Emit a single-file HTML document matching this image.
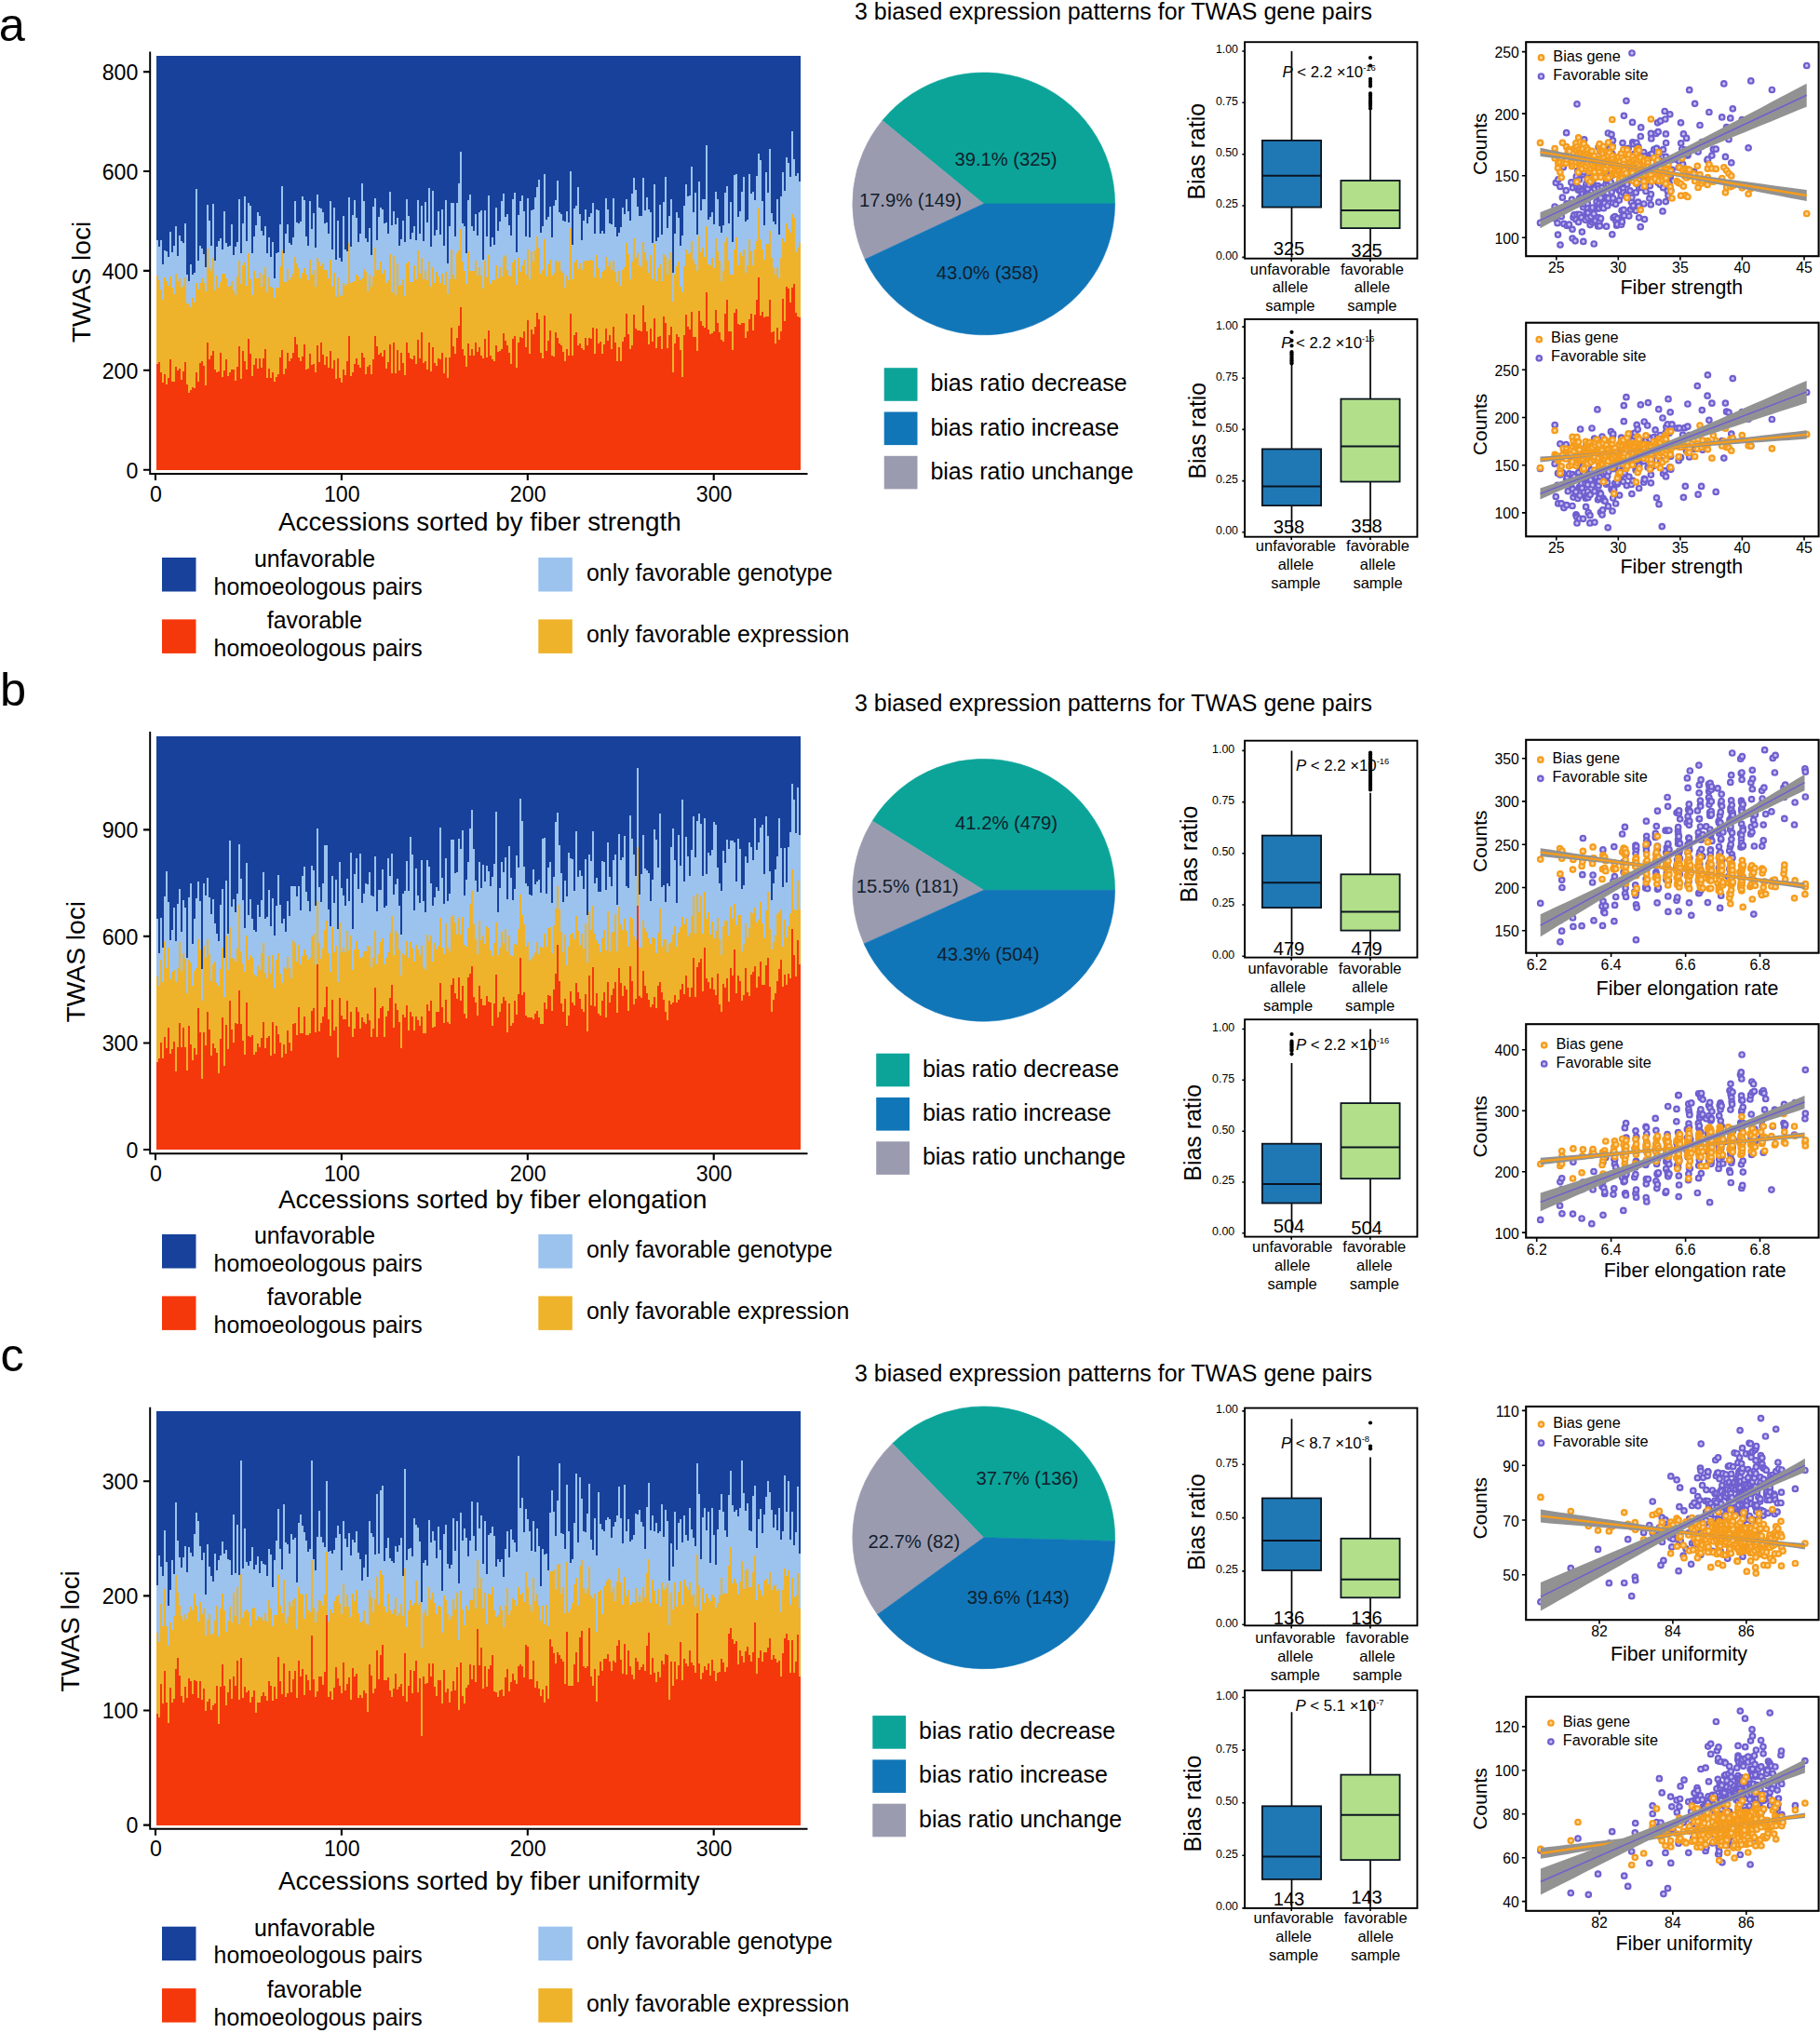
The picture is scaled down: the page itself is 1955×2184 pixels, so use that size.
<!DOCTYPE html>
<html lang="en"><head><meta charset="utf-8"><title>TWAS biased expression patterns</title>
<style>html,body{margin:0;padding:0;background:#fff}svg{display:block}text{font-family:"Liberation Sans", sans-serif}</style>
</head><body>
<svg width="1955" height="2184" viewBox="0 0 1955 2184" font-family='"Liberation Sans", sans-serif'><g shape-rendering="crispEdges">
<rect x="168.3" y="60.0" width="692.0" height="444.7" fill="#17419B"/>
<path d="M168.3 504.7V258.1h2V264.8h2V258.4h2V284.1h2V268.6h2V270.4h2V276.4h2V249.3h2V271.3h2V263.9h2V243.1h2V274.9h2V252.9h2V259.3h2V260.8h2V240.2h2V295.1h2V301.6h2V283.9h2V294.5h2V293.2h2V202.9h2V280.4h2V263.7h2V266.8h2V273.0h2V287.4h2V220.0h2V237.4h2V264.4h2V218.6h2V280.1h2V264.6h2V258.6h2V256.3h2V267.5h2V227.4h2V261.4h2V265.1h2V263.7h2V240.9h2V273.6h2V265.2h2V260.4h2V214.0h2V272.3h2V240.0h2V210.7h2V259.2h2V217.9h2V221.2h2V271.5h2V254.2h2V242.3h2V227.8h2V231.6h2V248.3h2V253.3h2V242.8h2V271.5h2V255.1h2V276.0h2V259.7h2V299.3h2V272.3h2V270.7h2V241.4h2V199.5h2V271.8h2V251.1h2V241.2h2V260.7h2V262.8h2V255.4h2V216.4h2V239.0h2V240.3h2V238.2h2V211.3h2V214.5h2V253.9h2V264.0h2V215.9h2V245.5h2V229.0h2V265.8h2V208.8h2V223.3h2V223.5h2V228.0h2V239.7h2V239.0h2V251.3h2V215.8h2V268.1h2V222.8h2V279.1h2V237.2h2V276.7h2V280.8h2V232.1h2V268.2h2V269.6h2V212.3h2V265.1h2V231.0h2V214.5h2V234.4h2V260.2h2V251.4h2V196.6h2V216.4h2V256.2h2V260.1h2V244.9h2V274.0h2V221.6h2V212.7h2V257.8h2V233.1h2V223.4h2V225.4h2V239.9h2V239.4h2V251.2h2V206.0h2V242.3h2V226.6h2V241.4h2V234.1h2V264.0h2V256.7h2V236.8h2V260.4h2V214.2h2V231.9h2V257.3h2V250.4h2V243.3h2V258.1h2V215.1h2V250.9h2V220.5h2V259.1h2V216.5h2V239.2h2V202.1h2V264.7h2V204.7h2V253.1h2V246.9h2V227.0h2V251.8h2V224.5h2V263.6h2V215.2h2V282.7h2V242.5h2V217.5h2V217.9h2V253.7h2V217.9h2V197.3h2V163.4h2V239.7h2V242.7h2V271.7h2V214.7h2V209.0h2V243.1h2V247.8h2V230.3h2V252.5h2V228.1h2V225.9h2V278.5h2V226.4h2V253.7h2V209.9h2V264.6h2V254.5h2V262.6h2V223.2h2V247.7h2V237.8h2V216.4h2V207.9h2V233.4h2V229.8h2V242.2h2V252.9h2V214.4h2V207.3h2V271.3h2V230.9h2V216.1h2V210.4h2V226.8h2V253.8h2V213.0h2V255.0h2V226.0h2V224.8h2V212.2h2V201.3h2V192.9h2V250.1h2V243.3h2V186.7h2V235.8h2V233.2h2V221.6h2V254.9h2V221.2h2V214.9h2V193.5h2V227.5h2V229.7h2V237.2h2V237.7h2V227.1h2V239.1h2V183.6h2V263.4h2V223.7h2V221.1h2V200.6h2V229.7h2V257.9h2V237.1h2V225.3h2V240.1h2V233.1h2V229.2h2V218.4h2V251.4h2V224.7h2V225.8h2V251.1h2V248.3h2V250.5h2V213.2h2V224.8h2V240.4h2V241.4h2V213.0h2V243.6h2V254.0h2V250.2h2V244.4h2V222.6h2V230.3h2V214.3h2V227.3h2V237.1h2V207.5h2V190.9h2V204.0h2V222.0h2V232.0h2V232.1h2V190.5h2V226.2h2V211.9h2V224.8h2V228.3h2V260.6h2V198.3h2V258.8h2V255.3h2V220.4h2V251.5h2V217.2h2V190.1h2V244.5h2V232.3h2V213.6h2V292.5h2V251.1h2V227.9h2V234.2h2V264.3h2V253.2h2V221.2h2V197.5h2V210.7h2V210.3h2V178.9h2V227.7h2V206.6h2V252.0h2V195.3h2V225.5h2V214.2h2V214.0h2V156.1h2V235.8h2V232.5h2V228.1h2V240.9h2V205.9h2V213.8h2V242.6h2V250.3h2V241.7h2V206.7h2V200.1h2V239.8h2V217.4h2V260.2h2V187.5h2V187.2h2V233.3h2V226.8h2V205.8h2V189.7h2V238.0h2V235.5h2V187.2h2V208.1h2V205.7h2V215.4h2V188.9h2V165.2h2V171.6h2V216.3h2V242.2h2V184.7h2V206.6h2V160.0h2V229.0h2V237.6h2V240.7h2V213.6h2V252.1h2V210.7h2V184.9h2V204.9h2V169.0h2V174.7h2V189.9h2V140.8h2V170.7h2V189.0h2V186.4h2V195.1h2V504.7Z" fill="#9CC3EE"/>
<path d="M168.3 504.7V295.6h2V300.6h2V311.4h2V321.6h2V297.8h2V302.2h2V307.3h2V296.9h2V309.1h2V315.8h2V294.4h2V301.7h2V299.4h2V308.6h2V307.1h2V297.6h2V326.1h2V326.4h2V330.3h2V320.2h2V325.2h2V304.2h2V311.1h2V304.4h2V299.0h2V304.2h2V313.3h2V267.3h2V287.5h2V291.2h2V276.6h2V311.5h2V296.2h2V308.7h2V303.0h2V293.7h2V294.2h2V299.3h2V308.0h2V307.1h2V302.2h2V311.6h2V317.2h2V297.1h2V279.5h2V304.7h2V285.3h2V281.7h2V307.3h2V272.2h2V299.7h2V316.6h2V291.1h2V298.5h2V299.4h2V293.3h2V307.9h2V294.8h2V287.0h2V313.7h2V298.2h2V307.5h2V309.3h2V320.4h2V308.8h2V308.5h2V286.1h2V269.3h2V302.7h2V302.6h2V288.5h2V301.0h2V298.2h2V294.1h2V275.5h2V282.5h2V288.3h2V298.7h2V293.2h2V287.7h2V294.6h2V300.5h2V278.6h2V294.7h2V289.8h2V308.3h2V277.0h2V281.0h2V286.0h2V283.4h2V290.2h2V290.0h2V298.5h2V279.4h2V307.7h2V293.4h2V318.6h2V298.2h2V316.6h2V317.9h2V303.8h2V307.3h2V305.4h2V261.4h2V304.0h2V303.4h2V301.9h2V294.9h2V297.2h2V300.7h2V299.1h2V289.2h2V292.4h2V313.4h2V294.6h2V307.6h2V296.8h2V265.8h2V290.2h2V290.4h2V280.7h2V294.3h2V289.6h2V304.1h2V301.4h2V272.6h2V314.4h2V275.4h2V317.0h2V283.0h2V307.3h2V305.8h2V299.9h2V317.9h2V283.1h2V280.6h2V302.8h2V302.8h2V284.6h2V300.0h2V269.0h2V294.1h2V276.5h2V300.4h2V291.1h2V301.4h2V281.0h2V307.9h2V286.6h2V304.0h2V291.6h2V296.6h2V303.8h2V293.9h2V306.2h2V292.2h2V316.3h2V300.2h2V267.5h2V295.1h2V300.4h2V272.4h2V269.1h2V246.3h2V281.3h2V290.8h2V304.9h2V269.8h2V290.7h2V291.1h2V290.7h2V280.2h2V296.4h2V286.9h2V295.7h2V309.8h2V280.0h2V298.3h2V274.0h2V305.2h2V300.7h2V300.6h2V285.0h2V299.0h2V286.9h2V296.7h2V275.7h2V273.9h2V290.1h2V295.8h2V297.3h2V282.3h2V279.3h2V306.3h2V277.3h2V292.1h2V284.5h2V279.1h2V295.1h2V268.1h2V299.8h2V269.9h2V281.2h2V268.5h2V254.0h2V266.4h2V293.5h2V289.9h2V257.3h2V296.7h2V283.5h2V278.9h2V295.9h2V293.0h2V280.0h2V282.2h2V279.6h2V291.0h2V293.0h2V308.9h2V296.2h2V300.7h2V245.2h2V300.4h2V281.9h2V279.0h2V289.1h2V282.9h2V290.3h2V281.0h2V280.4h2V280.4h2V279.6h2V279.3h2V280.3h2V297.9h2V273.8h2V288.3h2V298.6h2V292.0h2V290.1h2V276.0h2V286.2h2V280.9h2V290.3h2V279.7h2V292.1h2V302.6h2V290.6h2V307.3h2V289.5h2V286.9h2V260.6h2V272.6h2V299.6h2V281.3h2V255.9h2V277.1h2V272.0h2V285.4h2V287.1h2V260.1h2V271.2h2V279.5h2V293.1h2V274.2h2V300.1h2V262.2h2V302.0h2V287.6h2V284.4h2V301.8h2V272.5h2V276.3h2V294.6h2V278.7h2V270.7h2V323.5h2V294.6h2V286.3h2V281.4h2V308.1h2V314.4h2V285.5h2V268.0h2V273.1h2V271.2h2V259.0h2V278.9h2V283.7h2V290.6h2V253.3h2V270.6h2V266.3h2V275.5h2V242.5h2V283.8h2V284.5h2V277.3h2V287.6h2V256.1h2V270.3h2V280.1h2V301.5h2V291.0h2V259.8h2V255.0h2V280.4h2V295.3h2V294.6h2V267.5h2V255.2h2V285.4h2V271.2h2V274.9h2V268.4h2V293.3h2V284.8h2V257.4h2V270.3h2V285.1h2V267.8h2V258.5h2V224.4h2V257.1h2V268.0h2V279.4h2V261.5h2V261.7h2V248.1h2V276.7h2V288.2h2V295.4h2V287.4h2V299.3h2V276.7h2V255.9h2V259.6h2V240.0h2V245.6h2V250.2h2V230.3h2V234.1h2V271.4h2V265.5h2V260.8h2V504.7Z" fill="#EEB32B"/>
<path d="M168.3 504.7V391.3h2V389.4h2V400.0h2V411.0h2V401.9h2V413.0h2V406.1h2V386.4h2V409.6h2V410.3h2V393.5h2V398.4h2V395.7h2V408.3h2V398.7h2V389.0h2V412.6h2V421.5h2V419.3h2V416.3h2V416.5h2V399.7h2V409.9h2V389.8h2V387.6h2V392.7h2V414.2h2V368.4h2V385.5h2V381.7h2V377.3h2V397.0h2V399.7h2V399.4h2V378.8h2V404.5h2V397.8h2V386.1h2V404.0h2V400.4h2V396.9h2V397.0h2V408.7h2V393.6h2V371.8h2V407.0h2V377.4h2V388.4h2V397.0h2V363.6h2V380.3h2V403.9h2V392.2h2V385.3h2V396.2h2V385.3h2V395.2h2V385.0h2V375.0h2V405.5h2V396.1h2V406.0h2V399.7h2V410.2h2V404.9h2V401.9h2V384.0h2V375.8h2V401.6h2V395.5h2V378.6h2V388.2h2V384.6h2V379.2h2V362.2h2V369.9h2V384.3h2V388.3h2V383.4h2V370.3h2V397.2h2V396.3h2V379.9h2V391.6h2V390.6h2V400.0h2V370.8h2V388.6h2V368.0h2V381.0h2V392.2h2V383.4h2V395.3h2V377.0h2V396.0h2V387.1h2V406.9h2V385.0h2V406.2h2V411.0h2V396.9h2V403.0h2V387.9h2V361.1h2V403.8h2V400.2h2V391.0h2V384.8h2V391.8h2V394.8h2V378.6h2V383.9h2V402.4h2V393.6h2V391.7h2V402.1h2V386.4h2V361.3h2V371.5h2V380.9h2V378.7h2V382.8h2V375.9h2V395.9h2V389.0h2V369.9h2V400.5h2V368.3h2V401.0h2V375.5h2V397.7h2V379.0h2V389.9h2V403.0h2V367.7h2V378.5h2V385.4h2V385.7h2V382.1h2V390.5h2V365.0h2V385.1h2V356.8h2V389.5h2V387.8h2V397.4h2V367.7h2V398.6h2V373.2h2V389.7h2V392.9h2V385.3h2V385.5h2V378.7h2V401.0h2V384.4h2V406.4h2V384.4h2V351.9h2V371.6h2V380.1h2V362.7h2V350.0h2V329.9h2V375.4h2V382.3h2V394.0h2V368.5h2V382.2h2V375.4h2V382.4h2V368.2h2V377.8h2V373.4h2V381.7h2V385.3h2V363.8h2V383.7h2V355.0h2V382.1h2V385.8h2V387.8h2V370.9h2V378.2h2V376.5h2V375.0h2V357.8h2V366.3h2V370.9h2V378.6h2V391.1h2V364.0h2V361.0h2V395.3h2V367.9h2V362.4h2V363.0h2V355.7h2V373.2h2V344.1h2V380.1h2V353.9h2V358.5h2V350.9h2V336.3h2V342.6h2V379.2h2V385.3h2V339.2h2V377.4h2V366.3h2V355.1h2V382.4h2V383.2h2V356.8h2V363.4h2V369.4h2V371.3h2V378.2h2V387.9h2V374.8h2V381.9h2V336.8h2V382.2h2V360.3h2V356.8h2V370.8h2V369.2h2V374.4h2V376.2h2V363.2h2V371.4h2V362.5h2V364.3h2V351.7h2V380.4h2V353.3h2V368.6h2V367.4h2V380.1h2V369.5h2V353.0h2V365.7h2V359.8h2V374.7h2V351.4h2V367.6h2V387.6h2V373.0h2V388.4h2V366.8h2V361.9h2V337.2h2V359.1h2V374.7h2V371.0h2V337.5h2V352.9h2V355.3h2V355.4h2V355.5h2V327.7h2V346.1h2V356.0h2V370.2h2V352.7h2V367.1h2V341.5h2V373.9h2V362.4h2V360.5h2V375.2h2V340.3h2V347.0h2V374.4h2V360.2h2V350.9h2V400.4h2V368.8h2V358.5h2V362.0h2V375.5h2V404.5h2V360.1h2V338.1h2V351.3h2V353.8h2V335.2h2V362.4h2V361.7h2V376.8h2V334.4h2V345.0h2V350.3h2V352.1h2V314.1h2V354.1h2V359.1h2V357.9h2V355.6h2V332.8h2V346.8h2V357.4h2V365.1h2V367.0h2V336.6h2V321.5h2V356.1h2V356.4h2V375.9h2V336.0h2V332.3h2V348.4h2V349.1h2V347.0h2V346.5h2V363.1h2V355.5h2V343.3h2V337.3h2V354.8h2V338.0h2V322.4h2V298.3h2V339.0h2V335.0h2V341.0h2V340.0h2V339.6h2V322.2h2V356.8h2V356.2h2V369.0h2V351.7h2V364.9h2V355.5h2V320.8h2V344.9h2V308.0h2V309.7h2V324.6h2V308.9h2V304.5h2V335.6h2V339.7h2V341.2h2V504.7Z" fill="#F5380B"/>
</g>
<path d="M161.2 55.5V508.9H867.5" fill="none" stroke="#000" stroke-width="1.95"/>
<text x="148.4" y="513.5" font-size="23.2" text-anchor="end" fill="#000">0</text>
<text x="148.4" y="406.6" font-size="23.2" text-anchor="end" fill="#000">200</text>
<text x="148.4" y="299.7" font-size="23.2" text-anchor="end" fill="#000">400</text>
<text x="148.4" y="192.8" font-size="23.2" text-anchor="end" fill="#000">600</text>
<text x="148.4" y="85.9" font-size="23.2" text-anchor="end" fill="#000">800</text>
<text x="167.4" y="538.5" font-size="23.2" text-anchor="middle" fill="#000">0</text>
<text x="367.3" y="538.5" font-size="23.2" text-anchor="middle" fill="#000">100</text>
<text x="567.2" y="538.5" font-size="23.2" text-anchor="middle" fill="#000">200</text>
<text x="767.1" y="538.5" font-size="23.2" text-anchor="middle" fill="#000">300</text>
<path d="M154.0 504.7h7.2M154.0 397.8h7.2M154.0 290.9h7.2M154.0 184.0h7.2M154.0 77.1h7.2M167.0 508.9v7M366.9 508.9v7M566.8 508.9v7M766.7 508.9v7" stroke="#000" stroke-width="2.1"/>
<text x="299.0" y="570.0" font-size="27.8" text-anchor="start" fill="#000">Accessions sorted by fiber strength</text>
<text transform="translate(96.7,302.9) rotate(-90)" font-size="28.2" text-anchor="middle">TWAS loci</text>
<rect x="174" y="599.0" width="36.5" height="36.5" fill="#17419B"/>
<rect x="174" y="665.4" width="36.5" height="36.5" fill="#F5380B"/>
<rect x="578.3" y="599.0" width="36.5" height="36.5" fill="#9CC3EE"/>
<rect x="578.3" y="665.4" width="36.5" height="36.5" fill="#EEB32B"/>
<text x="338.0" y="608.8" font-size="24.9" text-anchor="middle" fill="#000">unfavorable</text>
<text x="341.7" y="638.7" font-size="24.9" text-anchor="middle" fill="#000">homoeologous pairs</text>
<text x="338.0" y="674.9" font-size="24.9" text-anchor="middle" fill="#000">favorable</text>
<text x="341.7" y="704.8" font-size="24.9" text-anchor="middle" fill="#000">homoeologous pairs</text>
<text x="630.0" y="623.7" font-size="24.9" text-anchor="start" fill="#000">only favorable genotype</text>
<text x="630.0" y="690.3" font-size="24.9" text-anchor="start" fill="#000">only favorable expression</text>
<g shape-rendering="crispEdges">
<rect x="168.3" y="790.6" width="692.0" height="444.4" fill="#17419B"/>
<path d="M168.3 1235.0V987.3h2V1023.9h2V986.2h2V1018.0h2V962.9h2V935.7h2V969.3h2V1010.4h2V998.6h2V975.3h2V1011.1h2V971.1h2V955.0h2V1000.9h2V966.5h2V974.9h2V1029.3h2V963.8h2V948.6h2V1014.4h2V987.2h2V965.4h2V946.5h2V967.9h2V1041.4h2V949.0h2V961.8h2V942.8h2V963.5h2V981.5h2V965.6h2V991.9h2V1003.1h2V1010.9h2V971.7h2V955.2h2V1028.9h2V946.2h2V1003.3h2V903.1h2V974.1h2V965.9h2V979.6h2V960.1h2V907.3h2V943.8h2V967.2h2V996.6h2V927.3h2V983.2h2V966.1h2V986.5h2V999.3h2V1000.9h2V971.6h2V984.6h2V967.4h2V936.6h2V987.2h2V984.6h2V955.8h2V994.6h2V965.1h2V1004.6h2V972.8h2V939.6h2V972.0h2V991.8h2V987.3h2V1000.6h2V967.7h2V984.4h2V952.0h2V951.5h2V951.9h2V962.9h2V951.6h2V977.6h2V940.5h2V930.5h2V957.5h2V967.8h2V979.2h2V929.7h2V934.6h2V972.8h2V889.9h2V953.4h2V968.8h2V949.2h2V908.1h2V907.8h2V976.5h2V994.7h2V940.8h2V970.1h2V945.4h2V997.7h2V925.9h2V953.6h2V961.7h2V973.1h2V943.8h2V968.2h2V915.7h2V997.6h2V939.2h2V921.5h2V955.1h2V916.8h2V969.8h2V959.7h2V949.4h2V949.5h2V937.1h2V961.9h2V963.0h2V919.7h2V978.9h2V956.1h2V955.5h2V933.7h2V975.2h2V973.3h2V922.0h2V940.7h2V917.3h2V961.1h2V949.5h2V943.6h2V972.6h2V1003.5h2V960.0h2V956.6h2V924.6h2V956.8h2V898.7h2V918.0h2V977.6h2V932.6h2V961.8h2V970.4h2V923.5h2V967.7h2V979.8h2V923.6h2V930.6h2V948.7h2V973.2h2V964.2h2V952.8h2V956.7h2V888.8h2V943.0h2V970.8h2V922.0h2V968.1h2V960.1h2V901.9h2V902.0h2V937.5h2V936.8h2V900.5h2V911.6h2V892.0h2V962.2h2V945.1h2V926.3h2V889.5h2V869.6h2V911.5h2V946.4h2V957.9h2V926.2h2V954.4h2V929.2h2V946.7h2V930.1h2V936.2h2V952.2h2V941.8h2V928.0h2V872.1h2V980.0h2V953.5h2V926.0h2V936.8h2V921.1h2V966.3h2V909.2h2V943.0h2V967.2h2V955.1h2V918.7h2V932.2h2V858.2h2V882.4h2V931.2h2V949.4h2V952.4h2V961.1h2V962.2h2V933.6h2V950.1h2V946.9h2V944.6h2V959.1h2V901.2h2V899.8h2V959.7h2V931.6h2V926.0h2V970.0h2V942.4h2V882.5h2V872.6h2V907.9h2V938.1h2V968.9h2V946.1h2V963.0h2V915.7h2V921.9h2V923.4h2V957.3h2V892.8h2V941.5h2V935.0h2V940.5h2V954.5h2V923.0h2V982.6h2V917.9h2V924.7h2V893.1h2V948.8h2V943.4h2V958.2h2V957.6h2V925.0h2V925.6h2V956.4h2V905.1h2V942.2h2V951.7h2V923.9h2V918.4h2V971.5h2V896.0h2V924.1h2V921.1h2V897.7h2V951.9h2V954.3h2V875.6h2V900.6h2V917.7h2V941.3h2V825.2h2V960.8h2V939.4h2V897.1h2V932.9h2V934.8h2V937.6h2V967.6h2V945.0h2V891.1h2V902.4h2V932.2h2V873.8h2V952.9h2V950.5h2V968.6h2V948.9h2V951.9h2V910.0h2V889.8h2V924.4h2V969.5h2V896.5h2V930.0h2V859.1h2V946.8h2V898.7h2V920.1h2V941.4h2V912.5h2V876.7h2V921.1h2V881.6h2V874.0h2V885.0h2V940.9h2V879.3h2V938.9h2V916.4h2V918.9h2V913.0h2V882.9h2V886.1h2V931.7h2V948.7h2V957.3h2V913.8h2V927.2h2V902.4h2V911.6h2V903.1h2V902.7h2V904.7h2V946.8h2V900.8h2V912.1h2V954.9h2V951.4h2V919.9h2V927.1h2V904.6h2V909.5h2V923.9h2V879.1h2V913.0h2V905.2h2V888.8h2V886.3h2V938.5h2V876.9h2V898.4h2V935.8h2V967.0h2V948.9h2V934.2h2V919.7h2V878.6h2V910.5h2V953.3h2V910.9h2V947.7h2V909.5h2V894.1h2V841.6h2V859.1h2V894.7h2V845.8h2V897.1h2V1235.0Z" fill="#9CC3EE"/>
<path d="M168.3 1235.0V1049.2h2V1059.2h2V1030.9h2V1055.1h2V1010.5h2V1040.1h2V1018.0h2V1052.0h2V1043.6h2V1042.0h2V1054.6h2V1040.1h2V1012.0h2V1043.3h2V1023.5h2V1030.4h2V1067.3h2V1030.8h2V1033.8h2V1059.3h2V1042.8h2V1039.8h2V1008.5h2V1019.6h2V1074.6h2V1015.5h2V1029.2h2V1009.3h2V1025.1h2V1054.0h2V1035.6h2V1032.9h2V1055.9h2V1058.5h2V1041.2h2V1018.2h2V1070.9h2V1005.0h2V1041.9h2V995.6h2V1029.1h2V1029.7h2V1032.7h2V1018.8h2V972.2h2V1021.7h2V1035.3h2V1044.2h2V1004.6h2V1030.9h2V1025.8h2V1028.9h2V1046.7h2V1049.0h2V1036.7h2V1042.0h2V1023.6h2V1013.3h2V1044.6h2V1050.9h2V1026.7h2V1045.7h2V1025.5h2V1062.3h2V1030.7h2V1023.8h2V1045.9h2V1056.3h2V1039.2h2V1040.5h2V1027.6h2V1039.5h2V1051.0h2V1010.4h2V1013.0h2V1033.1h2V1015.4h2V1035.7h2V1027.1h2V1019.5h2V1026.2h2V1030.5h2V1029.0h2V1005.5h2V1003.4h2V1035.9h2V968.0h2V1013.3h2V1029.9h2V1019.0h2V999.2h2V988.7h2V1024.2h2V1043.5h2V996.1h2V1022.5h2V1015.8h2V1054.7h2V991.4h2V1022.8h2V1018.2h2V1023.3h2V1000.3h2V1021.2h2V1004.8h2V1042.4h2V1019.6h2V1010.8h2V1019.8h2V1029.4h2V1028.2h2V1022.4h2V1022.0h2V1015.5h2V1016.6h2V1038.5h2V1028.8h2V999.5h2V1036.2h2V1025.4h2V1012.3h2V1008.3h2V1035.8h2V1029.4h2V1022.9h2V1002.2h2V984.4h2V1026.1h2V999.5h2V1002.8h2V1020.2h2V1047.8h2V1023.8h2V1025.6h2V1010.5h2V1029.3h2V1012.4h2V1018.6h2V1032.6h2V1014.5h2V1020.3h2V1025.5h2V1016.2h2V1038.5h2V1041.6h2V1003.9h2V1010.6h2V1005.1h2V1032.6h2V1013.3h2V1020.2h2V1016.0h2V985.9h2V1018.4h2V1024.7h2V991.5h2V1018.3h2V1022.1h2V985.3h2V983.0h2V990.6h2V1003.7h2V985.7h2V1003.9h2V984.7h2V1014.5h2V1016.6h2V997.1h2V971.0h2V956.8h2V992.6h2V1009.2h2V1024.7h2V989.0h2V1010.3h2V1005.1h2V1013.6h2V994.8h2V996.6h2V1020.9h2V1026.9h2V1012.6h2V990.9h2V1025.6h2V1017.7h2V1001.3h2V1012.8h2V998.4h2V1021.9h2V1004.8h2V1026.3h2V1027.3h2V1014.1h2V1015.3h2V997.5h2V960.5h2V983.2h2V993.3h2V1017.1h2V1011.6h2V1031.7h2V1029.7h2V1026.5h2V1023.1h2V1011.5h2V1024.8h2V1016.7h2V1018.1h2V1003.1h2V1016.9h2V997.0h2V996.3h2V1024.0h2V993.5h2V976.4h2V952.1h2V977.4h2V1001.4h2V1023.2h2V1004.0h2V1036.7h2V1016.7h2V1004.3h2V1002.3h2V1008.6h2V983.9h2V1000.3h2V1015.3h2V1003.0h2V1018.7h2V991.8h2V1033.7h2V978.9h2V999.4h2V973.1h2V1002.7h2V1010.4h2V1014.0h2V1023.4h2V1008.2h2V999.3h2V1020.7h2V978.8h2V1022.0h2V1002.3h2V1000.7h2V982.4h2V1022.1h2V974.0h2V993.3h2V998.6h2V986.9h2V999.6h2V1016.9h2V985.2h2V987.4h2V1005.8h2V1009.8h2V910.2h2V1017.8h2V1017.9h2V988.9h2V997.2h2V1001.0h2V1008.0h2V1014.4h2V1006.5h2V1007.9h2V1023.9h2V1002.4h2V975.5h2V1016.5h2V1008.7h2V1008.6h2V1023.1h2V1014.0h2V1011.7h2V1003.8h2V994.7h2V1016.5h2V1002.2h2V995.9h2V984.7h2V992.6h2V987.2h2V1005.7h2V1002.0h2V983.5h2V962.8h2V1002.9h2V959.8h2V979.5h2V962.2h2V1003.3h2V957.9h2V986.5h2V979.9h2V1003.7h2V989.8h2V1008.4h2V999.9h2V985.8h2V1009.2h2V1026.3h2V995.0h2V988.7h2V988.8h2V1005.4h2V974.4h2V987.2h2V971.1h2V994.3h2V983.3h2V983.3h2V1022.0h2V1014.2h2V992.3h2V1006.6h2V997.3h2V980.1h2V981.3h2V974.9h2V990.7h2V987.8h2V968.5h2V992.4h2V1008.4h2V978.0h2V958.3h2V998.2h2V1019.7h2V1012.0h2V1005.1h2V982.2h2V980.2h2V977.0h2V1016.6h2V987.8h2V1006.7h2V995.0h2V980.7h2V934.0h2V977.1h2V977.6h2V945.8h2V976.7h2V1235.0Z" fill="#EEB32B"/>
<path d="M168.3 1235.0V1140.5h2V1136.6h2V1120.1h2V1136.6h2V1113.9h2V1125.7h2V1103.7h2V1131.7h2V1127.3h2V1119.0h2V1151.0h2V1124.8h2V1099.1h2V1124.9h2V1103.6h2V1125.4h2V1149.6h2V1101.6h2V1122.1h2V1138.9h2V1125.5h2V1132.5h2V1083.4h2V1109.2h2V1159.4h2V1109.0h2V1123.3h2V1086.6h2V1106.3h2V1134.3h2V1121.4h2V1125.6h2V1131.4h2V1152.7h2V1115.5h2V1092.9h2V1145.4h2V1100.8h2V1126.7h2V1075.4h2V1106.2h2V1120.4h2V1098.9h2V1099.7h2V1063.7h2V1099.6h2V1118.1h2V1133.3h2V1076.5h2V1112.9h2V1114.3h2V1111.8h2V1133.3h2V1130.2h2V1121.4h2V1125.2h2V1115.2h2V1097.7h2V1125.6h2V1115.4h2V1112.5h2V1134.4h2V1098.3h2V1131.5h2V1102.2h2V1110.5h2V1119.9h2V1136.4h2V1122.2h2V1131.5h2V1107.0h2V1119.8h2V1129.2h2V1100.1h2V1098.6h2V1112.3h2V1081.9h2V1109.6h2V1110.4h2V1091.5h2V1111.7h2V1112.4h2V1110.1h2V1086.0h2V1082.5h2V1108.7h2V1035.6h2V1107.8h2V1098.9h2V1092.2h2V1081.6h2V1060.0h2V1095.2h2V1113.0h2V1073.6h2V1107.3h2V1102.6h2V1136.3h2V1072.0h2V1091.4h2V1095.4h2V1094.5h2V1075.0h2V1103.2h2V1087.0h2V1113.6h2V1105.2h2V1081.6h2V1087.3h2V1104.9h2V1093.4h2V1098.1h2V1099.9h2V1088.6h2V1095.5h2V1113.8h2V1105.2h2V1060.5h2V1113.6h2V1094.4h2V1082.5h2V1080.7h2V1114.1h2V1092.4h2V1085.7h2V1071.9h2V1057.7h2V1104.1h2V1077.9h2V1084.8h2V1098.3h2V1125.5h2V1090.3h2V1093.0h2V1079.5h2V1106.5h2V1086.9h2V1092.2h2V1106.8h2V1092.3h2V1095.5h2V1102.1h2V1091.6h2V1110.2h2V1109.8h2V1078.8h2V1085.8h2V1074.5h2V1104.2h2V1103.2h2V1087.2h2V1086.7h2V1056.2h2V1082.0h2V1099.0h2V1074.4h2V1098.0h2V1099.9h2V1057.8h2V1051.3h2V1066.5h2V1072.6h2V1050.1h2V1074.7h2V1059.2h2V1088.5h2V1093.5h2V1050.2h2V1045.6h2V1038.4h2V1071.2h2V1077.1h2V1090.5h2V1058.7h2V1073.0h2V1080.4h2V1080.2h2V1070.4h2V1075.6h2V1076.6h2V1101.6h2V1077.5h2V1047.2h2V1092.8h2V1086.9h2V1078.0h2V1071.1h2V1074.8h2V1109.0h2V1078.4h2V1102.4h2V1099.1h2V1075.0h2V1089.7h2V1068.3h2V1028.8h2V1069.0h2V1066.0h2V1090.7h2V1093.3h2V1093.3h2V1092.6h2V1094.9h2V1088.9h2V1086.2h2V1093.4h2V1100.1h2V1100.0h2V1077.0h2V1083.7h2V1068.8h2V1069.6h2V1086.3h2V1062.7h2V1046.0h2V1014.6h2V1053.8h2V1078.2h2V1087.1h2V1072.7h2V1102.2h2V1090.6h2V1065.2h2V1076.8h2V1079.8h2V1056.3h2V1066.1h2V1072.9h2V1084.0h2V1086.7h2V1068.2h2V1108.4h2V1048.1h2V1080.3h2V1038.7h2V1080.6h2V1066.8h2V1089.2h2V1091.3h2V1074.8h2V1065.8h2V1092.7h2V1055.2h2V1077.0h2V1069.3h2V1061.6h2V1055.4h2V1088.1h2V1040.3h2V1055.5h2V1069.8h2V1059.2h2V1062.6h2V1085.7h2V1038.2h2V1054.2h2V1079.3h2V1072.9h2V972.8h2V1070.0h2V1071.9h2V1042.6h2V1059.0h2V1067.2h2V1074.3h2V1081.7h2V1078.9h2V1071.2h2V1083.2h2V1058.8h2V1054.5h2V1066.1h2V1074.3h2V1086.9h2V1095.8h2V1075.2h2V1079.1h2V1076.7h2V1069.1h2V1077.4h2V1074.1h2V1062.9h2V1056.9h2V1068.1h2V1048.3h2V1060.7h2V1071.0h2V1060.7h2V1028.6h2V1070.6h2V1038.6h2V1034.2h2V1029.6h2V1064.8h2V1018.0h2V1050.8h2V1054.5h2V1062.4h2V1049.7h2V1062.5h2V1069.1h2V1045.7h2V1079.1h2V1086.9h2V1056.9h2V1060.7h2V1051.3h2V1076.4h2V1040.4h2V1048.1h2V1020.4h2V1066.6h2V1047.7h2V1054.1h2V1074.6h2V1068.5h2V1039.8h2V1066.0h2V1070.4h2V1047.2h2V1043.9h2V1037.9h2V1060.7h2V1049.1h2V1032.7h2V1057.8h2V1057.8h2V1037.3h2V1028.6h2V1060.2h2V1086.7h2V1074.3h2V1067.4h2V1053.9h2V1040.8h2V1031.2h2V1060.0h2V1047.3h2V1058.2h2V1046.4h2V1050.9h2V997.5h2V1026.3h2V1048.8h2V1009.9h2V1035.6h2V1235.0Z" fill="#F5380B"/>
</g>
<path d="M161.2 786.1V1239.2H867.5" fill="none" stroke="#000" stroke-width="1.95"/>
<text x="148.4" y="1243.8" font-size="23.2" text-anchor="end" fill="#000">0</text>
<text x="148.4" y="1129.3" font-size="23.2" text-anchor="end" fill="#000">300</text>
<text x="148.4" y="1014.7" font-size="23.2" text-anchor="end" fill="#000">600</text>
<text x="148.4" y="900.2" font-size="23.2" text-anchor="end" fill="#000">900</text>
<text x="167.4" y="1268.8" font-size="23.2" text-anchor="middle" fill="#000">0</text>
<text x="367.3" y="1268.8" font-size="23.2" text-anchor="middle" fill="#000">100</text>
<text x="567.2" y="1268.8" font-size="23.2" text-anchor="middle" fill="#000">200</text>
<text x="767.1" y="1268.8" font-size="23.2" text-anchor="middle" fill="#000">300</text>
<path d="M154.0 1235.0h7.2M154.0 1120.5h7.2M154.0 1005.9h7.2M154.0 891.4h7.2M167.0 1239.2v7M366.9 1239.2v7M566.8 1239.2v7M766.7 1239.2v7" stroke="#000" stroke-width="2.1"/>
<text x="299.0" y="1297.9" font-size="27.8" text-anchor="start" fill="#000">Accessions sorted by fiber elongation</text>
<text transform="translate(90.7,1033.2) rotate(-90)" font-size="28.2" text-anchor="middle">TWAS loci</text>
<rect x="174" y="1326.0" width="36.5" height="36.5" fill="#17419B"/>
<rect x="174" y="1392.4" width="36.5" height="36.5" fill="#F5380B"/>
<rect x="578.3" y="1326.0" width="36.5" height="36.5" fill="#9CC3EE"/>
<rect x="578.3" y="1392.4" width="36.5" height="36.5" fill="#EEB32B"/>
<text x="338.0" y="1335.8" font-size="24.9" text-anchor="middle" fill="#000">unfavorable</text>
<text x="341.7" y="1365.7" font-size="24.9" text-anchor="middle" fill="#000">homoeologous pairs</text>
<text x="338.0" y="1401.9" font-size="24.9" text-anchor="middle" fill="#000">favorable</text>
<text x="341.7" y="1431.8" font-size="24.9" text-anchor="middle" fill="#000">homoeologous pairs</text>
<text x="630.0" y="1350.7" font-size="24.9" text-anchor="start" fill="#000">only favorable genotype</text>
<text x="630.0" y="1417.3" font-size="24.9" text-anchor="start" fill="#000">only favorable expression</text>
<g shape-rendering="crispEdges">
<rect x="168.3" y="1516.2" width="692.0" height="444.4" fill="#17419B"/>
<path d="M168.3 1960.6V1702.7h2V1671.4h2V1683.0h2V1693.3h2V1644.2h2V1678.2h2V1725.0h2V1708.2h2V1676.4h2V1691.2h2V1614.3h2V1654.7h2V1672.6h2V1684.2h2V1673.3h2V1660.9h2V1688.9h2V1662.3h2V1667.8h2V1671.8h2V1648.1h2V1625.1h2V1633.7h2V1660.5h2V1675.6h2V1667.8h2V1712.9h2V1659.0h2V1682.8h2V1692.9h2V1699.1h2V1668.6h2V1686.7h2V1676.4h2V1670.8h2V1656.3h2V1668.6h2V1664.7h2V1675.2h2V1675.9h2V1692.4h2V1627.4h2V1690.3h2V1638.2h2V1692.2h2V1568.6h2V1685.1h2V1642.3h2V1677.9h2V1681.7h2V1677.4h2V1661.9h2V1685.6h2V1680.6h2V1671.6h2V1690.0h2V1677.3h2V1679.8h2V1680.9h2V1692.5h2V1663.6h2V1670.1h2V1704.8h2V1675.6h2V1654.7h2V1621.2h2V1664.2h2V1685.7h2V1615.6h2V1657.4h2V1659.1h2V1669.1h2V1648.4h2V1653.7h2V1652.1h2V1700.0h2V1635.9h2V1627.2h2V1639.0h2V1646.3h2V1654.8h2V1667.0h2V1664.1h2V1569.4h2V1674.6h2V1686.9h2V1650.9h2V1623.2h2V1650.9h2V1656.7h2V1661.7h2V1591.1h2V1667.3h2V1666.3h2V1669.2h2V1665.0h2V1652.0h2V1638.6h2V1647.9h2V1687.3h2V1634.3h2V1653.0h2V1662.4h2V1646.9h2V1670.7h2V1654.0h2V1656.5h2V1644.6h2V1667.6h2V1675.3h2V1697.5h2V1683.9h2V1670.3h2V1693.5h2V1634.0h2V1647.3h2V1650.9h2V1669.9h2V1604.7h2V1669.2h2V1601.4h2V1596.1h2V1677.0h2V1663.4h2V1652.0h2V1674.2h2V1677.4h2V1679.1h2V1661.1h2V1666.7h2V1660.2h2V1652.3h2V1692.8h2V1577.6h2V1675.9h2V1664.3h2V1663.0h2V1672.2h2V1631.0h2V1638.4h2V1640.8h2V1656.1h2V1720.8h2V1678.6h2V1676.2h2V1682.4h2V1633.1h2V1657.0h2V1645.4h2V1655.1h2V1673.9h2V1639.6h2V1665.0h2V1709.1h2V1648.0h2V1637.9h2V1680.0h2V1684.8h2V1680.8h2V1631.4h2V1666.0h2V1633.8h2V1701.1h2V1625.4h2V1655.2h2V1642.0h2V1651.5h2V1671.6h2V1654.6h2V1612.8h2V1650.0h2V1666.2h2V1613.5h2V1642.4h2V1627.9h2V1680.2h2V1634.3h2V1691.2h2V1649.1h2V1647.2h2V1640.4h2V1649.5h2V1683.1h2V1675.3h2V1677.9h2V1675.2h2V1693.8h2V1663.8h2V1645.1h2V1673.3h2V1643.2h2V1653.7h2V1657.2h2V1666.9h2V1564.1h2V1619.5h2V1609.2h2V1646.4h2V1620.8h2V1631.6h2V1645.0h2V1665.6h2V1633.8h2V1666.7h2V1641.5h2V1660.6h2V1703.6h2V1663.9h2V1670.4h2V1668.5h2V1686.8h2V1625.1h2V1600.9h2V1624.3h2V1650.4h2V1611.6h2V1571.8h2V1647.1h2V1647.9h2V1664.4h2V1595.4h2V1645.3h2V1679.3h2V1675.3h2V1635.8h2V1583.2h2V1656.5h2V1587.1h2V1610.0h2V1645.4h2V1645.7h2V1625.9h2V1594.3h2V1653.9h2V1664.7h2V1631.3h2V1671.2h2V1603.1h2V1637.0h2V1642.5h2V1645.0h2V1633.4h2V1630.4h2V1632.0h2V1652.3h2V1639.6h2V1635.4h2V1627.7h2V1597.2h2V1630.5h2V1658.3h2V1595.4h2V1644.8h2V1632.4h2V1655.7h2V1654.4h2V1649.0h2V1625.7h2V1627.3h2V1622.3h2V1634.7h2V1640.1h2V1663.9h2V1618.9h2V1592.9h2V1643.6h2V1627.6h2V1645.4h2V1636.4h2V1647.2h2V1645.2h2V1615.8h2V1651.4h2V1621.5h2V1634.1h2V1698.2h2V1658.4h2V1682.6h2V1623.8h2V1665.3h2V1636.4h2V1631.8h2V1657.2h2V1628.3h2V1648.6h2V1655.3h2V1619.8h2V1642.9h2V1651.5h2V1660.8h2V1572.4h2V1605.1h2V1674.5h2V1629.5h2V1620.2h2V1643.8h2V1624.3h2V1679.1h2V1619.7h2V1648.8h2V1681.4h2V1643.2h2V1622.4h2V1604.7h2V1623.9h2V1644.3h2V1650.9h2V1605.9h2V1580.2h2V1616.6h2V1624.1h2V1622.3h2V1629.3h2V1619.8h2V1569.0h2V1603.6h2V1623.3h2V1614.5h2V1644.4h2V1645.3h2V1606.6h2V1596.0h2V1662.5h2V1632.4h2V1620.6h2V1646.7h2V1627.4h2V1607.7h2V1591.1h2V1603.3h2V1621.5h2V1640.7h2V1626.9h2V1644.1h2V1620.3h2V1653.8h2V1644.5h2V1584.9h2V1624.0h2V1590.7h2V1653.8h2V1624.4h2V1659.7h2V1645.5h2V1597.1h2V1669.3h2V1960.6Z" fill="#9CC3EE"/>
<path d="M168.3 1960.6V1753.6h2V1763.5h2V1722.8h2V1746.8h2V1706.8h2V1747.0h2V1768.3h2V1743.4h2V1751.3h2V1735.9h2V1692.1h2V1710.7h2V1725.3h2V1735.6h2V1740.7h2V1733.5h2V1738.8h2V1732.3h2V1725.6h2V1730.2h2V1712.0h2V1725.3h2V1741.6h2V1720.6h2V1733.9h2V1727.8h2V1756.5h2V1740.4h2V1733.7h2V1756.0h2V1755.3h2V1741.4h2V1725.4h2V1757.6h2V1728.2h2V1711.7h2V1730.4h2V1753.2h2V1740.5h2V1725.9h2V1743.3h2V1711.4h2V1736.4h2V1704.7h2V1744.5h2V1691.4h2V1737.8h2V1731.3h2V1728.8h2V1732.0h2V1747.0h2V1727.6h2V1727.1h2V1741.2h2V1735.7h2V1738.2h2V1736.8h2V1741.4h2V1732.6h2V1741.5h2V1718.6h2V1727.5h2V1746.6h2V1734.9h2V1735.4h2V1691.9h2V1725.0h2V1732.6h2V1696.6h2V1743.8h2V1737.1h2V1721.0h2V1725.9h2V1719.2h2V1716.6h2V1750.0h2V1704.6h2V1712.0h2V1713.3h2V1739.0h2V1712.3h2V1730.0h2V1731.5h2V1675.8h2V1726.6h2V1743.2h2V1731.3h2V1719.1h2V1720.2h2V1725.4h2V1712.8h2V1666.7h2V1742.2h2V1729.3h2V1732.7h2V1719.7h2V1715.0h2V1712.9h2V1722.6h2V1734.2h2V1702.3h2V1725.7h2V1713.3h2V1726.4h2V1736.8h2V1711.8h2V1719.9h2V1708.4h2V1733.3h2V1742.6h2V1740.9h2V1729.7h2V1743.9h2V1746.3h2V1707.9h2V1716.2h2V1732.3h2V1717.6h2V1693.9h2V1723.7h2V1686.7h2V1691.5h2V1725.8h2V1731.6h2V1712.4h2V1730.0h2V1734.4h2V1728.5h2V1716.4h2V1735.9h2V1733.3h2V1722.9h2V1735.7h2V1685.4h2V1747.7h2V1730.3h2V1719.0h2V1724.7h2V1721.7h2V1698.3h2V1723.9h2V1721.1h2V1769.9h2V1732.5h2V1728.5h2V1736.1h2V1705.3h2V1718.3h2V1711.0h2V1722.1h2V1734.4h2V1725.2h2V1725.6h2V1753.9h2V1713.9h2V1719.1h2V1734.4h2V1740.3h2V1736.1h2V1717.9h2V1728.9h2V1711.3h2V1762.1h2V1708.7h2V1729.2h2V1746.0h2V1724.9h2V1729.6h2V1719.4h2V1718.8h2V1706.4h2V1727.7h2V1676.0h2V1706.5h2V1695.1h2V1728.3h2V1710.6h2V1744.5h2V1712.3h2V1712.5h2V1704.6h2V1730.3h2V1737.0h2V1735.0h2V1724.7h2V1730.3h2V1748.0h2V1724.6h2V1706.0h2V1734.5h2V1729.5h2V1717.4h2V1718.8h2V1724.6h2V1705.0h2V1712.8h2V1711.0h2V1721.2h2V1689.2h2V1704.7h2V1723.7h2V1730.6h2V1695.2h2V1719.5h2V1712.1h2V1725.4h2V1741.0h2V1725.0h2V1745.3h2V1723.6h2V1746.9h2V1688.2h2V1688.2h2V1685.8h2V1707.3h2V1681.3h2V1680.3h2V1711.6h2V1705.4h2V1733.2h2V1678.4h2V1732.1h2V1728.5h2V1721.5h2V1701.6h2V1694.7h2V1724.5h2V1681.8h2V1675.8h2V1705.7h2V1711.8h2V1706.8h2V1682.7h2V1714.4h2V1716.5h2V1711.8h2V1752.8h2V1710.0h2V1708.3h2V1734.2h2V1704.3h2V1699.0h2V1696.3h2V1697.4h2V1710.5h2V1704.5h2V1719.7h2V1698.7h2V1684.5h2V1700.1h2V1724.1h2V1693.9h2V1715.0h2V1708.4h2V1723.8h2V1720.5h2V1721.5h2V1705.8h2V1721.3h2V1713.7h2V1720.5h2V1704.5h2V1715.6h2V1690.0h2V1675.0h2V1722.0h2V1697.3h2V1708.8h2V1723.0h2V1707.4h2V1726.1h2V1700.0h2V1707.8h2V1706.1h2V1701.1h2V1746.2h2V1710.8h2V1729.4h2V1700.1h2V1725.7h2V1709.5h2V1698.5h2V1723.9h2V1696.8h2V1703.5h2V1708.2h2V1700.4h2V1714.9h2V1711.6h2V1726.4h2V1669.5h2V1703.0h2V1730.3h2V1705.5h2V1721.6h2V1712.3h2V1716.8h2V1719.9h2V1713.0h2V1716.0h2V1727.2h2V1721.6h2V1713.5h2V1694.8h2V1712.6h2V1711.2h2V1712.4h2V1681.6h2V1661.8h2V1701.1h2V1696.1h2V1700.6h2V1712.5h2V1699.1h2V1677.1h2V1707.1h2V1686.5h2V1685.0h2V1704.9h2V1704.9h2V1688.7h2V1670.6h2V1718.9h2V1701.8h2V1707.7h2V1714.1h2V1697.9h2V1695.9h2V1701.5h2V1689.0h2V1707.7h2V1704.0h2V1701.9h2V1708.7h2V1707.2h2V1732.2h2V1708.2h2V1684.6h2V1693.4h2V1687.1h2V1724.0h2V1694.5h2V1716.0h2V1713.7h2V1689.5h2V1728.3h2V1960.6Z" fill="#EEB32B"/>
<path d="M168.3 1960.6V1841.3h2V1844.5h2V1809.3h2V1829.8h2V1794.6h2V1829.1h2V1851.2h2V1812.9h2V1828.6h2V1825.1h2V1793.2h2V1781.4h2V1799.6h2V1821.9h2V1828.7h2V1811.7h2V1823.6h2V1803.3h2V1805.8h2V1820.2h2V1805.2h2V1806.4h2V1824.3h2V1805.9h2V1826.0h2V1814.3h2V1837.5h2V1827.7h2V1824.8h2V1837.3h2V1831.7h2V1830.1h2V1810.9h2V1852.1h2V1811.9h2V1787.5h2V1810.5h2V1831.9h2V1818.1h2V1804.4h2V1824.9h2V1800.8h2V1811.4h2V1784.4h2V1825.5h2V1781.0h2V1824.4h2V1812.1h2V1818.4h2V1816.4h2V1829.3h2V1822.6h2V1815.8h2V1839.6h2V1829.0h2V1828.9h2V1822.4h2V1818.3h2V1822.0h2V1827.3h2V1805.9h2V1810.8h2V1827.4h2V1811.7h2V1825.3h2V1780.4h2V1805.9h2V1820.3h2V1786.5h2V1823.1h2V1819.3h2V1795.0h2V1818.2h2V1803.6h2V1795.1h2V1824.0h2V1783.6h2V1801.1h2V1792.6h2V1820.9h2V1798.7h2V1804.5h2V1816.1h2V1757.0h2V1804.2h2V1822.7h2V1817.4h2V1800.8h2V1801.1h2V1810.4h2V1796.2h2V1735.0h2V1822.8h2V1816.7h2V1825.6h2V1812.7h2V1790.5h2V1803.0h2V1811.4h2V1818.7h2V1786.3h2V1815.5h2V1808.8h2V1801.9h2V1826.4h2V1792.3h2V1801.1h2V1798.3h2V1824.1h2V1820.7h2V1824.3h2V1815.5h2V1819.1h2V1839.2h2V1788.4h2V1799.6h2V1819.3h2V1813.8h2V1773.3h2V1804.2h2V1778.2h2V1766.5h2V1805.3h2V1805.4h2V1802.3h2V1816.2h2V1822.7h2V1813.7h2V1797.6h2V1814.8h2V1811.9h2V1809.3h2V1821.5h2V1775.8h2V1828.4h2V1810.6h2V1793.8h2V1818.5h2V1795.2h2V1783.9h2V1818.1h2V1802.9h2V1864.9h2V1800.7h2V1809.3h2V1808.3h2V1787.2h2V1800.7h2V1786.5h2V1812.2h2V1821.6h2V1804.5h2V1805.0h2V1829.9h2V1794.2h2V1817.6h2V1813.5h2V1828.8h2V1816.7h2V1806.3h2V1816.0h2V1790.8h2V1836.8h2V1785.7h2V1822.1h2V1830.2h2V1812.8h2V1809.7h2V1787.5h2V1804.3h2V1789.4h2V1806.8h2V1749.6h2V1789.2h2V1769.6h2V1814.4h2V1790.1h2V1812.2h2V1792.5h2V1789.2h2V1778.4h2V1817.1h2V1817.9h2V1823.4h2V1815.8h2V1815.0h2V1822.2h2V1801.9h2V1793.2h2V1816.6h2V1806.8h2V1798.4h2V1804.6h2V1809.3h2V1790.0h2V1787.6h2V1789.7h2V1801.5h2V1766.8h2V1768.6h2V1804.4h2V1803.8h2V1784.3h2V1813.2h2V1805.7h2V1814.1h2V1822.0h2V1814.8h2V1829.0h2V1810.5h2V1825.4h2V1761.2h2V1769.1h2V1776.4h2V1787.0h2V1774.9h2V1777.5h2V1782.4h2V1784.8h2V1809.3h2V1753.3h2V1811.2h2V1810.7h2V1810.5h2V1787.7h2V1774.7h2V1806.6h2V1758.8h2V1752.1h2V1789.5h2V1792.1h2V1790.1h2V1748.9h2V1800.9h2V1810.5h2V1793.3h2V1827.7h2V1800.0h2V1785.3h2V1794.5h2V1781.6h2V1781.7h2V1777.0h2V1784.8h2V1794.9h2V1784.2h2V1785.5h2V1768.1h2V1761.9h2V1783.4h2V1797.6h2V1766.4h2V1798.6h2V1773.0h2V1790.1h2V1799.4h2V1804.2h2V1780.7h2V1784.6h2V1793.6h2V1791.0h2V1787.8h2V1794.6h2V1768.3h2V1754.1h2V1798.6h2V1780.7h2V1796.9h2V1806.7h2V1796.0h2V1802.3h2V1784.3h2V1788.2h2V1776.8h2V1778.0h2V1825.8h2V1785.3h2V1811.3h2V1785.4h2V1803.9h2V1788.8h2V1764.1h2V1804.9h2V1782.1h2V1787.0h2V1789.8h2V1773.3h2V1786.3h2V1789.2h2V1796.6h2V1732.7h2V1787.3h2V1804.1h2V1796.5h2V1790.2h2V1793.7h2V1786.6h2V1800.3h2V1783.2h2V1794.8h2V1806.0h2V1797.4h2V1795.5h2V1781.8h2V1785.9h2V1795.5h2V1790.8h2V1754.9h2V1749.3h2V1760.6h2V1766.2h2V1762.7h2V1787.6h2V1773.0h2V1778.7h2V1786.4h2V1774.0h2V1768.5h2V1777.7h2V1784.7h2V1775.3h2V1743.3h2V1798.4h2V1781.1h2V1772.5h2V1785.0h2V1775.3h2V1774.6h2V1769.7h2V1760.0h2V1782.7h2V1778.3h2V1782.2h2V1785.6h2V1784.2h2V1800.5h2V1776.0h2V1759.5h2V1754.9h2V1761.8h2V1796.7h2V1761.9h2V1797.4h2V1784.7h2V1755.8h2V1801.2h2V1960.6Z" fill="#F5380B"/>
</g>
<path d="M161.2 1511.7V1964.8H867.5" fill="none" stroke="#000" stroke-width="1.95"/>
<text x="148.4" y="1969.4" font-size="23.2" text-anchor="end" fill="#000">0</text>
<text x="148.4" y="1846.3" font-size="23.2" text-anchor="end" fill="#000">100</text>
<text x="148.4" y="1723.2" font-size="23.2" text-anchor="end" fill="#000">200</text>
<text x="148.4" y="1600.1" font-size="23.2" text-anchor="end" fill="#000">300</text>
<text x="167.4" y="1994.4" font-size="23.2" text-anchor="middle" fill="#000">0</text>
<text x="367.3" y="1994.4" font-size="23.2" text-anchor="middle" fill="#000">100</text>
<text x="567.2" y="1994.4" font-size="23.2" text-anchor="middle" fill="#000">200</text>
<text x="767.1" y="1994.4" font-size="23.2" text-anchor="middle" fill="#000">300</text>
<path d="M154.0 1960.6h7.2M154.0 1837.5h7.2M154.0 1714.4h7.2M154.0 1591.3h7.2M167.0 1964.8v7M366.9 1964.8v7M566.8 1964.8v7M766.7 1964.8v7" stroke="#000" stroke-width="2.1"/>
<text x="299.0" y="2030.1" font-size="27.8" text-anchor="start" fill="#000">Accessions sorted by fiber uniformity</text>
<text transform="translate(84.5,1752.4) rotate(-90)" font-size="28.2" text-anchor="middle">TWAS loci</text>
<rect x="174" y="2069.7" width="36.5" height="36.5" fill="#17419B"/>
<rect x="174" y="2136.1" width="36.5" height="36.5" fill="#F5380B"/>
<rect x="578.3" y="2069.7" width="36.5" height="36.5" fill="#9CC3EE"/>
<rect x="578.3" y="2136.1" width="36.5" height="36.5" fill="#EEB32B"/>
<text x="338.0" y="2079.5" font-size="24.9" text-anchor="middle" fill="#000">unfavorable</text>
<text x="341.7" y="2109.4" font-size="24.9" text-anchor="middle" fill="#000">homoeologous pairs</text>
<text x="338.0" y="2145.6" font-size="24.9" text-anchor="middle" fill="#000">favorable</text>
<text x="341.7" y="2175.5" font-size="24.9" text-anchor="middle" fill="#000">homoeologous pairs</text>
<text x="630.0" y="2094.4" font-size="24.9" text-anchor="start" fill="#000">only favorable genotype</text>
<text x="630.0" y="2161.0" font-size="24.9" text-anchor="start" fill="#000">only favorable expression</text>
<path d="M1056.7 218.9L1197.60 218.90A140.9 140.9 0 0 0 947.78 129.51Z" fill="#0CA499" stroke="#0CA499" stroke-width="0.6"/>
<path d="M1056.7 218.9L947.78 129.51A140.9 140.9 0 0 0 929.10 278.66Z" fill="#9B9BB0" stroke="#9B9BB0" stroke-width="0.6"/>
<path d="M1056.7 218.9L929.10 278.66A140.9 140.9 0 0 0 1197.60 218.90Z" fill="#1076B8" stroke="#1076B8" stroke-width="0.6"/>
<text x="1080.5" y="177.6" font-size="20.2" text-anchor="middle" fill="#10202c">39.1% (325)</text>
<text x="977.9" y="222.4" font-size="20.2" text-anchor="middle" fill="#10202c">17.9% (149)</text>
<text x="1060.8" y="300.0" font-size="20.2" text-anchor="middle" fill="#10202c">43.0% (358)</text>
<text x="918.0" y="20.9" font-size="24.95" text-anchor="start" fill="#000">3 biased expression patterns for TWAS gene pairs</text>
<rect x="949.7" y="395.2" width="35.8" height="35.6" fill="#0CA499"/>
<text x="999.4" y="420.2" font-size="25.0" text-anchor="start" fill="#000">bias ratio decrease</text>
<rect x="949.7" y="442.5" width="35.8" height="35.6" fill="#1076B8"/>
<text x="999.4" y="467.5" font-size="25.0" text-anchor="start" fill="#000">bias ratio increase</text>
<rect x="949.7" y="489.8" width="35.8" height="35.6" fill="#9B9BB0"/>
<text x="999.4" y="514.8" font-size="25.0" text-anchor="start" fill="#000">bias ratio unchange</text>
<path d="M1056.7 956.3L1197.60 956.30A140.9 140.9 0 0 0 937.02 881.94Z" fill="#0CA499" stroke="#0CA499" stroke-width="0.6"/>
<path d="M1056.7 956.3L937.02 881.94A140.9 140.9 0 0 0 928.11 1013.89Z" fill="#9B9BB0" stroke="#9B9BB0" stroke-width="0.6"/>
<path d="M1056.7 956.3L928.11 1013.89A140.9 140.9 0 0 0 1197.60 956.30Z" fill="#1076B8" stroke="#1076B8" stroke-width="0.6"/>
<text x="1081.1" y="890.6" font-size="20.2" text-anchor="middle" fill="#10202c">41.2% (479)</text>
<text x="974.8" y="958.7" font-size="20.2" text-anchor="middle" fill="#10202c">15.5% (181)</text>
<text x="1061.4" y="1031.7" font-size="20.2" text-anchor="middle" fill="#10202c">43.3% (504)</text>
<text x="918.0" y="764.4" font-size="24.95" text-anchor="start" fill="#000">3 biased expression patterns for TWAS gene pairs</text>
<rect x="941.2" y="1131.7" width="35.8" height="35.6" fill="#0CA499"/>
<text x="990.9" y="1156.7" font-size="25.0" text-anchor="start" fill="#000">bias ratio decrease</text>
<rect x="941.2" y="1179.0" width="35.8" height="35.6" fill="#1076B8"/>
<text x="990.9" y="1204.0" font-size="25.0" text-anchor="start" fill="#000">bias ratio increase</text>
<rect x="941.2" y="1226.3" width="35.8" height="35.6" fill="#9B9BB0"/>
<text x="990.9" y="1251.3" font-size="25.0" text-anchor="start" fill="#000">bias ratio unchange</text>
<path d="M1056.7 1651.8L1197.55 1655.49A140.9 140.9 0 0 0 958.60 1550.66Z" fill="#0CA499" stroke="#0CA499" stroke-width="0.6"/>
<path d="M1056.7 1651.8L958.60 1550.66A140.9 140.9 0 0 0 942.56 1734.41Z" fill="#9B9BB0" stroke="#9B9BB0" stroke-width="0.6"/>
<path d="M1056.7 1651.8L942.56 1734.41A140.9 140.9 0 0 0 1197.55 1655.49Z" fill="#1076B8" stroke="#1076B8" stroke-width="0.6"/>
<text x="1103.4" y="1594.6" font-size="20.2" text-anchor="middle" fill="#10202c">37.7% (136)</text>
<text x="981.9" y="1663.0" font-size="20.2" text-anchor="middle" fill="#10202c">22.7% (82)</text>
<text x="1093.8" y="1722.7" font-size="20.2" text-anchor="middle" fill="#10202c">39.6% (143)</text>
<text x="918.0" y="1483.6" font-size="24.95" text-anchor="start" fill="#000">3 biased expression patterns for TWAS gene pairs</text>
<rect x="937.3" y="1843.1" width="35.8" height="35.6" fill="#0CA499"/>
<text x="987.0" y="1868.1" font-size="25.0" text-anchor="start" fill="#000">bias ratio decrease</text>
<rect x="937.3" y="1890.4" width="35.8" height="35.6" fill="#1076B8"/>
<text x="987.0" y="1915.4" font-size="25.0" text-anchor="start" fill="#000">bias ratio increase</text>
<rect x="937.3" y="1937.7" width="35.8" height="35.6" fill="#9B9BB0"/>
<text x="987.0" y="1962.7" font-size="25.0" text-anchor="start" fill="#000">bias ratio unchange</text>
<rect x="1337.1" y="45.2" width="185.3" height="232.5" fill="#fff" stroke="#000" stroke-width="1.9"/>
<text x="1330.0" y="278.8" font-size="12.4" text-anchor="end" fill="#000">0.00</text>
<text x="1330.0" y="223.4" font-size="12.4" text-anchor="end" fill="#000">0.25</text>
<text x="1330.0" y="168.1" font-size="12.4" text-anchor="end" fill="#000">0.50</text>
<text x="1330.0" y="112.8" font-size="12.4" text-anchor="end" fill="#000">0.75</text>
<text x="1330.0" y="57.4" font-size="12.4" text-anchor="end" fill="#000">1.00</text>
<path d="M1334.3 276.4h2.8M1334.3 221.0h2.8M1334.3 165.7h2.8M1334.3 110.3h2.8M1334.3 55.0h2.8M1387.2 277.7v3.2M1471.9 277.7v3.2" stroke="#000" stroke-width="1.6"/>
<path d="M1387.5 55.0V150.9M1387.5 222.6V276.4" stroke="#000" stroke-width="1.7"/>
<rect x="1355.9" y="150.9" width="63.2" height="71.7" fill="#1F78B4" stroke="#0a1420" stroke-width="1.8"/>
<path d="M1355.9 188.7h63.2" stroke="#0a1420" stroke-width="2"/>
<path d="M1472.0 117.4V194.0M1472.0 245.2V276.4" stroke="#000" stroke-width="1.7"/>
<rect x="1440.4" y="194.0" width="63.2" height="51.1" fill="#B2DF8A" stroke="#0a1420" stroke-width="1.8"/>
<path d="M1440.4 225.9h63.2" stroke="#0a1420" stroke-width="2"/>
<g fill="#000"><circle cx="1472.0" cy="62.1" r="2.1"/><circle cx="1472.0" cy="70.5" r="2.1"/><circle cx="1472.0" cy="84.9" r="2.1"/><circle cx="1472.0" cy="87.5" r="2.1"/><circle cx="1472.0" cy="90.0" r="2.1"/><circle cx="1472.0" cy="92.6" r="2.1"/><circle cx="1472.0" cy="100.4" r="2.1"/><circle cx="1472.0" cy="102.6" r="2.1"/><circle cx="1472.0" cy="104.8" r="2.1"/><circle cx="1472.0" cy="107.0" r="2.1"/><circle cx="1472.0" cy="109.2" r="2.1"/><circle cx="1472.0" cy="111.5" r="2.1"/><circle cx="1472.0" cy="113.7" r="2.1"/><circle cx="1472.0" cy="116.5" r="2.1"/></g>
<text x="1384.5" y="273.6" font-size="20.2" text-anchor="middle" fill="#000">325</text>
<text x="1468.0" y="275.6" font-size="20.2" text-anchor="middle" fill="#000">325</text>
<text x="1377.4" y="83.0" font-size="16.8"><tspan font-style="italic">P</tspan> &lt; 2.2 ×10<tspan font-size="9.4" dy="-6.6">-16</tspan></text>
<text x="1385.9" y="294.5" font-size="16.5" text-anchor="middle" fill="#000">unfavorable</text>
<text x="1473.9" y="294.5" font-size="16.5" text-anchor="middle" fill="#000">favorable</text>
<text x="1385.9" y="314.4" font-size="16.5" text-anchor="middle" fill="#000">allele</text>
<text x="1473.9" y="314.4" font-size="16.5" text-anchor="middle" fill="#000">allele</text>
<text x="1385.9" y="334.3" font-size="16.5" text-anchor="middle" fill="#000">sample</text>
<text x="1473.9" y="334.3" font-size="16.5" text-anchor="middle" fill="#000">sample</text>
<text transform="translate(1294.0,162.7) rotate(-90)" font-size="24.9" text-anchor="middle">Bias ratio</text>
<rect x="1337.1" y="342.9" width="185.3" height="233.8" fill="#fff" stroke="#000" stroke-width="1.9"/>
<text x="1330.0" y="574.2" font-size="12.4" text-anchor="end" fill="#000">0.00</text>
<text x="1330.0" y="519.0" font-size="12.4" text-anchor="end" fill="#000">0.25</text>
<text x="1330.0" y="463.8" font-size="12.4" text-anchor="end" fill="#000">0.50</text>
<text x="1330.0" y="408.7" font-size="12.4" text-anchor="end" fill="#000">0.75</text>
<text x="1330.0" y="353.5" font-size="12.4" text-anchor="end" fill="#000">1.00</text>
<path d="M1334.3 571.8h2.8M1334.3 516.6h2.8M1334.3 461.4h2.8M1334.3 406.3h2.8M1334.3 351.1h2.8M1387.2 576.7v3.2M1471.9 576.7v3.2" stroke="#000" stroke-width="1.6"/>
<path d="M1387.5 391.0V482.4M1387.5 543.1V571.8" stroke="#000" stroke-width="1.7"/>
<rect x="1355.9" y="482.4" width="63.2" height="60.7" fill="#1F78B4" stroke="#0a1420" stroke-width="1.8"/>
<path d="M1355.9 522.6h63.2" stroke="#0a1420" stroke-width="2"/>
<g fill="#000"><circle cx="1387.5" cy="356.8" r="2.1"/><circle cx="1387.5" cy="365.9" r="2.1"/><circle cx="1387.5" cy="371.4" r="2.1"/><circle cx="1387.5" cy="378.2" r="2.1"/><circle cx="1387.5" cy="380.2" r="2.1"/><circle cx="1387.5" cy="382.0" r="2.1"/><circle cx="1387.5" cy="383.8" r="2.1"/><circle cx="1387.5" cy="385.5" r="2.1"/><circle cx="1387.5" cy="387.3" r="2.1"/><circle cx="1387.5" cy="389.1" r="2.1"/><circle cx="1387.5" cy="390.4" r="2.1"/></g>
<path d="M1472.0 354.0V428.6M1472.0 517.5V571.8" stroke="#000" stroke-width="1.7"/>
<rect x="1440.4" y="428.6" width="63.2" height="88.9" fill="#B2DF8A" stroke="#0a1420" stroke-width="1.8"/>
<path d="M1440.4 479.5h63.2" stroke="#0a1420" stroke-width="2"/>
<text x="1384.5" y="573.1" font-size="20.2" text-anchor="middle" fill="#000">358</text>
<text x="1468.0" y="572.3" font-size="20.2" text-anchor="middle" fill="#000">358</text>
<text x="1376.2" y="373.7" font-size="16.8"><tspan font-style="italic">P</tspan> &lt; 2.2 ×10<tspan font-size="9.4" dy="-6.6">-16</tspan></text>
<text x="1391.9" y="592.4" font-size="16.5" text-anchor="middle" fill="#000">unfavorable</text>
<text x="1480.0" y="592.4" font-size="16.5" text-anchor="middle" fill="#000">favorable</text>
<text x="1391.9" y="612.3" font-size="16.5" text-anchor="middle" fill="#000">allele</text>
<text x="1480.0" y="612.3" font-size="16.5" text-anchor="middle" fill="#000">allele</text>
<text x="1391.9" y="632.2" font-size="16.5" text-anchor="middle" fill="#000">sample</text>
<text x="1480.0" y="632.2" font-size="16.5" text-anchor="middle" fill="#000">sample</text>
<text transform="translate(1294.8,462.7) rotate(-90)" font-size="24.9" text-anchor="middle">Bias ratio</text>
<rect x="1337.1" y="795.7" width="185.3" height="232.9" fill="#fff" stroke="#000" stroke-width="1.9"/>
<text x="1326.2" y="1029.6" font-size="12.4" text-anchor="end" fill="#000">0.00</text>
<text x="1326.2" y="974.4" font-size="12.4" text-anchor="end" fill="#000">0.25</text>
<text x="1326.2" y="919.2" font-size="12.4" text-anchor="end" fill="#000">0.50</text>
<text x="1326.2" y="864.0" font-size="12.4" text-anchor="end" fill="#000">0.75</text>
<text x="1326.2" y="808.8" font-size="12.4" text-anchor="end" fill="#000">1.00</text>
<path d="M1334.3 1027.2h2.8M1334.3 972.0h2.8M1334.3 916.8h2.8M1334.3 861.6h2.8M1334.3 806.4h2.8M1387.2 1028.6v3.2M1471.9 1028.6v3.2" stroke="#000" stroke-width="1.6"/>
<path d="M1387.5 806.4V897.6M1387.5 975.1V1027.2" stroke="#000" stroke-width="1.7"/>
<rect x="1355.9" y="897.6" width="63.2" height="77.5" fill="#1F78B4" stroke="#0a1420" stroke-width="1.8"/>
<path d="M1355.9 948.2h63.2" stroke="#0a1420" stroke-width="2"/>
<path d="M1472.0 851.7V939.3M1472.0 999.6V1027.2" stroke="#000" stroke-width="1.7"/>
<rect x="1440.4" y="939.3" width="63.2" height="60.3" fill="#B2DF8A" stroke="#0a1420" stroke-width="1.8"/>
<path d="M1440.4 979.5h63.2" stroke="#0a1420" stroke-width="2"/>
<g fill="#000"><circle cx="1472.0" cy="848.4" r="2.1"/><circle cx="1472.0" cy="846.7" r="2.1"/><circle cx="1472.0" cy="845.0" r="2.1"/><circle cx="1472.0" cy="843.4" r="2.1"/><circle cx="1472.0" cy="841.7" r="2.1"/><circle cx="1472.0" cy="840.1" r="2.1"/><circle cx="1472.0" cy="838.4" r="2.1"/><circle cx="1472.0" cy="836.8" r="2.1"/><circle cx="1472.0" cy="835.1" r="2.1"/><circle cx="1472.0" cy="833.4" r="2.1"/><circle cx="1472.0" cy="831.8" r="2.1"/><circle cx="1472.0" cy="830.1" r="2.1"/><circle cx="1472.0" cy="828.5" r="2.1"/><circle cx="1472.0" cy="826.8" r="2.1"/><circle cx="1472.0" cy="825.2" r="2.1"/><circle cx="1472.0" cy="823.5" r="2.1"/><circle cx="1472.0" cy="821.9" r="2.1"/><circle cx="1472.0" cy="820.2" r="2.1"/><circle cx="1472.0" cy="818.5" r="2.1"/><circle cx="1472.0" cy="816.9" r="2.1"/><circle cx="1472.0" cy="815.2" r="2.1"/><circle cx="1472.0" cy="813.6" r="2.1"/><circle cx="1472.0" cy="811.9" r="2.1"/><circle cx="1472.0" cy="810.3" r="2.1"/><circle cx="1472.0" cy="808.6" r="2.1"/></g>
<text x="1384.5" y="1025.6" font-size="20.2" text-anchor="middle" fill="#000">479</text>
<text x="1468.0" y="1025.6" font-size="20.2" text-anchor="middle" fill="#000">479</text>
<text x="1391.9" y="827.8" font-size="16.8"><tspan font-style="italic">P</tspan> &lt; 2.2 ×10<tspan font-size="9.4" dy="-6.6">-16</tspan></text>
<text x="1383.5" y="1045.7" font-size="16.5" text-anchor="middle" fill="#000">unfavorable</text>
<text x="1471.6" y="1045.7" font-size="16.5" text-anchor="middle" fill="#000">favorable</text>
<text x="1383.5" y="1065.6" font-size="16.5" text-anchor="middle" fill="#000">allele</text>
<text x="1471.6" y="1065.6" font-size="16.5" text-anchor="middle" fill="#000">allele</text>
<text x="1383.5" y="1085.5" font-size="16.5" text-anchor="middle" fill="#000">sample</text>
<text x="1471.6" y="1085.5" font-size="16.5" text-anchor="middle" fill="#000">sample</text>
<text transform="translate(1285.8,917.6) rotate(-90)" font-size="24.9" text-anchor="middle">Bias ratio</text>
<rect x="1337.1" y="1095.2" width="185.3" height="233.4" fill="#fff" stroke="#000" stroke-width="1.9"/>
<text x="1326.2" y="1327.2" font-size="12.4" text-anchor="end" fill="#000">0.00</text>
<text x="1326.2" y="1272.4" font-size="12.4" text-anchor="end" fill="#000">0.25</text>
<text x="1326.2" y="1217.6" font-size="12.4" text-anchor="end" fill="#000">0.50</text>
<text x="1326.2" y="1162.7" font-size="12.4" text-anchor="end" fill="#000">0.75</text>
<text x="1326.2" y="1107.9" font-size="12.4" text-anchor="end" fill="#000">1.00</text>
<path d="M1334.3 1324.8h2.8M1334.3 1270.0h2.8M1334.3 1215.2h2.8M1334.3 1160.3h2.8M1334.3 1105.5h2.8M1387.2 1328.6v3.2M1471.9 1328.6v3.2" stroke="#000" stroke-width="1.6"/>
<path d="M1387.5 1141.9V1228.7M1387.5 1292.6V1324.8" stroke="#000" stroke-width="1.7"/>
<rect x="1355.9" y="1228.7" width="63.2" height="63.8" fill="#1F78B4" stroke="#0a1420" stroke-width="1.8"/>
<path d="M1355.9 1271.9h63.2" stroke="#0a1420" stroke-width="2"/>
<g fill="#000"><circle cx="1387.5" cy="1111.0" r="2.1"/><circle cx="1387.5" cy="1118.7" r="2.1"/><circle cx="1387.5" cy="1120.4" r="2.1"/><circle cx="1387.5" cy="1122.2" r="2.1"/><circle cx="1387.5" cy="1123.9" r="2.1"/><circle cx="1387.5" cy="1125.7" r="2.1"/><circle cx="1387.5" cy="1127.4" r="2.1"/><circle cx="1387.5" cy="1129.0" r="2.1"/><circle cx="1387.5" cy="1132.3" r="2.1"/></g>
<path d="M1472.0 1105.5V1185.1M1472.0 1266.2V1324.8" stroke="#000" stroke-width="1.7"/>
<rect x="1440.4" y="1185.1" width="63.2" height="81.1" fill="#B2DF8A" stroke="#0a1420" stroke-width="1.8"/>
<path d="M1440.4 1232.5h63.2" stroke="#0a1420" stroke-width="2"/>
<text x="1384.5" y="1323.6" font-size="20.2" text-anchor="middle" fill="#000">504</text>
<text x="1468.0" y="1325.6" font-size="20.2" text-anchor="middle" fill="#000">504</text>
<text x="1391.9" y="1127.8" font-size="16.8"><tspan font-style="italic">P</tspan> &lt; 2.2 ×10<tspan font-size="9.4" dy="-6.6">-16</tspan></text>
<text x="1388.2" y="1344.9" font-size="16.5" text-anchor="middle" fill="#000">unfavorable</text>
<text x="1476.3" y="1344.9" font-size="16.5" text-anchor="middle" fill="#000">favorable</text>
<text x="1388.2" y="1364.8" font-size="16.5" text-anchor="middle" fill="#000">allele</text>
<text x="1476.3" y="1364.8" font-size="16.5" text-anchor="middle" fill="#000">allele</text>
<text x="1388.2" y="1384.7" font-size="16.5" text-anchor="middle" fill="#000">sample</text>
<text x="1476.3" y="1384.7" font-size="16.5" text-anchor="middle" fill="#000">sample</text>
<text transform="translate(1289.9,1216.8) rotate(-90)" font-size="24.9" text-anchor="middle">Bias ratio</text>
<rect x="1337.1" y="1512.6" width="185.3" height="233.7" fill="#fff" stroke="#000" stroke-width="1.9"/>
<text x="1330.0" y="1747.6" font-size="12.4" text-anchor="end" fill="#000">0.00</text>
<text x="1330.0" y="1690.3" font-size="12.4" text-anchor="end" fill="#000">0.25</text>
<text x="1330.0" y="1633.0" font-size="12.4" text-anchor="end" fill="#000">0.50</text>
<text x="1330.0" y="1575.6" font-size="12.4" text-anchor="end" fill="#000">0.75</text>
<text x="1330.0" y="1518.3" font-size="12.4" text-anchor="end" fill="#000">1.00</text>
<path d="M1334.3 1745.2h2.8M1334.3 1687.9h2.8M1334.3 1630.6h2.8M1334.3 1573.2h2.8M1334.3 1515.9h2.8M1387.2 1746.3v3.2M1471.9 1746.3v3.2" stroke="#000" stroke-width="1.6"/>
<path d="M1387.5 1524.2V1609.5M1387.5 1687.0V1745.2" stroke="#000" stroke-width="1.7"/>
<rect x="1355.9" y="1609.5" width="63.2" height="77.5" fill="#1F78B4" stroke="#0a1420" stroke-width="1.8"/>
<path d="M1355.9 1655.1h63.2" stroke="#0a1420" stroke-width="2"/>
<path d="M1472.0 1565.4V1652.8M1472.0 1716.3V1745.2" stroke="#000" stroke-width="1.7"/>
<rect x="1440.4" y="1652.8" width="63.2" height="63.5" fill="#B2DF8A" stroke="#0a1420" stroke-width="1.8"/>
<path d="M1440.4 1696.8h63.2" stroke="#0a1420" stroke-width="2"/>
<g fill="#000"><circle cx="1472.0" cy="1528.5" r="2.1"/><circle cx="1472.0" cy="1553.5" r="2.1"/><circle cx="1472.0" cy="1556.3" r="2.1"/></g>
<text x="1384.5" y="1744.7" font-size="20.2" text-anchor="middle" fill="#000">136</text>
<text x="1468.0" y="1744.7" font-size="20.2" text-anchor="middle" fill="#000">136</text>
<text x="1375.9" y="1555.9" font-size="16.8"><tspan font-style="italic">P</tspan> &lt; 8.7 ×10<tspan font-size="9.4" dy="-6.6">-8</tspan></text>
<text x="1391.4" y="1764.9" font-size="16.5" text-anchor="middle" fill="#000">unfavorable</text>
<text x="1479.5" y="1764.9" font-size="16.5" text-anchor="middle" fill="#000">favorable</text>
<text x="1391.4" y="1784.8" font-size="16.5" text-anchor="middle" fill="#000">allele</text>
<text x="1479.5" y="1784.8" font-size="16.5" text-anchor="middle" fill="#000">allele</text>
<text x="1391.4" y="1804.7" font-size="16.5" text-anchor="middle" fill="#000">sample</text>
<text x="1479.5" y="1804.7" font-size="16.5" text-anchor="middle" fill="#000">sample</text>
<text transform="translate(1294.0,1635.0) rotate(-90)" font-size="24.9" text-anchor="middle">Bias ratio</text>
<rect x="1337.1" y="1815.9" width="185.3" height="234.0" fill="#fff" stroke="#000" stroke-width="1.9"/>
<text x="1330.0" y="2052.3" font-size="12.4" text-anchor="end" fill="#000">0.00</text>
<text x="1330.0" y="1995.7" font-size="12.4" text-anchor="end" fill="#000">0.25</text>
<text x="1330.0" y="1939.1" font-size="12.4" text-anchor="end" fill="#000">0.50</text>
<text x="1330.0" y="1882.5" font-size="12.4" text-anchor="end" fill="#000">0.75</text>
<text x="1330.0" y="1825.9" font-size="12.4" text-anchor="end" fill="#000">1.00</text>
<path d="M1334.3 2049.9h2.8M1334.3 1993.3h2.8M1334.3 1936.7h2.8M1334.3 1880.1h2.8M1334.3 1823.5h2.8M1387.2 2049.9v3.2M1471.9 2049.9v3.2" stroke="#000" stroke-width="1.6"/>
<path d="M1387.5 1839.3V1940.3M1387.5 2018.9V2049.9" stroke="#000" stroke-width="1.7"/>
<rect x="1355.9" y="1940.3" width="63.2" height="78.6" fill="#1F78B4" stroke="#0a1420" stroke-width="1.8"/>
<path d="M1355.9 1994.4h63.2" stroke="#0a1420" stroke-width="2"/>
<path d="M1472.0 1828.0V1906.6M1472.0 1998.1V2049.9" stroke="#000" stroke-width="1.7"/>
<rect x="1440.4" y="1906.6" width="63.2" height="91.5" fill="#B2DF8A" stroke="#0a1420" stroke-width="1.8"/>
<path d="M1440.4 1949.8h63.2" stroke="#0a1420" stroke-width="2"/>
<text x="1384.5" y="2047.1" font-size="20.2" text-anchor="middle" fill="#000">143</text>
<text x="1468.0" y="2044.7" font-size="20.2" text-anchor="middle" fill="#000">143</text>
<text x="1391.4" y="1838.1" font-size="16.8"><tspan font-style="italic">P</tspan> &lt; 5.1 ×10<tspan font-size="9.4" dy="-6.6">-7</tspan></text>
<text x="1389.6" y="2066.1" font-size="16.5" text-anchor="middle" fill="#000">unfavorable</text>
<text x="1477.7" y="2066.1" font-size="16.5" text-anchor="middle" fill="#000">favorable</text>
<text x="1389.6" y="2086.0" font-size="16.5" text-anchor="middle" fill="#000">allele</text>
<text x="1477.7" y="2086.0" font-size="16.5" text-anchor="middle" fill="#000">allele</text>
<text x="1389.6" y="2105.9" font-size="16.5" text-anchor="middle" fill="#000">sample</text>
<text x="1477.7" y="2105.9" font-size="16.5" text-anchor="middle" fill="#000">sample</text>
<text transform="translate(1289.9,1937.5) rotate(-90)" font-size="24.9" text-anchor="middle">Bias ratio</text>
<rect x="1639.2" y="45.2" width="314.4" height="230.0" fill="#fff" stroke="#000" stroke-width="2.1"/>
<text x="1631.9" y="261.8" font-size="15.8" text-anchor="end" fill="#000">100</text>
<text x="1631.9" y="195.2" font-size="15.8" text-anchor="end" fill="#000">150</text>
<text x="1631.9" y="128.6" font-size="15.8" text-anchor="end" fill="#000">200</text>
<text x="1631.9" y="62.1" font-size="15.8" text-anchor="end" fill="#000">250</text>
<text x="1671.8" y="293.2" font-size="15.8" text-anchor="middle" fill="#000">25</text>
<text x="1738.3" y="293.2" font-size="15.8" text-anchor="middle" fill="#000">30</text>
<text x="1804.9" y="293.2" font-size="15.8" text-anchor="middle" fill="#000">35</text>
<text x="1871.4" y="293.2" font-size="15.8" text-anchor="middle" fill="#000">40</text>
<text x="1938.0" y="293.2" font-size="15.8" text-anchor="middle" fill="#000">45</text>
<path d="M1634.9 255.3h4.3M1634.9 188.7h4.3M1634.9 122.1h4.3M1634.9 55.6h4.3M1671.8 275.2v4.3M1738.3 275.2v4.3M1804.9 275.2v4.3M1871.4 275.2v4.3M1938.0 275.2v4.3" stroke="#000" stroke-width="1.6"/>
<text x="1806.3" y="316.4" font-size="21.35" text-anchor="middle" fill="#000">Fiber strength</text>
<text transform="translate(1596.9,154.8) rotate(-90)" font-size="21.0" text-anchor="middle">Counts</text>
<g fill="#C6BFF1" stroke="#6F5FCF" stroke-width="2.2"><circle cx="1654.5" cy="239.4" r="2.75"/><circle cx="1670.1" cy="222.0" r="2.75"/><circle cx="1670.2" cy="234.7" r="2.75"/><circle cx="1671.3" cy="196.3" r="2.75"/><circle cx="1673.0" cy="239.7" r="2.75"/><circle cx="1673.5" cy="252.1" r="2.75"/><circle cx="1673.8" cy="192.8" r="2.75"/><circle cx="1675.9" cy="200.4" r="2.75"/><circle cx="1676.0" cy="263.1" r="2.75"/><circle cx="1677.2" cy="232.6" r="2.75"/><circle cx="1678.4" cy="212.2" r="2.75"/><circle cx="1679.2" cy="179.7" r="2.75"/><circle cx="1679.9" cy="240.4" r="2.75"/><circle cx="1682.2" cy="204.7" r="2.75"/><circle cx="1682.6" cy="142.7" r="2.75"/><circle cx="1682.9" cy="218.9" r="2.75"/><circle cx="1683.3" cy="242.5" r="2.75"/><circle cx="1684.3" cy="222.8" r="2.75"/><circle cx="1685.5" cy="241.2" r="2.75"/><circle cx="1685.9" cy="162.2" r="2.75"/><circle cx="1687.9" cy="195.9" r="2.75"/><circle cx="1688.4" cy="214.4" r="2.75"/><circle cx="1689.0" cy="246.3" r="2.75"/><circle cx="1689.1" cy="256.1" r="2.75"/><circle cx="1689.4" cy="201.7" r="2.75"/><circle cx="1690.0" cy="233.4" r="2.75"/><circle cx="1690.9" cy="230.8" r="2.75"/><circle cx="1692.1" cy="258.8" r="2.75"/><circle cx="1692.8" cy="219.9" r="2.75"/><circle cx="1693.0" cy="235.9" r="2.75"/><circle cx="1693.3" cy="189.7" r="2.75"/><circle cx="1693.9" cy="201.2" r="2.75"/><circle cx="1693.9" cy="194.4" r="2.75"/><circle cx="1694.0" cy="111.8" r="2.75"/><circle cx="1694.0" cy="230.3" r="2.75"/><circle cx="1694.8" cy="183.4" r="2.75"/><circle cx="1695.3" cy="204.1" r="2.75"/><circle cx="1695.6" cy="238.6" r="2.75"/><circle cx="1696.2" cy="202.3" r="2.75"/><circle cx="1696.4" cy="193.1" r="2.75"/><circle cx="1696.5" cy="202.1" r="2.75"/><circle cx="1696.6" cy="213.1" r="2.75"/><circle cx="1696.8" cy="230.4" r="2.75"/><circle cx="1697.0" cy="204.8" r="2.75"/><circle cx="1697.6" cy="168.6" r="2.75"/><circle cx="1698.7" cy="211.0" r="2.75"/><circle cx="1698.8" cy="233.6" r="2.75"/><circle cx="1699.2" cy="205.5" r="2.75"/><circle cx="1699.4" cy="249.1" r="2.75"/><circle cx="1700.1" cy="208.1" r="2.75"/><circle cx="1700.6" cy="222.6" r="2.75"/><circle cx="1700.7" cy="187.6" r="2.75"/><circle cx="1700.8" cy="259.4" r="2.75"/><circle cx="1701.4" cy="184.8" r="2.75"/><circle cx="1701.7" cy="149.9" r="2.75"/><circle cx="1702.3" cy="219.5" r="2.75"/><circle cx="1703.1" cy="236.3" r="2.75"/><circle cx="1703.4" cy="200.2" r="2.75"/><circle cx="1703.6" cy="215.3" r="2.75"/><circle cx="1703.7" cy="208.9" r="2.75"/><circle cx="1704.0" cy="229.4" r="2.75"/><circle cx="1704.0" cy="197.3" r="2.75"/><circle cx="1704.3" cy="210.6" r="2.75"/><circle cx="1705.1" cy="193.1" r="2.75"/><circle cx="1705.3" cy="218.7" r="2.75"/><circle cx="1705.5" cy="202.8" r="2.75"/><circle cx="1705.5" cy="179.4" r="2.75"/><circle cx="1705.6" cy="228.0" r="2.75"/><circle cx="1705.8" cy="234.1" r="2.75"/><circle cx="1705.9" cy="180.0" r="2.75"/><circle cx="1705.9" cy="228.7" r="2.75"/><circle cx="1706.2" cy="208.8" r="2.75"/><circle cx="1706.9" cy="198.3" r="2.75"/><circle cx="1707.9" cy="190.5" r="2.75"/><circle cx="1708.0" cy="210.7" r="2.75"/><circle cx="1708.1" cy="241.6" r="2.75"/><circle cx="1708.7" cy="182.6" r="2.75"/><circle cx="1709.0" cy="232.8" r="2.75"/><circle cx="1709.2" cy="224.8" r="2.75"/><circle cx="1710.0" cy="180.0" r="2.75"/><circle cx="1710.0" cy="185.6" r="2.75"/><circle cx="1710.6" cy="239.0" r="2.75"/><circle cx="1710.7" cy="223.0" r="2.75"/><circle cx="1710.9" cy="195.4" r="2.75"/><circle cx="1712.1" cy="229.7" r="2.75"/><circle cx="1712.2" cy="262.0" r="2.75"/><circle cx="1712.3" cy="186.7" r="2.75"/><circle cx="1712.5" cy="187.3" r="2.75"/><circle cx="1712.6" cy="202.0" r="2.75"/><circle cx="1712.8" cy="237.5" r="2.75"/><circle cx="1712.9" cy="202.8" r="2.75"/><circle cx="1713.7" cy="190.6" r="2.75"/><circle cx="1713.8" cy="237.0" r="2.75"/><circle cx="1715.0" cy="216.8" r="2.75"/><circle cx="1715.4" cy="222.9" r="2.75"/><circle cx="1715.9" cy="188.0" r="2.75"/><circle cx="1716.5" cy="199.7" r="2.75"/><circle cx="1716.5" cy="242.9" r="2.75"/><circle cx="1716.6" cy="224.0" r="2.75"/><circle cx="1717.1" cy="157.9" r="2.75"/><circle cx="1717.1" cy="233.5" r="2.75"/><circle cx="1717.6" cy="202.3" r="2.75"/><circle cx="1717.8" cy="223.8" r="2.75"/><circle cx="1717.9" cy="171.0" r="2.75"/><circle cx="1717.9" cy="208.1" r="2.75"/><circle cx="1718.0" cy="218.4" r="2.75"/><circle cx="1718.0" cy="238.8" r="2.75"/><circle cx="1718.1" cy="213.0" r="2.75"/><circle cx="1718.2" cy="183.4" r="2.75"/><circle cx="1718.3" cy="187.6" r="2.75"/><circle cx="1718.4" cy="242.7" r="2.75"/><circle cx="1719.1" cy="162.8" r="2.75"/><circle cx="1719.4" cy="212.5" r="2.75"/><circle cx="1719.5" cy="234.7" r="2.75"/><circle cx="1721.0" cy="201.4" r="2.75"/><circle cx="1721.0" cy="222.1" r="2.75"/><circle cx="1721.1" cy="219.6" r="2.75"/><circle cx="1721.5" cy="222.2" r="2.75"/><circle cx="1721.6" cy="207.2" r="2.75"/><circle cx="1722.1" cy="218.3" r="2.75"/><circle cx="1722.5" cy="223.7" r="2.75"/><circle cx="1723.1" cy="189.6" r="2.75"/><circle cx="1723.6" cy="218.2" r="2.75"/><circle cx="1723.7" cy="170.8" r="2.75"/><circle cx="1724.1" cy="188.8" r="2.75"/><circle cx="1724.7" cy="186.3" r="2.75"/><circle cx="1724.9" cy="198.2" r="2.75"/><circle cx="1725.2" cy="167.4" r="2.75"/><circle cx="1725.5" cy="212.0" r="2.75"/><circle cx="1725.6" cy="243.2" r="2.75"/><circle cx="1725.7" cy="193.4" r="2.75"/><circle cx="1725.9" cy="170.9" r="2.75"/><circle cx="1726.7" cy="212.6" r="2.75"/><circle cx="1726.7" cy="221.0" r="2.75"/><circle cx="1727.2" cy="213.6" r="2.75"/><circle cx="1727.2" cy="167.5" r="2.75"/><circle cx="1727.4" cy="143.0" r="2.75"/><circle cx="1727.5" cy="198.9" r="2.75"/><circle cx="1727.7" cy="213.0" r="2.75"/><circle cx="1728.0" cy="191.0" r="2.75"/><circle cx="1728.9" cy="159.8" r="2.75"/><circle cx="1730.2" cy="195.7" r="2.75"/><circle cx="1730.5" cy="180.1" r="2.75"/><circle cx="1731.0" cy="184.0" r="2.75"/><circle cx="1731.0" cy="144.4" r="2.75"/><circle cx="1731.2" cy="206.3" r="2.75"/><circle cx="1731.8" cy="251.8" r="2.75"/><circle cx="1731.9" cy="181.9" r="2.75"/><circle cx="1731.9" cy="165.4" r="2.75"/><circle cx="1732.0" cy="188.3" r="2.75"/><circle cx="1732.1" cy="157.1" r="2.75"/><circle cx="1732.5" cy="150.8" r="2.75"/><circle cx="1732.7" cy="218.0" r="2.75"/><circle cx="1732.7" cy="212.9" r="2.75"/><circle cx="1733.1" cy="233.9" r="2.75"/><circle cx="1733.7" cy="184.3" r="2.75"/><circle cx="1733.7" cy="179.5" r="2.75"/><circle cx="1734.8" cy="182.1" r="2.75"/><circle cx="1734.8" cy="232.6" r="2.75"/><circle cx="1735.6" cy="219.3" r="2.75"/><circle cx="1735.9" cy="237.6" r="2.75"/><circle cx="1736.6" cy="242.2" r="2.75"/><circle cx="1737.3" cy="234.6" r="2.75"/><circle cx="1737.3" cy="241.0" r="2.75"/><circle cx="1737.4" cy="202.6" r="2.75"/><circle cx="1737.9" cy="185.7" r="2.75"/><circle cx="1738.6" cy="179.8" r="2.75"/><circle cx="1738.8" cy="197.5" r="2.75"/><circle cx="1739.3" cy="215.1" r="2.75"/><circle cx="1739.5" cy="169.2" r="2.75"/><circle cx="1739.6" cy="180.9" r="2.75"/><circle cx="1739.6" cy="204.7" r="2.75"/><circle cx="1740.3" cy="194.8" r="2.75"/><circle cx="1740.4" cy="204.6" r="2.75"/><circle cx="1741.3" cy="210.2" r="2.75"/><circle cx="1741.6" cy="241.3" r="2.75"/><circle cx="1742.1" cy="226.1" r="2.75"/><circle cx="1742.3" cy="166.5" r="2.75"/><circle cx="1742.4" cy="238.2" r="2.75"/><circle cx="1742.5" cy="182.6" r="2.75"/><circle cx="1742.8" cy="232.5" r="2.75"/><circle cx="1743.0" cy="153.6" r="2.75"/><circle cx="1743.1" cy="171.1" r="2.75"/><circle cx="1743.6" cy="202.6" r="2.75"/><circle cx="1743.9" cy="206.9" r="2.75"/><circle cx="1744.2" cy="225.4" r="2.75"/><circle cx="1744.3" cy="196.0" r="2.75"/><circle cx="1744.3" cy="183.1" r="2.75"/><circle cx="1744.4" cy="124.3" r="2.75"/><circle cx="1744.7" cy="231.7" r="2.75"/><circle cx="1745.1" cy="160.0" r="2.75"/><circle cx="1746.6" cy="209.3" r="2.75"/><circle cx="1746.8" cy="185.7" r="2.75"/><circle cx="1746.9" cy="108.3" r="2.75"/><circle cx="1747.4" cy="178.1" r="2.75"/><circle cx="1747.7" cy="181.2" r="2.75"/><circle cx="1747.9" cy="198.1" r="2.75"/><circle cx="1747.9" cy="192.9" r="2.75"/><circle cx="1749.1" cy="188.0" r="2.75"/><circle cx="1749.2" cy="159.3" r="2.75"/><circle cx="1749.8" cy="232.1" r="2.75"/><circle cx="1751.0" cy="204.8" r="2.75"/><circle cx="1751.6" cy="225.2" r="2.75"/><circle cx="1752.4" cy="217.0" r="2.75"/><circle cx="1752.9" cy="212.2" r="2.75"/><circle cx="1753.0" cy="57.0" r="2.75"/><circle cx="1753.5" cy="131.4" r="2.75"/><circle cx="1753.7" cy="152.9" r="2.75"/><circle cx="1754.0" cy="222.3" r="2.75"/><circle cx="1754.0" cy="187.8" r="2.75"/><circle cx="1754.4" cy="220.8" r="2.75"/><circle cx="1754.5" cy="177.5" r="2.75"/><circle cx="1754.7" cy="154.8" r="2.75"/><circle cx="1754.9" cy="174.8" r="2.75"/><circle cx="1755.5" cy="165.3" r="2.75"/><circle cx="1756.2" cy="192.9" r="2.75"/><circle cx="1757.2" cy="206.9" r="2.75"/><circle cx="1757.3" cy="226.3" r="2.75"/><circle cx="1757.4" cy="191.0" r="2.75"/><circle cx="1757.5" cy="172.5" r="2.75"/><circle cx="1757.9" cy="153.3" r="2.75"/><circle cx="1758.2" cy="197.5" r="2.75"/><circle cx="1758.2" cy="185.9" r="2.75"/><circle cx="1758.5" cy="180.8" r="2.75"/><circle cx="1759.1" cy="158.4" r="2.75"/><circle cx="1759.2" cy="189.4" r="2.75"/><circle cx="1759.6" cy="217.2" r="2.75"/><circle cx="1759.8" cy="157.6" r="2.75"/><circle cx="1759.8" cy="175.9" r="2.75"/><circle cx="1759.8" cy="176.7" r="2.75"/><circle cx="1760.4" cy="221.7" r="2.75"/><circle cx="1760.5" cy="187.0" r="2.75"/><circle cx="1760.6" cy="233.8" r="2.75"/><circle cx="1760.7" cy="201.8" r="2.75"/><circle cx="1761.0" cy="193.1" r="2.75"/><circle cx="1761.7" cy="198.2" r="2.75"/><circle cx="1762.2" cy="243.7" r="2.75"/><circle cx="1762.3" cy="146.5" r="2.75"/><circle cx="1762.6" cy="186.8" r="2.75"/><circle cx="1762.7" cy="136.9" r="2.75"/><circle cx="1763.6" cy="201.5" r="2.75"/><circle cx="1765.7" cy="163.5" r="2.75"/><circle cx="1765.8" cy="219.0" r="2.75"/><circle cx="1765.9" cy="180.9" r="2.75"/><circle cx="1766.2" cy="192.8" r="2.75"/><circle cx="1766.3" cy="189.8" r="2.75"/><circle cx="1766.4" cy="167.9" r="2.75"/><circle cx="1766.5" cy="235.6" r="2.75"/><circle cx="1766.8" cy="180.7" r="2.75"/><circle cx="1768.0" cy="205.5" r="2.75"/><circle cx="1769.7" cy="179.3" r="2.75"/><circle cx="1770.1" cy="171.6" r="2.75"/><circle cx="1770.4" cy="192.3" r="2.75"/><circle cx="1771.1" cy="192.0" r="2.75"/><circle cx="1771.9" cy="213.0" r="2.75"/><circle cx="1772.4" cy="166.3" r="2.75"/><circle cx="1772.4" cy="199.6" r="2.75"/><circle cx="1773.2" cy="168.7" r="2.75"/><circle cx="1773.3" cy="219.8" r="2.75"/><circle cx="1773.4" cy="143.4" r="2.75"/><circle cx="1773.4" cy="208.7" r="2.75"/><circle cx="1773.8" cy="148.9" r="2.75"/><circle cx="1773.9" cy="192.8" r="2.75"/><circle cx="1774.5" cy="165.3" r="2.75"/><circle cx="1776.6" cy="183.2" r="2.75"/><circle cx="1776.8" cy="160.6" r="2.75"/><circle cx="1778.1" cy="178.5" r="2.75"/><circle cx="1778.9" cy="143.5" r="2.75"/><circle cx="1779.5" cy="159.6" r="2.75"/><circle cx="1779.5" cy="159.3" r="2.75"/><circle cx="1780.6" cy="131.8" r="2.75"/><circle cx="1781.1" cy="196.2" r="2.75"/><circle cx="1781.2" cy="141.6" r="2.75"/><circle cx="1781.7" cy="174.9" r="2.75"/><circle cx="1781.7" cy="217.2" r="2.75"/><circle cx="1782.0" cy="163.7" r="2.75"/><circle cx="1783.4" cy="198.3" r="2.75"/><circle cx="1783.6" cy="129.9" r="2.75"/><circle cx="1783.9" cy="189.3" r="2.75"/><circle cx="1785.3" cy="173.8" r="2.75"/><circle cx="1785.9" cy="168.5" r="2.75"/><circle cx="1786.0" cy="226.9" r="2.75"/><circle cx="1786.6" cy="160.7" r="2.75"/><circle cx="1786.6" cy="201.7" r="2.75"/><circle cx="1788.2" cy="119.5" r="2.75"/><circle cx="1788.8" cy="128.0" r="2.75"/><circle cx="1789.2" cy="173.6" r="2.75"/><circle cx="1789.3" cy="216.6" r="2.75"/><circle cx="1789.4" cy="143.9" r="2.75"/><circle cx="1789.5" cy="168.4" r="2.75"/><circle cx="1789.6" cy="153.5" r="2.75"/><circle cx="1789.9" cy="181.1" r="2.75"/><circle cx="1791.3" cy="204.9" r="2.75"/><circle cx="1792.0" cy="210.1" r="2.75"/><circle cx="1793.1" cy="196.8" r="2.75"/><circle cx="1793.8" cy="122.8" r="2.75"/><circle cx="1794.2" cy="190.3" r="2.75"/><circle cx="1794.2" cy="188.8" r="2.75"/><circle cx="1794.6" cy="172.1" r="2.75"/><circle cx="1794.8" cy="204.6" r="2.75"/><circle cx="1796.0" cy="182.3" r="2.75"/><circle cx="1801.1" cy="171.4" r="2.75"/><circle cx="1803.2" cy="180.1" r="2.75"/><circle cx="1804.0" cy="173.3" r="2.75"/><circle cx="1805.5" cy="131.8" r="2.75"/><circle cx="1805.7" cy="153.8" r="2.75"/><circle cx="1806.8" cy="160.1" r="2.75"/><circle cx="1807.6" cy="176.4" r="2.75"/><circle cx="1808.4" cy="143.9" r="2.75"/><circle cx="1809.7" cy="181.5" r="2.75"/><circle cx="1810.3" cy="161.2" r="2.75"/><circle cx="1810.6" cy="164.1" r="2.75"/><circle cx="1811.6" cy="148.4" r="2.75"/><circle cx="1812.9" cy="167.1" r="2.75"/><circle cx="1812.9" cy="166.0" r="2.75"/><circle cx="1814.7" cy="184.8" r="2.75"/><circle cx="1814.7" cy="96.7" r="2.75"/><circle cx="1819.7" cy="184.3" r="2.75"/><circle cx="1820.6" cy="111.3" r="2.75"/><circle cx="1823.3" cy="157.9" r="2.75"/><circle cx="1824.1" cy="163.1" r="2.75"/><circle cx="1826.0" cy="134.5" r="2.75"/><circle cx="1827.6" cy="157.6" r="2.75"/><circle cx="1828.3" cy="152.6" r="2.75"/><circle cx="1828.9" cy="156.1" r="2.75"/><circle cx="1834.1" cy="172.0" r="2.75"/><circle cx="1834.4" cy="172.0" r="2.75"/><circle cx="1834.4" cy="171.2" r="2.75"/><circle cx="1835.9" cy="120.5" r="2.75"/><circle cx="1838.9" cy="167.1" r="2.75"/><circle cx="1840.4" cy="160.4" r="2.75"/><circle cx="1843.2" cy="160.2" r="2.75"/><circle cx="1849.7" cy="125.9" r="2.75"/><circle cx="1851.8" cy="89.9" r="2.75"/><circle cx="1853.4" cy="168.4" r="2.75"/><circle cx="1854.6" cy="136.6" r="2.75"/><circle cx="1854.7" cy="139.3" r="2.75"/><circle cx="1857.0" cy="149.7" r="2.75"/><circle cx="1858.8" cy="126.9" r="2.75"/><circle cx="1859.8" cy="174.8" r="2.75"/><circle cx="1861.3" cy="116.8" r="2.75"/><circle cx="1871.3" cy="128.7" r="2.75"/><circle cx="1878.1" cy="158.8" r="2.75"/><circle cx="1880.8" cy="86.9" r="2.75"/><circle cx="1903.4" cy="96.5" r="2.75"/><circle cx="1940.7" cy="70.5" r="2.75"/></g>
<g fill="#FBD393" stroke="#F59C1C" stroke-width="2.2"><circle cx="1654.5" cy="153.4" r="2.75"/><circle cx="1670.1" cy="159.6" r="2.75"/><circle cx="1670.2" cy="170.0" r="2.75"/><circle cx="1671.3" cy="165.4" r="2.75"/><circle cx="1673.0" cy="167.4" r="2.75"/><circle cx="1673.5" cy="180.4" r="2.75"/><circle cx="1673.8" cy="175.3" r="2.75"/><circle cx="1675.9" cy="185.0" r="2.75"/><circle cx="1676.0" cy="174.6" r="2.75"/><circle cx="1677.2" cy="190.6" r="2.75"/><circle cx="1678.4" cy="153.3" r="2.75"/><circle cx="1679.2" cy="175.7" r="2.75"/><circle cx="1679.9" cy="174.6" r="2.75"/><circle cx="1682.2" cy="175.2" r="2.75"/><circle cx="1682.6" cy="157.7" r="2.75"/><circle cx="1682.9" cy="171.1" r="2.75"/><circle cx="1683.3" cy="166.0" r="2.75"/><circle cx="1684.3" cy="161.6" r="2.75"/><circle cx="1685.5" cy="160.5" r="2.75"/><circle cx="1685.9" cy="162.5" r="2.75"/><circle cx="1687.9" cy="173.8" r="2.75"/><circle cx="1688.4" cy="178.7" r="2.75"/><circle cx="1689.0" cy="175.9" r="2.75"/><circle cx="1689.1" cy="173.2" r="2.75"/><circle cx="1689.4" cy="169.1" r="2.75"/><circle cx="1690.0" cy="169.9" r="2.75"/><circle cx="1690.9" cy="159.6" r="2.75"/><circle cx="1692.1" cy="170.5" r="2.75"/><circle cx="1692.8" cy="153.8" r="2.75"/><circle cx="1693.0" cy="160.6" r="2.75"/><circle cx="1693.3" cy="174.0" r="2.75"/><circle cx="1693.9" cy="162.2" r="2.75"/><circle cx="1693.9" cy="195.3" r="2.75"/><circle cx="1694.0" cy="157.6" r="2.75"/><circle cx="1694.0" cy="166.2" r="2.75"/><circle cx="1694.8" cy="166.5" r="2.75"/><circle cx="1695.3" cy="185.0" r="2.75"/><circle cx="1695.6" cy="147.8" r="2.75"/><circle cx="1696.2" cy="172.4" r="2.75"/><circle cx="1696.4" cy="171.5" r="2.75"/><circle cx="1696.5" cy="160.3" r="2.75"/><circle cx="1696.6" cy="172.0" r="2.75"/><circle cx="1696.8" cy="177.8" r="2.75"/><circle cx="1697.0" cy="164.5" r="2.75"/><circle cx="1697.6" cy="179.4" r="2.75"/><circle cx="1698.7" cy="164.0" r="2.75"/><circle cx="1698.8" cy="169.4" r="2.75"/><circle cx="1699.2" cy="160.7" r="2.75"/><circle cx="1699.4" cy="181.4" r="2.75"/><circle cx="1700.1" cy="159.8" r="2.75"/><circle cx="1700.6" cy="168.3" r="2.75"/><circle cx="1700.7" cy="153.5" r="2.75"/><circle cx="1700.8" cy="176.7" r="2.75"/><circle cx="1701.4" cy="154.6" r="2.75"/><circle cx="1701.7" cy="164.9" r="2.75"/><circle cx="1702.3" cy="164.2" r="2.75"/><circle cx="1703.1" cy="177.8" r="2.75"/><circle cx="1703.4" cy="166.4" r="2.75"/><circle cx="1703.6" cy="170.6" r="2.75"/><circle cx="1703.7" cy="178.8" r="2.75"/><circle cx="1704.0" cy="181.7" r="2.75"/><circle cx="1704.0" cy="178.3" r="2.75"/><circle cx="1704.3" cy="158.6" r="2.75"/><circle cx="1705.1" cy="170.3" r="2.75"/><circle cx="1705.3" cy="163.4" r="2.75"/><circle cx="1705.5" cy="169.2" r="2.75"/><circle cx="1705.5" cy="170.7" r="2.75"/><circle cx="1705.6" cy="192.4" r="2.75"/><circle cx="1705.8" cy="175.4" r="2.75"/><circle cx="1705.9" cy="161.0" r="2.75"/><circle cx="1705.9" cy="170.3" r="2.75"/><circle cx="1706.2" cy="169.8" r="2.75"/><circle cx="1706.9" cy="184.2" r="2.75"/><circle cx="1707.9" cy="169.4" r="2.75"/><circle cx="1708.0" cy="178.1" r="2.75"/><circle cx="1708.1" cy="195.0" r="2.75"/><circle cx="1708.7" cy="163.1" r="2.75"/><circle cx="1709.0" cy="181.9" r="2.75"/><circle cx="1709.2" cy="174.1" r="2.75"/><circle cx="1710.0" cy="166.9" r="2.75"/><circle cx="1710.0" cy="162.3" r="2.75"/><circle cx="1710.6" cy="177.1" r="2.75"/><circle cx="1710.7" cy="169.7" r="2.75"/><circle cx="1710.9" cy="170.1" r="2.75"/><circle cx="1712.1" cy="182.8" r="2.75"/><circle cx="1712.2" cy="191.7" r="2.75"/><circle cx="1712.3" cy="189.9" r="2.75"/><circle cx="1712.5" cy="167.6" r="2.75"/><circle cx="1712.6" cy="172.0" r="2.75"/><circle cx="1712.8" cy="184.8" r="2.75"/><circle cx="1712.9" cy="178.6" r="2.75"/><circle cx="1713.7" cy="174.2" r="2.75"/><circle cx="1713.8" cy="190.4" r="2.75"/><circle cx="1715.0" cy="173.5" r="2.75"/><circle cx="1715.4" cy="179.0" r="2.75"/><circle cx="1715.9" cy="180.3" r="2.75"/><circle cx="1716.5" cy="172.2" r="2.75"/><circle cx="1716.5" cy="180.3" r="2.75"/><circle cx="1716.6" cy="179.1" r="2.75"/><circle cx="1717.1" cy="181.4" r="2.75"/><circle cx="1717.1" cy="175.6" r="2.75"/><circle cx="1717.6" cy="178.6" r="2.75"/><circle cx="1717.8" cy="170.6" r="2.75"/><circle cx="1717.9" cy="174.6" r="2.75"/><circle cx="1717.9" cy="181.6" r="2.75"/><circle cx="1718.0" cy="156.8" r="2.75"/><circle cx="1718.0" cy="184.1" r="2.75"/><circle cx="1718.1" cy="170.6" r="2.75"/><circle cx="1718.2" cy="154.6" r="2.75"/><circle cx="1718.3" cy="180.1" r="2.75"/><circle cx="1718.4" cy="162.1" r="2.75"/><circle cx="1719.1" cy="161.4" r="2.75"/><circle cx="1719.4" cy="171.0" r="2.75"/><circle cx="1719.5" cy="190.3" r="2.75"/><circle cx="1721.0" cy="161.7" r="2.75"/><circle cx="1721.0" cy="173.4" r="2.75"/><circle cx="1721.1" cy="179.1" r="2.75"/><circle cx="1721.5" cy="163.0" r="2.75"/><circle cx="1721.6" cy="180.8" r="2.75"/><circle cx="1722.1" cy="165.0" r="2.75"/><circle cx="1722.5" cy="157.4" r="2.75"/><circle cx="1723.1" cy="169.9" r="2.75"/><circle cx="1723.6" cy="184.2" r="2.75"/><circle cx="1723.7" cy="178.2" r="2.75"/><circle cx="1724.1" cy="182.8" r="2.75"/><circle cx="1724.7" cy="181.1" r="2.75"/><circle cx="1724.9" cy="173.2" r="2.75"/><circle cx="1725.2" cy="176.4" r="2.75"/><circle cx="1725.5" cy="173.3" r="2.75"/><circle cx="1725.6" cy="163.7" r="2.75"/><circle cx="1725.7" cy="176.0" r="2.75"/><circle cx="1725.9" cy="191.5" r="2.75"/><circle cx="1726.7" cy="177.7" r="2.75"/><circle cx="1726.7" cy="174.5" r="2.75"/><circle cx="1727.2" cy="166.3" r="2.75"/><circle cx="1727.2" cy="166.1" r="2.75"/><circle cx="1727.4" cy="166.9" r="2.75"/><circle cx="1727.5" cy="177.3" r="2.75"/><circle cx="1727.7" cy="153.0" r="2.75"/><circle cx="1728.0" cy="190.8" r="2.75"/><circle cx="1728.9" cy="164.1" r="2.75"/><circle cx="1730.2" cy="171.9" r="2.75"/><circle cx="1730.5" cy="171.3" r="2.75"/><circle cx="1731.0" cy="179.2" r="2.75"/><circle cx="1731.0" cy="175.4" r="2.75"/><circle cx="1731.2" cy="181.8" r="2.75"/><circle cx="1731.8" cy="128.5" r="2.75"/><circle cx="1731.9" cy="187.8" r="2.75"/><circle cx="1731.9" cy="167.4" r="2.75"/><circle cx="1732.0" cy="171.2" r="2.75"/><circle cx="1732.1" cy="158.2" r="2.75"/><circle cx="1732.5" cy="176.5" r="2.75"/><circle cx="1732.7" cy="177.0" r="2.75"/><circle cx="1732.7" cy="174.4" r="2.75"/><circle cx="1733.1" cy="175.9" r="2.75"/><circle cx="1733.7" cy="177.3" r="2.75"/><circle cx="1733.7" cy="186.1" r="2.75"/><circle cx="1734.8" cy="186.3" r="2.75"/><circle cx="1734.8" cy="181.5" r="2.75"/><circle cx="1735.6" cy="179.2" r="2.75"/><circle cx="1735.9" cy="187.2" r="2.75"/><circle cx="1736.6" cy="187.0" r="2.75"/><circle cx="1737.3" cy="179.4" r="2.75"/><circle cx="1737.3" cy="170.4" r="2.75"/><circle cx="1737.4" cy="178.6" r="2.75"/><circle cx="1737.9" cy="171.0" r="2.75"/><circle cx="1738.6" cy="168.5" r="2.75"/><circle cx="1738.8" cy="184.8" r="2.75"/><circle cx="1739.3" cy="181.0" r="2.75"/><circle cx="1739.5" cy="180.8" r="2.75"/><circle cx="1739.6" cy="193.7" r="2.75"/><circle cx="1739.6" cy="183.3" r="2.75"/><circle cx="1740.3" cy="173.2" r="2.75"/><circle cx="1740.4" cy="187.0" r="2.75"/><circle cx="1741.3" cy="165.6" r="2.75"/><circle cx="1741.6" cy="164.9" r="2.75"/><circle cx="1742.1" cy="180.9" r="2.75"/><circle cx="1742.3" cy="169.6" r="2.75"/><circle cx="1742.4" cy="190.3" r="2.75"/><circle cx="1742.5" cy="187.0" r="2.75"/><circle cx="1742.8" cy="181.1" r="2.75"/><circle cx="1743.0" cy="177.7" r="2.75"/><circle cx="1743.1" cy="179.5" r="2.75"/><circle cx="1743.6" cy="185.5" r="2.75"/><circle cx="1743.9" cy="160.6" r="2.75"/><circle cx="1744.2" cy="175.4" r="2.75"/><circle cx="1744.3" cy="175.5" r="2.75"/><circle cx="1744.3" cy="172.0" r="2.75"/><circle cx="1744.4" cy="176.5" r="2.75"/><circle cx="1744.7" cy="180.1" r="2.75"/><circle cx="1745.1" cy="183.1" r="2.75"/><circle cx="1746.6" cy="192.9" r="2.75"/><circle cx="1746.8" cy="165.2" r="2.75"/><circle cx="1746.9" cy="186.0" r="2.75"/><circle cx="1747.4" cy="193.2" r="2.75"/><circle cx="1747.7" cy="212.4" r="2.75"/><circle cx="1747.9" cy="192.8" r="2.75"/><circle cx="1747.9" cy="161.0" r="2.75"/><circle cx="1749.1" cy="175.6" r="2.75"/><circle cx="1749.2" cy="166.4" r="2.75"/><circle cx="1749.8" cy="166.1" r="2.75"/><circle cx="1751.0" cy="174.1" r="2.75"/><circle cx="1751.6" cy="174.2" r="2.75"/><circle cx="1752.4" cy="185.7" r="2.75"/><circle cx="1752.9" cy="180.2" r="2.75"/><circle cx="1753.0" cy="184.8" r="2.75"/><circle cx="1753.5" cy="179.2" r="2.75"/><circle cx="1753.7" cy="185.7" r="2.75"/><circle cx="1754.0" cy="168.4" r="2.75"/><circle cx="1754.0" cy="172.9" r="2.75"/><circle cx="1754.4" cy="180.6" r="2.75"/><circle cx="1754.5" cy="194.4" r="2.75"/><circle cx="1754.7" cy="173.7" r="2.75"/><circle cx="1754.9" cy="172.0" r="2.75"/><circle cx="1755.5" cy="180.5" r="2.75"/><circle cx="1756.2" cy="191.1" r="2.75"/><circle cx="1757.2" cy="176.3" r="2.75"/><circle cx="1757.3" cy="170.9" r="2.75"/><circle cx="1757.4" cy="197.1" r="2.75"/><circle cx="1757.5" cy="175.2" r="2.75"/><circle cx="1757.9" cy="196.3" r="2.75"/><circle cx="1758.2" cy="161.0" r="2.75"/><circle cx="1758.2" cy="164.9" r="2.75"/><circle cx="1758.5" cy="179.5" r="2.75"/><circle cx="1759.1" cy="176.2" r="2.75"/><circle cx="1759.2" cy="183.3" r="2.75"/><circle cx="1759.6" cy="180.6" r="2.75"/><circle cx="1759.8" cy="159.8" r="2.75"/><circle cx="1759.8" cy="168.8" r="2.75"/><circle cx="1759.8" cy="183.3" r="2.75"/><circle cx="1760.4" cy="184.0" r="2.75"/><circle cx="1760.5" cy="180.5" r="2.75"/><circle cx="1760.6" cy="161.3" r="2.75"/><circle cx="1760.7" cy="178.9" r="2.75"/><circle cx="1761.0" cy="171.4" r="2.75"/><circle cx="1761.7" cy="184.1" r="2.75"/><circle cx="1762.2" cy="225.6" r="2.75"/><circle cx="1762.3" cy="169.3" r="2.75"/><circle cx="1762.6" cy="181.7" r="2.75"/><circle cx="1762.7" cy="187.9" r="2.75"/><circle cx="1763.6" cy="187.3" r="2.75"/><circle cx="1765.7" cy="187.4" r="2.75"/><circle cx="1765.8" cy="186.9" r="2.75"/><circle cx="1765.9" cy="195.1" r="2.75"/><circle cx="1766.2" cy="171.0" r="2.75"/><circle cx="1766.3" cy="178.2" r="2.75"/><circle cx="1766.4" cy="173.0" r="2.75"/><circle cx="1766.5" cy="200.0" r="2.75"/><circle cx="1766.8" cy="178.6" r="2.75"/><circle cx="1768.0" cy="180.4" r="2.75"/><circle cx="1769.7" cy="171.8" r="2.75"/><circle cx="1770.1" cy="175.1" r="2.75"/><circle cx="1770.4" cy="179.1" r="2.75"/><circle cx="1771.1" cy="188.1" r="2.75"/><circle cx="1771.9" cy="193.1" r="2.75"/><circle cx="1772.4" cy="189.6" r="2.75"/><circle cx="1772.4" cy="188.2" r="2.75"/><circle cx="1773.2" cy="187.5" r="2.75"/><circle cx="1773.3" cy="193.7" r="2.75"/><circle cx="1773.4" cy="128.0" r="2.75"/><circle cx="1773.4" cy="180.4" r="2.75"/><circle cx="1773.8" cy="183.2" r="2.75"/><circle cx="1773.9" cy="192.5" r="2.75"/><circle cx="1774.5" cy="194.7" r="2.75"/><circle cx="1776.6" cy="181.2" r="2.75"/><circle cx="1776.8" cy="169.5" r="2.75"/><circle cx="1778.1" cy="192.2" r="2.75"/><circle cx="1778.9" cy="178.2" r="2.75"/><circle cx="1779.5" cy="186.2" r="2.75"/><circle cx="1779.5" cy="173.7" r="2.75"/><circle cx="1780.6" cy="171.9" r="2.75"/><circle cx="1781.1" cy="181.3" r="2.75"/><circle cx="1781.2" cy="177.7" r="2.75"/><circle cx="1781.7" cy="163.7" r="2.75"/><circle cx="1781.7" cy="187.4" r="2.75"/><circle cx="1782.0" cy="194.4" r="2.75"/><circle cx="1783.4" cy="181.5" r="2.75"/><circle cx="1783.6" cy="185.1" r="2.75"/><circle cx="1783.9" cy="187.8" r="2.75"/><circle cx="1785.3" cy="185.4" r="2.75"/><circle cx="1785.9" cy="186.4" r="2.75"/><circle cx="1786.0" cy="193.9" r="2.75"/><circle cx="1786.6" cy="189.6" r="2.75"/><circle cx="1786.6" cy="174.9" r="2.75"/><circle cx="1788.2" cy="187.2" r="2.75"/><circle cx="1788.8" cy="173.0" r="2.75"/><circle cx="1789.2" cy="195.5" r="2.75"/><circle cx="1789.3" cy="197.3" r="2.75"/><circle cx="1789.4" cy="184.3" r="2.75"/><circle cx="1789.5" cy="178.6" r="2.75"/><circle cx="1789.6" cy="191.2" r="2.75"/><circle cx="1789.9" cy="180.0" r="2.75"/><circle cx="1791.3" cy="177.5" r="2.75"/><circle cx="1792.0" cy="176.4" r="2.75"/><circle cx="1793.1" cy="186.9" r="2.75"/><circle cx="1793.8" cy="186.5" r="2.75"/><circle cx="1794.2" cy="200.6" r="2.75"/><circle cx="1794.2" cy="186.0" r="2.75"/><circle cx="1794.6" cy="183.8" r="2.75"/><circle cx="1794.8" cy="205.5" r="2.75"/><circle cx="1796.0" cy="213.0" r="2.75"/><circle cx="1801.1" cy="194.7" r="2.75"/><circle cx="1803.2" cy="196.4" r="2.75"/><circle cx="1804.0" cy="179.9" r="2.75"/><circle cx="1805.5" cy="210.2" r="2.75"/><circle cx="1805.7" cy="197.5" r="2.75"/><circle cx="1806.8" cy="170.1" r="2.75"/><circle cx="1807.6" cy="182.6" r="2.75"/><circle cx="1808.4" cy="200.1" r="2.75"/><circle cx="1809.7" cy="189.2" r="2.75"/><circle cx="1810.3" cy="181.4" r="2.75"/><circle cx="1810.6" cy="209.9" r="2.75"/><circle cx="1811.6" cy="190.9" r="2.75"/><circle cx="1812.9" cy="211.5" r="2.75"/><circle cx="1812.9" cy="181.9" r="2.75"/><circle cx="1814.7" cy="189.5" r="2.75"/><circle cx="1814.7" cy="182.4" r="2.75"/><circle cx="1819.7" cy="186.8" r="2.75"/><circle cx="1820.6" cy="194.5" r="2.75"/><circle cx="1823.3" cy="178.3" r="2.75"/><circle cx="1824.1" cy="201.4" r="2.75"/><circle cx="1826.0" cy="187.6" r="2.75"/><circle cx="1827.6" cy="197.1" r="2.75"/><circle cx="1828.3" cy="193.7" r="2.75"/><circle cx="1828.9" cy="194.0" r="2.75"/><circle cx="1834.1" cy="198.4" r="2.75"/><circle cx="1834.4" cy="190.6" r="2.75"/><circle cx="1834.4" cy="181.2" r="2.75"/><circle cx="1835.9" cy="176.7" r="2.75"/><circle cx="1838.9" cy="180.9" r="2.75"/><circle cx="1840.4" cy="195.2" r="2.75"/><circle cx="1843.2" cy="181.4" r="2.75"/><circle cx="1849.7" cy="191.5" r="2.75"/><circle cx="1851.8" cy="179.8" r="2.75"/><circle cx="1853.4" cy="206.8" r="2.75"/><circle cx="1854.6" cy="183.0" r="2.75"/><circle cx="1854.7" cy="201.2" r="2.75"/><circle cx="1857.0" cy="186.3" r="2.75"/><circle cx="1858.8" cy="200.7" r="2.75"/><circle cx="1859.8" cy="188.9" r="2.75"/><circle cx="1861.3" cy="199.5" r="2.75"/><circle cx="1871.3" cy="201.8" r="2.75"/><circle cx="1878.1" cy="208.3" r="2.75"/><circle cx="1880.8" cy="202.4" r="2.75"/><circle cx="1903.4" cy="203.7" r="2.75"/><circle cx="1940.7" cy="229.5" r="2.75"/></g>
<polygon points="1654.5,158.8 1664.0,160.7 1673.6,162.7 1683.1,164.6 1692.7,166.6 1702.2,168.5 1711.7,170.4 1721.3,172.2 1730.8,174.0 1740.3,175.6 1749.9,177.2 1759.4,178.7 1769.0,180.2 1778.5,181.6 1788.0,183.0 1797.6,184.4 1807.1,185.7 1816.7,187.1 1826.2,188.4 1835.7,189.7 1845.3,191.1 1854.8,192.4 1864.4,193.7 1873.9,195.0 1883.4,196.3 1893.0,197.6 1902.5,198.9 1912.0,200.2 1921.6,201.4 1931.1,202.7 1940.7,204.0 1940.7,216.0 1931.1,214.2 1921.6,212.4 1912.0,210.5 1902.5,208.7 1893.0,206.9 1883.4,205.1 1873.9,203.3 1864.4,201.5 1854.8,199.7 1845.3,197.9 1835.7,196.1 1826.2,194.3 1816.7,192.5 1807.1,190.8 1797.6,189.0 1788.0,187.3 1778.5,185.6 1769.0,183.9 1759.4,182.3 1749.9,180.7 1740.3,179.1 1730.8,177.7 1721.3,176.4 1711.7,175.1 1702.2,173.9 1692.7,172.7 1683.1,171.5 1673.6,170.3 1664.0,169.2 1654.5,168.1" fill="#929292"/>
<path d="M1654.5 163.4L1940.7 210.0" stroke="#F59C1C" stroke-width="2.4"/>
<polygon points="1654.5,228.0 1664.0,224.3 1673.6,220.5 1683.1,216.8 1692.7,213.0 1702.2,209.2 1711.7,205.3 1721.3,201.3 1730.8,197.2 1740.3,192.9 1749.9,188.5 1759.4,183.9 1769.0,179.2 1778.5,174.4 1788.0,169.6 1797.6,164.8 1807.1,159.8 1816.7,154.9 1826.2,149.9 1835.7,145.0 1845.3,140.0 1854.8,135.0 1864.4,130.0 1873.9,124.9 1883.4,119.9 1893.0,114.9 1902.5,109.8 1912.0,104.8 1921.6,99.7 1931.1,94.7 1940.7,89.7 1940.7,114.7 1931.1,118.6 1921.6,122.5 1912.0,126.4 1902.5,130.4 1893.0,134.3 1883.4,138.2 1873.9,142.2 1864.4,146.1 1854.8,150.1 1845.3,154.0 1835.7,158.0 1826.2,162.0 1816.7,166.0 1807.1,170.0 1797.6,174.0 1788.0,178.1 1778.5,182.3 1769.0,186.5 1759.4,190.8 1749.9,195.2 1740.3,199.6 1730.8,204.3 1721.3,209.2 1711.7,214.2 1702.2,219.3 1692.7,224.4 1683.1,229.6 1673.6,234.8 1664.0,240.0 1654.5,245.3" fill="#929292"/>
<path d="M1654.5 236.6L1940.7 102.2" stroke="#6F5FCF" stroke-width="1.5"/>
<circle cx="1655.5" cy="61.9" r="2.75" fill="#FBD393" stroke="#F59C1C" stroke-width="2.2"/>
<circle cx="1655.5" cy="82.0" r="2.75" fill="#C6BFF1" stroke="#6F5FCF" stroke-width="2.2"/>
<text x="1668.3" y="65.6" font-size="16.3" text-anchor="start" fill="#000">Bias gene</text>
<text x="1668.3" y="85.6" font-size="16.3" text-anchor="start" fill="#000">Favorable site</text>
<rect x="1639.2" y="346.7" width="314.4" height="229.6" fill="#fff" stroke="#000" stroke-width="2.1"/>
<text x="1631.9" y="557.4" font-size="15.8" text-anchor="end" fill="#000">100</text>
<text x="1631.9" y="506.2" font-size="15.8" text-anchor="end" fill="#000">150</text>
<text x="1631.9" y="455.0" font-size="15.8" text-anchor="end" fill="#000">200</text>
<text x="1631.9" y="403.8" font-size="15.8" text-anchor="end" fill="#000">250</text>
<text x="1671.8" y="594.1" font-size="15.8" text-anchor="middle" fill="#000">25</text>
<text x="1738.3" y="594.1" font-size="15.8" text-anchor="middle" fill="#000">30</text>
<text x="1804.9" y="594.1" font-size="15.8" text-anchor="middle" fill="#000">35</text>
<text x="1871.4" y="594.1" font-size="15.8" text-anchor="middle" fill="#000">40</text>
<text x="1938.0" y="594.1" font-size="15.8" text-anchor="middle" fill="#000">45</text>
<path d="M1634.9 550.9h4.3M1634.9 499.7h4.3M1634.9 448.5h4.3M1634.9 397.3h4.3M1671.8 576.3v4.3M1738.3 576.3v4.3M1804.9 576.3v4.3M1871.4 576.3v4.3M1938.0 576.3v4.3" stroke="#000" stroke-width="1.6"/>
<text x="1806.3" y="615.6" font-size="21.35" text-anchor="middle" fill="#000">Fiber strength</text>
<text transform="translate(1596.9,455.9) rotate(-90)" font-size="21.0" text-anchor="middle">Counts</text>
<g fill="#C6BFF1" stroke="#6F5FCF" stroke-width="2.2"><circle cx="1654.5" cy="503.4" r="2.75"/><circle cx="1670.1" cy="498.2" r="2.75"/><circle cx="1670.2" cy="456.5" r="2.75"/><circle cx="1671.3" cy="533.6" r="2.75"/><circle cx="1673.0" cy="521.4" r="2.75"/><circle cx="1673.5" cy="508.4" r="2.75"/><circle cx="1673.8" cy="540.9" r="2.75"/><circle cx="1675.9" cy="476.8" r="2.75"/><circle cx="1676.0" cy="509.9" r="2.75"/><circle cx="1677.2" cy="540.9" r="2.75"/><circle cx="1678.4" cy="507.5" r="2.75"/><circle cx="1679.2" cy="488.7" r="2.75"/><circle cx="1679.9" cy="545.6" r="2.75"/><circle cx="1682.2" cy="477.5" r="2.75"/><circle cx="1682.6" cy="515.3" r="2.75"/><circle cx="1682.9" cy="542.7" r="2.75"/><circle cx="1683.3" cy="512.9" r="2.75"/><circle cx="1684.3" cy="527.7" r="2.75"/><circle cx="1685.5" cy="508.9" r="2.75"/><circle cx="1685.9" cy="488.6" r="2.75"/><circle cx="1687.9" cy="495.5" r="2.75"/><circle cx="1688.4" cy="524.0" r="2.75"/><circle cx="1689.0" cy="543.5" r="2.75"/><circle cx="1689.1" cy="509.6" r="2.75"/><circle cx="1689.4" cy="525.4" r="2.75"/><circle cx="1690.0" cy="534.1" r="2.75"/><circle cx="1690.9" cy="512.0" r="2.75"/><circle cx="1692.1" cy="530.5" r="2.75"/><circle cx="1692.8" cy="528.3" r="2.75"/><circle cx="1693.0" cy="552.8" r="2.75"/><circle cx="1693.3" cy="554.0" r="2.75"/><circle cx="1693.9" cy="555.6" r="2.75"/><circle cx="1693.9" cy="498.5" r="2.75"/><circle cx="1694.0" cy="562.0" r="2.75"/><circle cx="1694.0" cy="497.2" r="2.75"/><circle cx="1694.8" cy="535.5" r="2.75"/><circle cx="1695.3" cy="500.3" r="2.75"/><circle cx="1695.6" cy="507.6" r="2.75"/><circle cx="1696.2" cy="494.9" r="2.75"/><circle cx="1696.4" cy="497.9" r="2.75"/><circle cx="1696.5" cy="523.1" r="2.75"/><circle cx="1696.6" cy="557.1" r="2.75"/><circle cx="1696.8" cy="524.1" r="2.75"/><circle cx="1697.0" cy="532.2" r="2.75"/><circle cx="1697.6" cy="461.0" r="2.75"/><circle cx="1698.7" cy="523.8" r="2.75"/><circle cx="1698.8" cy="519.5" r="2.75"/><circle cx="1699.2" cy="502.6" r="2.75"/><circle cx="1699.4" cy="524.3" r="2.75"/><circle cx="1700.1" cy="485.7" r="2.75"/><circle cx="1700.6" cy="557.3" r="2.75"/><circle cx="1700.7" cy="506.7" r="2.75"/><circle cx="1700.8" cy="500.2" r="2.75"/><circle cx="1701.4" cy="507.8" r="2.75"/><circle cx="1701.7" cy="529.0" r="2.75"/><circle cx="1702.3" cy="489.8" r="2.75"/><circle cx="1703.1" cy="519.4" r="2.75"/><circle cx="1703.4" cy="535.2" r="2.75"/><circle cx="1703.6" cy="544.4" r="2.75"/><circle cx="1703.7" cy="486.8" r="2.75"/><circle cx="1704.0" cy="532.9" r="2.75"/><circle cx="1704.0" cy="479.3" r="2.75"/><circle cx="1704.3" cy="477.8" r="2.75"/><circle cx="1705.1" cy="515.9" r="2.75"/><circle cx="1705.3" cy="497.6" r="2.75"/><circle cx="1705.5" cy="531.1" r="2.75"/><circle cx="1705.5" cy="520.7" r="2.75"/><circle cx="1705.6" cy="527.9" r="2.75"/><circle cx="1705.8" cy="496.4" r="2.75"/><circle cx="1705.9" cy="534.5" r="2.75"/><circle cx="1705.9" cy="513.9" r="2.75"/><circle cx="1706.2" cy="550.7" r="2.75"/><circle cx="1706.9" cy="497.8" r="2.75"/><circle cx="1707.9" cy="561.9" r="2.75"/><circle cx="1708.0" cy="553.7" r="2.75"/><circle cx="1708.1" cy="531.5" r="2.75"/><circle cx="1708.7" cy="515.3" r="2.75"/><circle cx="1709.0" cy="506.3" r="2.75"/><circle cx="1709.2" cy="504.9" r="2.75"/><circle cx="1710.0" cy="460.0" r="2.75"/><circle cx="1710.0" cy="493.3" r="2.75"/><circle cx="1710.6" cy="494.8" r="2.75"/><circle cx="1710.7" cy="521.0" r="2.75"/><circle cx="1710.9" cy="489.9" r="2.75"/><circle cx="1712.1" cy="491.7" r="2.75"/><circle cx="1712.2" cy="492.2" r="2.75"/><circle cx="1712.3" cy="511.3" r="2.75"/><circle cx="1712.5" cy="493.2" r="2.75"/><circle cx="1712.6" cy="471.2" r="2.75"/><circle cx="1712.8" cy="527.8" r="2.75"/><circle cx="1712.9" cy="561.1" r="2.75"/><circle cx="1713.7" cy="488.0" r="2.75"/><circle cx="1713.8" cy="479.6" r="2.75"/><circle cx="1715.0" cy="513.2" r="2.75"/><circle cx="1715.4" cy="518.2" r="2.75"/><circle cx="1715.9" cy="439.9" r="2.75"/><circle cx="1716.5" cy="518.3" r="2.75"/><circle cx="1716.5" cy="536.8" r="2.75"/><circle cx="1716.6" cy="518.6" r="2.75"/><circle cx="1717.1" cy="494.5" r="2.75"/><circle cx="1717.1" cy="521.7" r="2.75"/><circle cx="1717.6" cy="516.1" r="2.75"/><circle cx="1717.8" cy="499.1" r="2.75"/><circle cx="1717.9" cy="517.0" r="2.75"/><circle cx="1717.9" cy="503.4" r="2.75"/><circle cx="1718.0" cy="507.5" r="2.75"/><circle cx="1718.0" cy="532.4" r="2.75"/><circle cx="1718.1" cy="504.7" r="2.75"/><circle cx="1718.2" cy="534.8" r="2.75"/><circle cx="1718.3" cy="483.6" r="2.75"/><circle cx="1718.4" cy="529.1" r="2.75"/><circle cx="1719.1" cy="511.9" r="2.75"/><circle cx="1719.4" cy="550.3" r="2.75"/><circle cx="1719.5" cy="530.5" r="2.75"/><circle cx="1721.0" cy="553.1" r="2.75"/><circle cx="1721.0" cy="469.0" r="2.75"/><circle cx="1721.1" cy="508.3" r="2.75"/><circle cx="1721.5" cy="492.5" r="2.75"/><circle cx="1721.6" cy="547.8" r="2.75"/><circle cx="1722.1" cy="535.3" r="2.75"/><circle cx="1722.5" cy="509.0" r="2.75"/><circle cx="1723.1" cy="537.7" r="2.75"/><circle cx="1723.6" cy="476.6" r="2.75"/><circle cx="1723.7" cy="514.2" r="2.75"/><circle cx="1724.1" cy="538.3" r="2.75"/><circle cx="1724.7" cy="496.7" r="2.75"/><circle cx="1724.9" cy="507.6" r="2.75"/><circle cx="1725.2" cy="485.0" r="2.75"/><circle cx="1725.5" cy="520.2" r="2.75"/><circle cx="1725.6" cy="494.8" r="2.75"/><circle cx="1725.7" cy="474.6" r="2.75"/><circle cx="1725.9" cy="498.4" r="2.75"/><circle cx="1726.7" cy="518.4" r="2.75"/><circle cx="1726.7" cy="511.4" r="2.75"/><circle cx="1727.2" cy="566.8" r="2.75"/><circle cx="1727.2" cy="486.7" r="2.75"/><circle cx="1727.4" cy="496.3" r="2.75"/><circle cx="1727.5" cy="543.9" r="2.75"/><circle cx="1727.7" cy="499.0" r="2.75"/><circle cx="1728.0" cy="506.5" r="2.75"/><circle cx="1728.9" cy="491.1" r="2.75"/><circle cx="1730.2" cy="501.1" r="2.75"/><circle cx="1730.5" cy="463.7" r="2.75"/><circle cx="1731.0" cy="499.3" r="2.75"/><circle cx="1731.0" cy="525.3" r="2.75"/><circle cx="1731.2" cy="485.8" r="2.75"/><circle cx="1731.8" cy="526.4" r="2.75"/><circle cx="1731.9" cy="493.5" r="2.75"/><circle cx="1731.9" cy="501.8" r="2.75"/><circle cx="1732.0" cy="549.0" r="2.75"/><circle cx="1732.1" cy="485.2" r="2.75"/><circle cx="1732.5" cy="468.0" r="2.75"/><circle cx="1732.7" cy="466.2" r="2.75"/><circle cx="1732.7" cy="535.0" r="2.75"/><circle cx="1733.1" cy="481.9" r="2.75"/><circle cx="1733.7" cy="525.9" r="2.75"/><circle cx="1733.7" cy="503.7" r="2.75"/><circle cx="1734.8" cy="490.4" r="2.75"/><circle cx="1734.8" cy="519.2" r="2.75"/><circle cx="1735.6" cy="541.0" r="2.75"/><circle cx="1735.9" cy="503.4" r="2.75"/><circle cx="1736.6" cy="500.7" r="2.75"/><circle cx="1737.3" cy="520.1" r="2.75"/><circle cx="1737.3" cy="518.3" r="2.75"/><circle cx="1737.4" cy="481.5" r="2.75"/><circle cx="1737.9" cy="501.4" r="2.75"/><circle cx="1738.6" cy="510.3" r="2.75"/><circle cx="1738.8" cy="513.3" r="2.75"/><circle cx="1739.3" cy="494.6" r="2.75"/><circle cx="1739.5" cy="496.4" r="2.75"/><circle cx="1739.6" cy="502.8" r="2.75"/><circle cx="1739.6" cy="532.1" r="2.75"/><circle cx="1740.3" cy="507.3" r="2.75"/><circle cx="1740.4" cy="513.4" r="2.75"/><circle cx="1741.3" cy="496.4" r="2.75"/><circle cx="1741.6" cy="470.1" r="2.75"/><circle cx="1742.1" cy="474.8" r="2.75"/><circle cx="1742.3" cy="482.2" r="2.75"/><circle cx="1742.4" cy="494.9" r="2.75"/><circle cx="1742.5" cy="505.3" r="2.75"/><circle cx="1742.8" cy="489.4" r="2.75"/><circle cx="1743.0" cy="510.1" r="2.75"/><circle cx="1743.1" cy="505.5" r="2.75"/><circle cx="1743.6" cy="517.3" r="2.75"/><circle cx="1743.9" cy="498.3" r="2.75"/><circle cx="1744.2" cy="498.8" r="2.75"/><circle cx="1744.3" cy="452.7" r="2.75"/><circle cx="1744.3" cy="435.7" r="2.75"/><circle cx="1744.4" cy="505.9" r="2.75"/><circle cx="1744.7" cy="478.2" r="2.75"/><circle cx="1745.1" cy="507.9" r="2.75"/><circle cx="1746.6" cy="471.8" r="2.75"/><circle cx="1746.8" cy="477.3" r="2.75"/><circle cx="1746.9" cy="426.7" r="2.75"/><circle cx="1747.4" cy="521.6" r="2.75"/><circle cx="1747.7" cy="497.3" r="2.75"/><circle cx="1747.9" cy="498.2" r="2.75"/><circle cx="1747.9" cy="488.4" r="2.75"/><circle cx="1749.1" cy="478.0" r="2.75"/><circle cx="1749.2" cy="500.0" r="2.75"/><circle cx="1749.8" cy="512.1" r="2.75"/><circle cx="1751.0" cy="487.1" r="2.75"/><circle cx="1751.6" cy="471.0" r="2.75"/><circle cx="1752.4" cy="520.5" r="2.75"/><circle cx="1752.9" cy="530.6" r="2.75"/><circle cx="1753.0" cy="466.3" r="2.75"/><circle cx="1753.5" cy="473.3" r="2.75"/><circle cx="1753.7" cy="467.4" r="2.75"/><circle cx="1754.0" cy="516.3" r="2.75"/><circle cx="1754.0" cy="497.9" r="2.75"/><circle cx="1754.4" cy="487.6" r="2.75"/><circle cx="1754.5" cy="482.5" r="2.75"/><circle cx="1754.7" cy="495.8" r="2.75"/><circle cx="1754.9" cy="494.0" r="2.75"/><circle cx="1755.5" cy="468.5" r="2.75"/><circle cx="1756.2" cy="465.0" r="2.75"/><circle cx="1757.2" cy="505.0" r="2.75"/><circle cx="1757.3" cy="486.6" r="2.75"/><circle cx="1757.4" cy="504.0" r="2.75"/><circle cx="1757.5" cy="488.7" r="2.75"/><circle cx="1757.9" cy="496.6" r="2.75"/><circle cx="1758.2" cy="502.0" r="2.75"/><circle cx="1758.2" cy="456.3" r="2.75"/><circle cx="1758.5" cy="484.3" r="2.75"/><circle cx="1759.1" cy="499.2" r="2.75"/><circle cx="1759.2" cy="461.2" r="2.75"/><circle cx="1759.6" cy="504.0" r="2.75"/><circle cx="1759.8" cy="491.0" r="2.75"/><circle cx="1759.8" cy="493.2" r="2.75"/><circle cx="1759.8" cy="504.5" r="2.75"/><circle cx="1760.4" cy="499.8" r="2.75"/><circle cx="1760.5" cy="488.7" r="2.75"/><circle cx="1760.6" cy="524.5" r="2.75"/><circle cx="1760.7" cy="499.8" r="2.75"/><circle cx="1761.0" cy="484.6" r="2.75"/><circle cx="1761.7" cy="483.7" r="2.75"/><circle cx="1762.2" cy="483.0" r="2.75"/><circle cx="1762.3" cy="434.8" r="2.75"/><circle cx="1762.6" cy="474.2" r="2.75"/><circle cx="1762.7" cy="493.2" r="2.75"/><circle cx="1763.6" cy="492.4" r="2.75"/><circle cx="1765.7" cy="518.2" r="2.75"/><circle cx="1765.8" cy="478.4" r="2.75"/><circle cx="1765.9" cy="495.6" r="2.75"/><circle cx="1766.2" cy="453.0" r="2.75"/><circle cx="1766.3" cy="514.4" r="2.75"/><circle cx="1766.4" cy="473.6" r="2.75"/><circle cx="1766.5" cy="476.6" r="2.75"/><circle cx="1766.8" cy="515.1" r="2.75"/><circle cx="1768.0" cy="473.1" r="2.75"/><circle cx="1769.7" cy="457.1" r="2.75"/><circle cx="1770.1" cy="502.0" r="2.75"/><circle cx="1770.4" cy="432.6" r="2.75"/><circle cx="1771.1" cy="470.0" r="2.75"/><circle cx="1771.9" cy="494.1" r="2.75"/><circle cx="1772.4" cy="472.0" r="2.75"/><circle cx="1772.4" cy="503.6" r="2.75"/><circle cx="1773.2" cy="479.8" r="2.75"/><circle cx="1773.3" cy="484.4" r="2.75"/><circle cx="1773.4" cy="518.8" r="2.75"/><circle cx="1773.4" cy="510.1" r="2.75"/><circle cx="1773.8" cy="502.3" r="2.75"/><circle cx="1773.9" cy="495.0" r="2.75"/><circle cx="1774.5" cy="493.8" r="2.75"/><circle cx="1776.6" cy="500.2" r="2.75"/><circle cx="1776.8" cy="469.5" r="2.75"/><circle cx="1778.1" cy="461.8" r="2.75"/><circle cx="1778.9" cy="481.9" r="2.75"/><circle cx="1779.5" cy="534.8" r="2.75"/><circle cx="1779.5" cy="487.1" r="2.75"/><circle cx="1780.6" cy="470.0" r="2.75"/><circle cx="1781.1" cy="489.1" r="2.75"/><circle cx="1781.2" cy="476.5" r="2.75"/><circle cx="1781.7" cy="480.3" r="2.75"/><circle cx="1781.7" cy="439.7" r="2.75"/><circle cx="1782.0" cy="541.7" r="2.75"/><circle cx="1783.4" cy="467.5" r="2.75"/><circle cx="1783.6" cy="494.1" r="2.75"/><circle cx="1783.9" cy="472.1" r="2.75"/><circle cx="1785.3" cy="565.6" r="2.75"/><circle cx="1785.9" cy="485.0" r="2.75"/><circle cx="1786.0" cy="449.0" r="2.75"/><circle cx="1786.6" cy="508.8" r="2.75"/><circle cx="1786.6" cy="481.0" r="2.75"/><circle cx="1788.2" cy="505.7" r="2.75"/><circle cx="1788.8" cy="478.3" r="2.75"/><circle cx="1789.2" cy="468.7" r="2.75"/><circle cx="1789.3" cy="464.5" r="2.75"/><circle cx="1789.4" cy="476.2" r="2.75"/><circle cx="1789.5" cy="511.9" r="2.75"/><circle cx="1789.6" cy="473.9" r="2.75"/><circle cx="1789.9" cy="458.7" r="2.75"/><circle cx="1791.3" cy="455.8" r="2.75"/><circle cx="1792.0" cy="428.7" r="2.75"/><circle cx="1793.1" cy="465.2" r="2.75"/><circle cx="1793.8" cy="501.8" r="2.75"/><circle cx="1794.2" cy="490.0" r="2.75"/><circle cx="1794.2" cy="442.8" r="2.75"/><circle cx="1794.6" cy="490.2" r="2.75"/><circle cx="1794.8" cy="504.3" r="2.75"/><circle cx="1796.0" cy="455.9" r="2.75"/><circle cx="1801.1" cy="460.0" r="2.75"/><circle cx="1803.2" cy="494.7" r="2.75"/><circle cx="1804.0" cy="459.9" r="2.75"/><circle cx="1805.5" cy="491.4" r="2.75"/><circle cx="1805.7" cy="473.6" r="2.75"/><circle cx="1806.8" cy="480.1" r="2.75"/><circle cx="1807.6" cy="467.2" r="2.75"/><circle cx="1808.4" cy="534.3" r="2.75"/><circle cx="1809.7" cy="459.7" r="2.75"/><circle cx="1810.3" cy="522.3" r="2.75"/><circle cx="1810.6" cy="481.1" r="2.75"/><circle cx="1811.6" cy="484.4" r="2.75"/><circle cx="1812.9" cy="434.0" r="2.75"/><circle cx="1812.9" cy="458.2" r="2.75"/><circle cx="1814.7" cy="467.6" r="2.75"/><circle cx="1814.7" cy="490.9" r="2.75"/><circle cx="1819.7" cy="468.3" r="2.75"/><circle cx="1820.6" cy="482.5" r="2.75"/><circle cx="1823.3" cy="414.6" r="2.75"/><circle cx="1824.1" cy="531.2" r="2.75"/><circle cx="1826.0" cy="464.2" r="2.75"/><circle cx="1827.6" cy="522.4" r="2.75"/><circle cx="1828.3" cy="440.6" r="2.75"/><circle cx="1828.9" cy="483.3" r="2.75"/><circle cx="1834.1" cy="425.2" r="2.75"/><circle cx="1834.4" cy="475.2" r="2.75"/><circle cx="1834.4" cy="402.8" r="2.75"/><circle cx="1835.9" cy="451.3" r="2.75"/><circle cx="1838.9" cy="433.2" r="2.75"/><circle cx="1840.4" cy="459.7" r="2.75"/><circle cx="1843.2" cy="528.4" r="2.75"/><circle cx="1849.7" cy="473.5" r="2.75"/><circle cx="1851.8" cy="492.1" r="2.75"/><circle cx="1853.4" cy="433.1" r="2.75"/><circle cx="1854.6" cy="442.2" r="2.75"/><circle cx="1854.7" cy="454.5" r="2.75"/><circle cx="1857.0" cy="443.2" r="2.75"/><circle cx="1858.8" cy="448.5" r="2.75"/><circle cx="1859.8" cy="466.1" r="2.75"/><circle cx="1861.3" cy="406.6" r="2.75"/><circle cx="1871.3" cy="442.7" r="2.75"/><circle cx="1878.1" cy="450.2" r="2.75"/><circle cx="1880.8" cy="478.9" r="2.75"/><circle cx="1903.4" cy="450.5" r="2.75"/><circle cx="1940.7" cy="421.5" r="2.75"/></g>
<g fill="#FBD393" stroke="#F59C1C" stroke-width="2.2"><circle cx="1654.5" cy="502.5" r="2.75"/><circle cx="1670.1" cy="462.5" r="2.75"/><circle cx="1670.2" cy="488.4" r="2.75"/><circle cx="1671.3" cy="490.3" r="2.75"/><circle cx="1673.0" cy="490.1" r="2.75"/><circle cx="1673.5" cy="494.8" r="2.75"/><circle cx="1673.8" cy="492.7" r="2.75"/><circle cx="1675.9" cy="508.4" r="2.75"/><circle cx="1676.0" cy="503.4" r="2.75"/><circle cx="1677.2" cy="500.8" r="2.75"/><circle cx="1678.4" cy="489.1" r="2.75"/><circle cx="1679.2" cy="481.9" r="2.75"/><circle cx="1679.9" cy="492.4" r="2.75"/><circle cx="1682.2" cy="493.0" r="2.75"/><circle cx="1682.6" cy="482.3" r="2.75"/><circle cx="1682.9" cy="487.8" r="2.75"/><circle cx="1683.3" cy="485.9" r="2.75"/><circle cx="1684.3" cy="487.5" r="2.75"/><circle cx="1685.5" cy="500.8" r="2.75"/><circle cx="1685.9" cy="488.2" r="2.75"/><circle cx="1687.9" cy="488.1" r="2.75"/><circle cx="1688.4" cy="499.2" r="2.75"/><circle cx="1689.0" cy="496.0" r="2.75"/><circle cx="1689.1" cy="469.4" r="2.75"/><circle cx="1689.4" cy="479.8" r="2.75"/><circle cx="1690.0" cy="474.1" r="2.75"/><circle cx="1690.9" cy="484.8" r="2.75"/><circle cx="1692.1" cy="478.1" r="2.75"/><circle cx="1692.8" cy="500.3" r="2.75"/><circle cx="1693.0" cy="479.2" r="2.75"/><circle cx="1693.3" cy="474.9" r="2.75"/><circle cx="1693.9" cy="469.6" r="2.75"/><circle cx="1693.9" cy="497.1" r="2.75"/><circle cx="1694.0" cy="481.6" r="2.75"/><circle cx="1694.0" cy="490.7" r="2.75"/><circle cx="1694.8" cy="481.6" r="2.75"/><circle cx="1695.3" cy="494.7" r="2.75"/><circle cx="1695.6" cy="474.8" r="2.75"/><circle cx="1696.2" cy="494.0" r="2.75"/><circle cx="1696.4" cy="486.0" r="2.75"/><circle cx="1696.5" cy="490.4" r="2.75"/><circle cx="1696.6" cy="481.1" r="2.75"/><circle cx="1696.8" cy="483.3" r="2.75"/><circle cx="1697.0" cy="492.5" r="2.75"/><circle cx="1697.6" cy="489.8" r="2.75"/><circle cx="1698.7" cy="491.7" r="2.75"/><circle cx="1698.8" cy="489.4" r="2.75"/><circle cx="1699.2" cy="489.7" r="2.75"/><circle cx="1699.4" cy="488.4" r="2.75"/><circle cx="1700.1" cy="487.1" r="2.75"/><circle cx="1700.6" cy="489.5" r="2.75"/><circle cx="1700.7" cy="504.5" r="2.75"/><circle cx="1700.8" cy="494.3" r="2.75"/><circle cx="1701.4" cy="503.5" r="2.75"/><circle cx="1701.7" cy="484.8" r="2.75"/><circle cx="1702.3" cy="484.8" r="2.75"/><circle cx="1703.1" cy="496.4" r="2.75"/><circle cx="1703.4" cy="474.4" r="2.75"/><circle cx="1703.6" cy="497.9" r="2.75"/><circle cx="1703.7" cy="481.3" r="2.75"/><circle cx="1704.0" cy="487.0" r="2.75"/><circle cx="1704.0" cy="486.5" r="2.75"/><circle cx="1704.3" cy="480.2" r="2.75"/><circle cx="1705.1" cy="481.8" r="2.75"/><circle cx="1705.3" cy="488.6" r="2.75"/><circle cx="1705.5" cy="496.9" r="2.75"/><circle cx="1705.5" cy="498.1" r="2.75"/><circle cx="1705.6" cy="489.7" r="2.75"/><circle cx="1705.8" cy="476.7" r="2.75"/><circle cx="1705.9" cy="482.0" r="2.75"/><circle cx="1705.9" cy="489.0" r="2.75"/><circle cx="1706.2" cy="486.2" r="2.75"/><circle cx="1706.9" cy="483.4" r="2.75"/><circle cx="1707.9" cy="475.4" r="2.75"/><circle cx="1708.0" cy="494.4" r="2.75"/><circle cx="1708.1" cy="483.0" r="2.75"/><circle cx="1708.7" cy="486.4" r="2.75"/><circle cx="1709.0" cy="494.3" r="2.75"/><circle cx="1709.2" cy="496.2" r="2.75"/><circle cx="1710.0" cy="478.6" r="2.75"/><circle cx="1710.0" cy="485.8" r="2.75"/><circle cx="1710.6" cy="489.9" r="2.75"/><circle cx="1710.7" cy="487.5" r="2.75"/><circle cx="1710.9" cy="480.7" r="2.75"/><circle cx="1712.1" cy="487.4" r="2.75"/><circle cx="1712.2" cy="475.9" r="2.75"/><circle cx="1712.3" cy="490.1" r="2.75"/><circle cx="1712.5" cy="494.1" r="2.75"/><circle cx="1712.6" cy="489.0" r="2.75"/><circle cx="1712.8" cy="505.1" r="2.75"/><circle cx="1712.9" cy="490.8" r="2.75"/><circle cx="1713.7" cy="478.6" r="2.75"/><circle cx="1713.8" cy="474.9" r="2.75"/><circle cx="1715.0" cy="483.0" r="2.75"/><circle cx="1715.4" cy="472.3" r="2.75"/><circle cx="1715.9" cy="494.8" r="2.75"/><circle cx="1716.5" cy="495.4" r="2.75"/><circle cx="1716.5" cy="484.9" r="2.75"/><circle cx="1716.6" cy="486.5" r="2.75"/><circle cx="1717.1" cy="492.1" r="2.75"/><circle cx="1717.1" cy="481.9" r="2.75"/><circle cx="1717.6" cy="475.7" r="2.75"/><circle cx="1717.8" cy="481.6" r="2.75"/><circle cx="1717.9" cy="487.2" r="2.75"/><circle cx="1717.9" cy="485.9" r="2.75"/><circle cx="1718.0" cy="477.8" r="2.75"/><circle cx="1718.0" cy="484.8" r="2.75"/><circle cx="1718.1" cy="485.8" r="2.75"/><circle cx="1718.2" cy="499.6" r="2.75"/><circle cx="1718.3" cy="500.5" r="2.75"/><circle cx="1718.4" cy="502.2" r="2.75"/><circle cx="1719.1" cy="504.8" r="2.75"/><circle cx="1719.4" cy="487.6" r="2.75"/><circle cx="1719.5" cy="484.9" r="2.75"/><circle cx="1721.0" cy="494.0" r="2.75"/><circle cx="1721.0" cy="483.9" r="2.75"/><circle cx="1721.1" cy="491.5" r="2.75"/><circle cx="1721.5" cy="487.9" r="2.75"/><circle cx="1721.6" cy="498.6" r="2.75"/><circle cx="1722.1" cy="476.2" r="2.75"/><circle cx="1722.5" cy="517.6" r="2.75"/><circle cx="1723.1" cy="491.6" r="2.75"/><circle cx="1723.6" cy="472.2" r="2.75"/><circle cx="1723.7" cy="495.0" r="2.75"/><circle cx="1724.1" cy="493.1" r="2.75"/><circle cx="1724.7" cy="490.1" r="2.75"/><circle cx="1724.9" cy="501.2" r="2.75"/><circle cx="1725.2" cy="489.6" r="2.75"/><circle cx="1725.5" cy="499.2" r="2.75"/><circle cx="1725.6" cy="478.2" r="2.75"/><circle cx="1725.7" cy="484.4" r="2.75"/><circle cx="1725.9" cy="497.5" r="2.75"/><circle cx="1726.7" cy="482.4" r="2.75"/><circle cx="1726.7" cy="500.0" r="2.75"/><circle cx="1727.2" cy="485.5" r="2.75"/><circle cx="1727.2" cy="483.1" r="2.75"/><circle cx="1727.4" cy="486.2" r="2.75"/><circle cx="1727.5" cy="495.4" r="2.75"/><circle cx="1727.7" cy="483.2" r="2.75"/><circle cx="1728.0" cy="488.1" r="2.75"/><circle cx="1728.9" cy="486.1" r="2.75"/><circle cx="1730.2" cy="475.1" r="2.75"/><circle cx="1730.5" cy="473.4" r="2.75"/><circle cx="1731.0" cy="474.3" r="2.75"/><circle cx="1731.0" cy="491.3" r="2.75"/><circle cx="1731.2" cy="492.1" r="2.75"/><circle cx="1731.8" cy="476.7" r="2.75"/><circle cx="1731.9" cy="483.0" r="2.75"/><circle cx="1731.9" cy="502.1" r="2.75"/><circle cx="1732.0" cy="491.0" r="2.75"/><circle cx="1732.1" cy="472.6" r="2.75"/><circle cx="1732.5" cy="495.8" r="2.75"/><circle cx="1732.7" cy="491.9" r="2.75"/><circle cx="1732.7" cy="491.7" r="2.75"/><circle cx="1733.1" cy="482.5" r="2.75"/><circle cx="1733.7" cy="530.3" r="2.75"/><circle cx="1733.7" cy="488.6" r="2.75"/><circle cx="1734.8" cy="497.7" r="2.75"/><circle cx="1734.8" cy="481.4" r="2.75"/><circle cx="1735.6" cy="486.0" r="2.75"/><circle cx="1735.9" cy="491.1" r="2.75"/><circle cx="1736.6" cy="485.7" r="2.75"/><circle cx="1737.3" cy="513.7" r="2.75"/><circle cx="1737.3" cy="497.2" r="2.75"/><circle cx="1737.4" cy="497.7" r="2.75"/><circle cx="1737.9" cy="493.6" r="2.75"/><circle cx="1738.6" cy="492.4" r="2.75"/><circle cx="1738.8" cy="509.1" r="2.75"/><circle cx="1739.3" cy="490.3" r="2.75"/><circle cx="1739.5" cy="477.1" r="2.75"/><circle cx="1739.6" cy="488.2" r="2.75"/><circle cx="1739.6" cy="477.8" r="2.75"/><circle cx="1740.3" cy="507.7" r="2.75"/><circle cx="1740.4" cy="486.4" r="2.75"/><circle cx="1741.3" cy="474.8" r="2.75"/><circle cx="1741.6" cy="473.4" r="2.75"/><circle cx="1742.1" cy="489.2" r="2.75"/><circle cx="1742.3" cy="491.7" r="2.75"/><circle cx="1742.4" cy="480.1" r="2.75"/><circle cx="1742.5" cy="494.7" r="2.75"/><circle cx="1742.8" cy="488.1" r="2.75"/><circle cx="1743.0" cy="498.2" r="2.75"/><circle cx="1743.1" cy="484.7" r="2.75"/><circle cx="1743.6" cy="485.2" r="2.75"/><circle cx="1743.9" cy="472.7" r="2.75"/><circle cx="1744.2" cy="482.5" r="2.75"/><circle cx="1744.3" cy="490.3" r="2.75"/><circle cx="1744.3" cy="485.9" r="2.75"/><circle cx="1744.4" cy="495.1" r="2.75"/><circle cx="1744.7" cy="484.9" r="2.75"/><circle cx="1745.1" cy="486.8" r="2.75"/><circle cx="1746.6" cy="496.3" r="2.75"/><circle cx="1746.8" cy="477.8" r="2.75"/><circle cx="1746.9" cy="503.4" r="2.75"/><circle cx="1747.4" cy="482.4" r="2.75"/><circle cx="1747.7" cy="479.2" r="2.75"/><circle cx="1747.9" cy="500.7" r="2.75"/><circle cx="1747.9" cy="470.2" r="2.75"/><circle cx="1749.1" cy="490.3" r="2.75"/><circle cx="1749.2" cy="465.8" r="2.75"/><circle cx="1749.8" cy="478.7" r="2.75"/><circle cx="1751.0" cy="477.1" r="2.75"/><circle cx="1751.6" cy="482.4" r="2.75"/><circle cx="1752.4" cy="476.7" r="2.75"/><circle cx="1752.9" cy="492.4" r="2.75"/><circle cx="1753.0" cy="490.6" r="2.75"/><circle cx="1753.5" cy="499.4" r="2.75"/><circle cx="1753.7" cy="480.2" r="2.75"/><circle cx="1754.0" cy="489.8" r="2.75"/><circle cx="1754.0" cy="478.5" r="2.75"/><circle cx="1754.4" cy="479.7" r="2.75"/><circle cx="1754.5" cy="486.2" r="2.75"/><circle cx="1754.7" cy="478.8" r="2.75"/><circle cx="1754.9" cy="482.2" r="2.75"/><circle cx="1755.5" cy="482.6" r="2.75"/><circle cx="1756.2" cy="480.5" r="2.75"/><circle cx="1757.2" cy="484.2" r="2.75"/><circle cx="1757.3" cy="483.9" r="2.75"/><circle cx="1757.4" cy="475.9" r="2.75"/><circle cx="1757.5" cy="517.9" r="2.75"/><circle cx="1757.9" cy="493.2" r="2.75"/><circle cx="1758.2" cy="489.8" r="2.75"/><circle cx="1758.2" cy="475.9" r="2.75"/><circle cx="1758.5" cy="486.4" r="2.75"/><circle cx="1759.1" cy="469.1" r="2.75"/><circle cx="1759.2" cy="507.5" r="2.75"/><circle cx="1759.6" cy="489.3" r="2.75"/><circle cx="1759.8" cy="487.2" r="2.75"/><circle cx="1759.8" cy="481.7" r="2.75"/><circle cx="1759.8" cy="481.5" r="2.75"/><circle cx="1760.4" cy="485.1" r="2.75"/><circle cx="1760.5" cy="491.5" r="2.75"/><circle cx="1760.6" cy="477.2" r="2.75"/><circle cx="1760.7" cy="471.7" r="2.75"/><circle cx="1761.0" cy="503.3" r="2.75"/><circle cx="1761.7" cy="479.1" r="2.75"/><circle cx="1762.2" cy="481.3" r="2.75"/><circle cx="1762.3" cy="489.9" r="2.75"/><circle cx="1762.6" cy="487.2" r="2.75"/><circle cx="1762.7" cy="481.3" r="2.75"/><circle cx="1763.6" cy="483.2" r="2.75"/><circle cx="1765.7" cy="485.1" r="2.75"/><circle cx="1765.8" cy="492.2" r="2.75"/><circle cx="1765.9" cy="481.0" r="2.75"/><circle cx="1766.2" cy="488.3" r="2.75"/><circle cx="1766.3" cy="482.5" r="2.75"/><circle cx="1766.4" cy="487.7" r="2.75"/><circle cx="1766.5" cy="481.6" r="2.75"/><circle cx="1766.8" cy="477.4" r="2.75"/><circle cx="1768.0" cy="467.8" r="2.75"/><circle cx="1769.7" cy="477.8" r="2.75"/><circle cx="1770.1" cy="493.5" r="2.75"/><circle cx="1770.4" cy="479.2" r="2.75"/><circle cx="1771.1" cy="480.5" r="2.75"/><circle cx="1771.9" cy="487.5" r="2.75"/><circle cx="1772.4" cy="483.9" r="2.75"/><circle cx="1772.4" cy="504.1" r="2.75"/><circle cx="1773.2" cy="478.9" r="2.75"/><circle cx="1773.3" cy="497.3" r="2.75"/><circle cx="1773.4" cy="493.5" r="2.75"/><circle cx="1773.4" cy="478.6" r="2.75"/><circle cx="1773.8" cy="487.4" r="2.75"/><circle cx="1773.9" cy="480.3" r="2.75"/><circle cx="1774.5" cy="484.3" r="2.75"/><circle cx="1776.6" cy="474.4" r="2.75"/><circle cx="1776.8" cy="481.5" r="2.75"/><circle cx="1778.1" cy="484.3" r="2.75"/><circle cx="1778.9" cy="478.2" r="2.75"/><circle cx="1779.5" cy="475.6" r="2.75"/><circle cx="1779.5" cy="499.4" r="2.75"/><circle cx="1780.6" cy="481.7" r="2.75"/><circle cx="1781.1" cy="486.4" r="2.75"/><circle cx="1781.2" cy="490.3" r="2.75"/><circle cx="1781.7" cy="471.7" r="2.75"/><circle cx="1781.7" cy="474.4" r="2.75"/><circle cx="1782.0" cy="489.7" r="2.75"/><circle cx="1783.4" cy="502.7" r="2.75"/><circle cx="1783.6" cy="475.3" r="2.75"/><circle cx="1783.9" cy="486.4" r="2.75"/><circle cx="1785.3" cy="483.9" r="2.75"/><circle cx="1785.9" cy="496.5" r="2.75"/><circle cx="1786.0" cy="482.4" r="2.75"/><circle cx="1786.6" cy="472.6" r="2.75"/><circle cx="1786.6" cy="484.9" r="2.75"/><circle cx="1788.2" cy="482.1" r="2.75"/><circle cx="1788.8" cy="467.7" r="2.75"/><circle cx="1789.2" cy="474.3" r="2.75"/><circle cx="1789.3" cy="470.1" r="2.75"/><circle cx="1789.4" cy="476.2" r="2.75"/><circle cx="1789.5" cy="471.8" r="2.75"/><circle cx="1789.6" cy="493.8" r="2.75"/><circle cx="1789.9" cy="487.3" r="2.75"/><circle cx="1791.3" cy="483.7" r="2.75"/><circle cx="1792.0" cy="463.7" r="2.75"/><circle cx="1793.1" cy="479.3" r="2.75"/><circle cx="1793.8" cy="481.6" r="2.75"/><circle cx="1794.2" cy="486.4" r="2.75"/><circle cx="1794.2" cy="488.4" r="2.75"/><circle cx="1794.6" cy="502.1" r="2.75"/><circle cx="1794.8" cy="463.3" r="2.75"/><circle cx="1796.0" cy="481.1" r="2.75"/><circle cx="1801.1" cy="479.5" r="2.75"/><circle cx="1803.2" cy="490.6" r="2.75"/><circle cx="1804.0" cy="480.2" r="2.75"/><circle cx="1805.5" cy="476.7" r="2.75"/><circle cx="1805.7" cy="480.2" r="2.75"/><circle cx="1806.8" cy="474.7" r="2.75"/><circle cx="1807.6" cy="476.2" r="2.75"/><circle cx="1808.4" cy="476.8" r="2.75"/><circle cx="1809.7" cy="474.1" r="2.75"/><circle cx="1810.3" cy="474.8" r="2.75"/><circle cx="1810.6" cy="476.2" r="2.75"/><circle cx="1811.6" cy="479.8" r="2.75"/><circle cx="1812.9" cy="486.5" r="2.75"/><circle cx="1812.9" cy="474.6" r="2.75"/><circle cx="1814.7" cy="481.7" r="2.75"/><circle cx="1814.7" cy="486.0" r="2.75"/><circle cx="1819.7" cy="472.4" r="2.75"/><circle cx="1820.6" cy="490.5" r="2.75"/><circle cx="1823.3" cy="482.2" r="2.75"/><circle cx="1824.1" cy="471.9" r="2.75"/><circle cx="1826.0" cy="457.0" r="2.75"/><circle cx="1827.6" cy="480.4" r="2.75"/><circle cx="1828.3" cy="477.0" r="2.75"/><circle cx="1828.9" cy="473.2" r="2.75"/><circle cx="1834.1" cy="477.4" r="2.75"/><circle cx="1834.4" cy="482.8" r="2.75"/><circle cx="1834.4" cy="473.5" r="2.75"/><circle cx="1835.9" cy="475.5" r="2.75"/><circle cx="1838.9" cy="492.2" r="2.75"/><circle cx="1840.4" cy="467.8" r="2.75"/><circle cx="1843.2" cy="473.7" r="2.75"/><circle cx="1849.7" cy="479.0" r="2.75"/><circle cx="1851.8" cy="474.0" r="2.75"/><circle cx="1853.4" cy="460.2" r="2.75"/><circle cx="1854.6" cy="480.5" r="2.75"/><circle cx="1854.7" cy="477.0" r="2.75"/><circle cx="1857.0" cy="480.9" r="2.75"/><circle cx="1858.8" cy="471.9" r="2.75"/><circle cx="1859.8" cy="484.2" r="2.75"/><circle cx="1861.3" cy="470.9" r="2.75"/><circle cx="1871.3" cy="467.6" r="2.75"/><circle cx="1878.1" cy="478.8" r="2.75"/><circle cx="1880.8" cy="479.1" r="2.75"/><circle cx="1903.4" cy="481.9" r="2.75"/><circle cx="1940.7" cy="466.7" r="2.75"/></g>
<polygon points="1654.5,490.6 1664.0,490.0 1673.6,489.3 1683.1,488.7 1692.7,488.0 1702.2,487.3 1711.7,486.7 1721.3,485.9 1730.8,485.2 1740.3,484.3 1749.9,483.4 1759.4,482.5 1769.0,481.6 1778.5,480.6 1788.0,479.6 1797.6,478.5 1807.1,477.5 1816.7,476.4 1826.2,475.4 1835.7,474.3 1845.3,473.2 1854.8,472.1 1864.4,471.1 1873.9,470.0 1883.4,468.9 1893.0,467.8 1902.5,466.7 1912.0,465.6 1921.6,464.5 1931.1,463.4 1940.7,462.3 1940.7,471.5 1931.1,472.2 1921.6,472.9 1912.0,473.6 1902.5,474.3 1893.0,474.9 1883.4,475.6 1873.9,476.3 1864.4,477.0 1854.8,477.7 1845.3,478.4 1835.7,479.1 1826.2,479.8 1816.7,480.5 1807.1,481.2 1797.6,482.0 1788.0,482.7 1778.5,483.5 1769.0,484.3 1759.4,485.1 1749.9,485.9 1740.3,486.8 1730.8,487.8 1721.3,488.8 1711.7,489.8 1702.2,490.9 1692.7,492.0 1683.1,493.1 1673.6,494.2 1664.0,495.4 1654.5,496.5" fill="#929292"/>
<path d="M1654.5 493.6L1940.7 466.9" stroke="#F59C1C" stroke-width="2.4"/>
<polygon points="1654.5,524.4 1664.0,521.2 1673.6,518.1 1683.1,514.9 1692.7,511.7 1702.2,508.5 1711.7,505.3 1721.3,501.9 1730.8,498.5 1740.3,495.0 1749.9,491.3 1759.4,487.5 1769.0,483.7 1778.5,479.7 1788.0,475.7 1797.6,471.6 1807.1,467.5 1816.7,463.3 1826.2,459.2 1835.7,455.0 1845.3,450.9 1854.8,446.7 1864.4,442.5 1873.9,438.3 1883.4,434.1 1893.0,429.9 1902.5,425.7 1912.0,421.5 1921.6,417.3 1931.1,413.1 1940.7,408.9 1940.7,432.8 1931.1,435.9 1921.6,439.0 1912.0,442.1 1902.5,445.2 1893.0,448.3 1883.4,451.4 1873.9,454.5 1864.4,457.7 1854.8,460.8 1845.3,463.9 1835.7,467.0 1826.2,470.2 1816.7,473.3 1807.1,476.5 1797.6,479.7 1788.0,482.9 1778.5,486.2 1769.0,489.5 1759.4,492.9 1749.9,496.5 1740.3,500.1 1730.8,503.9 1721.3,507.8 1711.7,511.8 1702.2,515.8 1692.7,519.9 1683.1,524.0 1673.6,528.1 1664.0,532.3 1654.5,536.5" fill="#929292"/>
<path d="M1654.5 530.4L1940.7 420.9" stroke="#6F5FCF" stroke-width="1.5"/>
<circle cx="1653.3" cy="364.7" r="2.75" fill="#FBD393" stroke="#F59C1C" stroke-width="2.2"/>
<circle cx="1653.3" cy="384.8" r="2.75" fill="#C6BFF1" stroke="#6F5FCF" stroke-width="2.2"/>
<text x="1666.1" y="368.4" font-size="16.3" text-anchor="start" fill="#000">Bias gene</text>
<text x="1666.1" y="388.4" font-size="16.3" text-anchor="start" fill="#000">Favorable site</text>
<rect x="1639.2" y="794.8" width="314.4" height="228.9" fill="#fff" stroke="#000" stroke-width="2.1"/>
<text x="1631.9" y="1006.3" font-size="15.8" text-anchor="end" fill="#000">150</text>
<text x="1631.9" y="960.0" font-size="15.8" text-anchor="end" fill="#000">200</text>
<text x="1631.9" y="913.7" font-size="15.8" text-anchor="end" fill="#000">250</text>
<text x="1631.9" y="867.4" font-size="15.8" text-anchor="end" fill="#000">300</text>
<text x="1631.9" y="821.2" font-size="15.8" text-anchor="end" fill="#000">350</text>
<text x="1650.7" y="1042.0" font-size="15.8" text-anchor="middle" fill="#000">6.2</text>
<text x="1730.6" y="1042.0" font-size="15.8" text-anchor="middle" fill="#000">6.4</text>
<text x="1810.6" y="1042.0" font-size="15.8" text-anchor="middle" fill="#000">6.6</text>
<text x="1890.5" y="1042.0" font-size="15.8" text-anchor="middle" fill="#000">6.8</text>
<path d="M1634.9 999.8h4.3M1634.9 953.5h4.3M1634.9 907.2h4.3M1634.9 860.9h4.3M1634.9 814.7h4.3M1650.7 1023.7v4.3M1730.6 1023.7v4.3M1810.6 1023.7v4.3M1890.5 1023.7v4.3" stroke="#000" stroke-width="1.6"/>
<text x="1812.5" y="1069.2" font-size="21.35" text-anchor="middle" fill="#000">Fiber elongation rate</text>
<text transform="translate(1596.9,903.7) rotate(-90)" font-size="21.0" text-anchor="middle">Counts</text>
<g fill="#C6BFF1" stroke="#6F5FCF" stroke-width="2.2"><circle cx="1654.7" cy="970.3" r="2.75"/><circle cx="1675.6" cy="988.7" r="2.75"/><circle cx="1675.9" cy="1011.8" r="2.75"/><circle cx="1677.6" cy="1000.2" r="2.75"/><circle cx="1677.7" cy="945.3" r="2.75"/><circle cx="1677.9" cy="953.5" r="2.75"/><circle cx="1689.5" cy="986.0" r="2.75"/><circle cx="1689.9" cy="995.4" r="2.75"/><circle cx="1699.1" cy="994.7" r="2.75"/><circle cx="1699.8" cy="939.7" r="2.75"/><circle cx="1700.4" cy="900.5" r="2.75"/><circle cx="1709.8" cy="922.6" r="2.75"/><circle cx="1710.6" cy="948.0" r="2.75"/><circle cx="1711.1" cy="940.0" r="2.75"/><circle cx="1712.0" cy="988.9" r="2.75"/><circle cx="1721.0" cy="973.6" r="2.75"/><circle cx="1721.5" cy="994.4" r="2.75"/><circle cx="1721.9" cy="912.9" r="2.75"/><circle cx="1722.0" cy="968.1" r="2.75"/><circle cx="1722.7" cy="979.5" r="2.75"/><circle cx="1723.7" cy="980.7" r="2.75"/><circle cx="1723.8" cy="955.0" r="2.75"/><circle cx="1724.7" cy="973.2" r="2.75"/><circle cx="1724.8" cy="955.5" r="2.75"/><circle cx="1733.0" cy="946.5" r="2.75"/><circle cx="1733.8" cy="909.6" r="2.75"/><circle cx="1733.9" cy="989.7" r="2.75"/><circle cx="1734.4" cy="941.6" r="2.75"/><circle cx="1734.6" cy="972.4" r="2.75"/><circle cx="1735.7" cy="963.5" r="2.75"/><circle cx="1742.6" cy="896.0" r="2.75"/><circle cx="1743.8" cy="926.3" r="2.75"/><circle cx="1744.1" cy="936.9" r="2.75"/><circle cx="1745.2" cy="929.8" r="2.75"/><circle cx="1745.2" cy="945.6" r="2.75"/><circle cx="1745.4" cy="888.4" r="2.75"/><circle cx="1745.6" cy="959.9" r="2.75"/><circle cx="1745.7" cy="929.5" r="2.75"/><circle cx="1746.1" cy="954.1" r="2.75"/><circle cx="1746.4" cy="944.0" r="2.75"/><circle cx="1746.5" cy="917.8" r="2.75"/><circle cx="1746.6" cy="963.5" r="2.75"/><circle cx="1746.9" cy="940.8" r="2.75"/><circle cx="1746.9" cy="938.3" r="2.75"/><circle cx="1755.8" cy="958.0" r="2.75"/><circle cx="1756.7" cy="950.8" r="2.75"/><circle cx="1756.9" cy="908.1" r="2.75"/><circle cx="1756.9" cy="962.0" r="2.75"/><circle cx="1757.0" cy="911.5" r="2.75"/><circle cx="1757.0" cy="916.6" r="2.75"/><circle cx="1757.4" cy="1009.7" r="2.75"/><circle cx="1757.4" cy="958.7" r="2.75"/><circle cx="1757.5" cy="971.8" r="2.75"/><circle cx="1757.6" cy="912.5" r="2.75"/><circle cx="1757.7" cy="909.1" r="2.75"/><circle cx="1758.2" cy="975.1" r="2.75"/><circle cx="1767.8" cy="954.0" r="2.75"/><circle cx="1768.0" cy="952.2" r="2.75"/><circle cx="1768.2" cy="943.9" r="2.75"/><circle cx="1768.3" cy="910.1" r="2.75"/><circle cx="1768.4" cy="882.2" r="2.75"/><circle cx="1768.5" cy="913.9" r="2.75"/><circle cx="1768.7" cy="898.3" r="2.75"/><circle cx="1768.8" cy="903.1" r="2.75"/><circle cx="1768.8" cy="934.3" r="2.75"/><circle cx="1769.3" cy="945.3" r="2.75"/><circle cx="1769.7" cy="954.6" r="2.75"/><circle cx="1770.4" cy="905.9" r="2.75"/><circle cx="1778.2" cy="899.4" r="2.75"/><circle cx="1778.3" cy="895.4" r="2.75"/><circle cx="1778.9" cy="936.8" r="2.75"/><circle cx="1778.9" cy="938.8" r="2.75"/><circle cx="1779.1" cy="918.3" r="2.75"/><circle cx="1779.3" cy="887.6" r="2.75"/><circle cx="1779.6" cy="915.2" r="2.75"/><circle cx="1779.8" cy="919.1" r="2.75"/><circle cx="1780.1" cy="969.9" r="2.75"/><circle cx="1780.4" cy="912.0" r="2.75"/><circle cx="1780.5" cy="909.1" r="2.75"/><circle cx="1780.5" cy="955.2" r="2.75"/><circle cx="1780.5" cy="871.2" r="2.75"/><circle cx="1781.5" cy="953.7" r="2.75"/><circle cx="1789.1" cy="892.2" r="2.75"/><circle cx="1789.7" cy="927.1" r="2.75"/><circle cx="1789.7" cy="915.8" r="2.75"/><circle cx="1789.9" cy="945.0" r="2.75"/><circle cx="1790.4" cy="937.8" r="2.75"/><circle cx="1790.4" cy="910.5" r="2.75"/><circle cx="1790.7" cy="926.2" r="2.75"/><circle cx="1791.0" cy="930.6" r="2.75"/><circle cx="1791.1" cy="892.4" r="2.75"/><circle cx="1791.1" cy="856.5" r="2.75"/><circle cx="1791.2" cy="914.8" r="2.75"/><circle cx="1791.3" cy="912.7" r="2.75"/><circle cx="1791.6" cy="866.3" r="2.75"/><circle cx="1791.6" cy="924.8" r="2.75"/><circle cx="1791.7" cy="907.6" r="2.75"/><circle cx="1791.7" cy="906.4" r="2.75"/><circle cx="1791.8" cy="962.9" r="2.75"/><circle cx="1791.9" cy="979.4" r="2.75"/><circle cx="1792.4" cy="946.2" r="2.75"/><circle cx="1792.9" cy="892.0" r="2.75"/><circle cx="1793.0" cy="912.6" r="2.75"/><circle cx="1800.8" cy="931.2" r="2.75"/><circle cx="1801.0" cy="967.3" r="2.75"/><circle cx="1801.1" cy="873.1" r="2.75"/><circle cx="1801.6" cy="923.5" r="2.75"/><circle cx="1801.8" cy="964.0" r="2.75"/><circle cx="1802.5" cy="892.7" r="2.75"/><circle cx="1802.6" cy="906.3" r="2.75"/><circle cx="1802.6" cy="901.9" r="2.75"/><circle cx="1802.7" cy="888.6" r="2.75"/><circle cx="1802.8" cy="872.6" r="2.75"/><circle cx="1802.8" cy="896.2" r="2.75"/><circle cx="1802.9" cy="918.9" r="2.75"/><circle cx="1803.1" cy="979.0" r="2.75"/><circle cx="1803.2" cy="904.2" r="2.75"/><circle cx="1803.2" cy="918.0" r="2.75"/><circle cx="1803.2" cy="872.5" r="2.75"/><circle cx="1803.3" cy="873.8" r="2.75"/><circle cx="1803.4" cy="898.5" r="2.75"/><circle cx="1803.6" cy="870.8" r="2.75"/><circle cx="1803.8" cy="915.4" r="2.75"/><circle cx="1803.8" cy="914.4" r="2.75"/><circle cx="1804.3" cy="939.0" r="2.75"/><circle cx="1804.4" cy="922.4" r="2.75"/><circle cx="1804.5" cy="906.1" r="2.75"/><circle cx="1804.7" cy="879.8" r="2.75"/><circle cx="1812.1" cy="931.3" r="2.75"/><circle cx="1812.3" cy="883.7" r="2.75"/><circle cx="1812.4" cy="835.9" r="2.75"/><circle cx="1813.0" cy="949.8" r="2.75"/><circle cx="1813.0" cy="916.1" r="2.75"/><circle cx="1813.0" cy="907.4" r="2.75"/><circle cx="1813.1" cy="876.9" r="2.75"/><circle cx="1813.1" cy="846.4" r="2.75"/><circle cx="1813.6" cy="869.6" r="2.75"/><circle cx="1813.6" cy="908.9" r="2.75"/><circle cx="1813.8" cy="934.0" r="2.75"/><circle cx="1813.9" cy="909.4" r="2.75"/><circle cx="1813.9" cy="908.8" r="2.75"/><circle cx="1813.9" cy="900.1" r="2.75"/><circle cx="1814.0" cy="947.0" r="2.75"/><circle cx="1814.3" cy="863.9" r="2.75"/><circle cx="1814.3" cy="870.5" r="2.75"/><circle cx="1814.4" cy="886.3" r="2.75"/><circle cx="1814.4" cy="900.7" r="2.75"/><circle cx="1814.5" cy="969.8" r="2.75"/><circle cx="1814.5" cy="905.2" r="2.75"/><circle cx="1814.6" cy="906.7" r="2.75"/><circle cx="1814.7" cy="913.1" r="2.75"/><circle cx="1814.8" cy="882.1" r="2.75"/><circle cx="1814.9" cy="921.8" r="2.75"/><circle cx="1815.3" cy="828.0" r="2.75"/><circle cx="1815.3" cy="871.9" r="2.75"/><circle cx="1815.8" cy="935.0" r="2.75"/><circle cx="1816.8" cy="983.3" r="2.75"/><circle cx="1823.4" cy="870.9" r="2.75"/><circle cx="1824.3" cy="894.3" r="2.75"/><circle cx="1824.6" cy="899.4" r="2.75"/><circle cx="1824.6" cy="932.2" r="2.75"/><circle cx="1824.7" cy="946.6" r="2.75"/><circle cx="1824.8" cy="959.7" r="2.75"/><circle cx="1824.9" cy="822.1" r="2.75"/><circle cx="1825.2" cy="851.8" r="2.75"/><circle cx="1825.2" cy="918.7" r="2.75"/><circle cx="1825.3" cy="843.3" r="2.75"/><circle cx="1825.3" cy="959.1" r="2.75"/><circle cx="1825.3" cy="879.8" r="2.75"/><circle cx="1825.4" cy="879.6" r="2.75"/><circle cx="1825.8" cy="928.0" r="2.75"/><circle cx="1825.9" cy="915.4" r="2.75"/><circle cx="1826.4" cy="933.4" r="2.75"/><circle cx="1826.4" cy="899.7" r="2.75"/><circle cx="1826.4" cy="860.1" r="2.75"/><circle cx="1826.5" cy="865.2" r="2.75"/><circle cx="1826.5" cy="888.0" r="2.75"/><circle cx="1826.7" cy="866.1" r="2.75"/><circle cx="1826.9" cy="956.4" r="2.75"/><circle cx="1827.1" cy="837.7" r="2.75"/><circle cx="1827.2" cy="902.2" r="2.75"/><circle cx="1827.4" cy="941.5" r="2.75"/><circle cx="1827.6" cy="912.3" r="2.75"/><circle cx="1828.9" cy="919.9" r="2.75"/><circle cx="1829.1" cy="896.7" r="2.75"/><circle cx="1832.8" cy="887.9" r="2.75"/><circle cx="1834.4" cy="969.6" r="2.75"/><circle cx="1835.5" cy="856.9" r="2.75"/><circle cx="1835.5" cy="842.3" r="2.75"/><circle cx="1835.5" cy="928.5" r="2.75"/><circle cx="1835.7" cy="850.0" r="2.75"/><circle cx="1835.8" cy="856.7" r="2.75"/><circle cx="1836.0" cy="864.3" r="2.75"/><circle cx="1836.1" cy="844.9" r="2.75"/><circle cx="1836.6" cy="939.0" r="2.75"/><circle cx="1836.6" cy="872.9" r="2.75"/><circle cx="1836.6" cy="927.2" r="2.75"/><circle cx="1836.7" cy="847.5" r="2.75"/><circle cx="1836.7" cy="925.9" r="2.75"/><circle cx="1836.8" cy="933.8" r="2.75"/><circle cx="1836.8" cy="860.4" r="2.75"/><circle cx="1836.9" cy="876.0" r="2.75"/><circle cx="1836.9" cy="894.6" r="2.75"/><circle cx="1836.9" cy="891.2" r="2.75"/><circle cx="1837.0" cy="876.2" r="2.75"/><circle cx="1837.1" cy="841.3" r="2.75"/><circle cx="1837.2" cy="917.6" r="2.75"/><circle cx="1837.4" cy="912.8" r="2.75"/><circle cx="1837.4" cy="913.3" r="2.75"/><circle cx="1837.6" cy="897.4" r="2.75"/><circle cx="1837.7" cy="895.4" r="2.75"/><circle cx="1837.8" cy="935.3" r="2.75"/><circle cx="1837.9" cy="871.8" r="2.75"/><circle cx="1837.9" cy="934.6" r="2.75"/><circle cx="1838.0" cy="929.8" r="2.75"/><circle cx="1838.1" cy="871.5" r="2.75"/><circle cx="1838.2" cy="902.4" r="2.75"/><circle cx="1838.2" cy="848.3" r="2.75"/><circle cx="1838.3" cy="875.0" r="2.75"/><circle cx="1838.3" cy="860.9" r="2.75"/><circle cx="1838.5" cy="845.0" r="2.75"/><circle cx="1838.9" cy="903.4" r="2.75"/><circle cx="1845.1" cy="846.9" r="2.75"/><circle cx="1846.1" cy="892.2" r="2.75"/><circle cx="1846.3" cy="883.3" r="2.75"/><circle cx="1846.3" cy="881.9" r="2.75"/><circle cx="1846.4" cy="932.4" r="2.75"/><circle cx="1846.5" cy="909.5" r="2.75"/><circle cx="1846.7" cy="895.2" r="2.75"/><circle cx="1846.7" cy="882.6" r="2.75"/><circle cx="1847.0" cy="884.5" r="2.75"/><circle cx="1847.1" cy="916.8" r="2.75"/><circle cx="1847.2" cy="926.3" r="2.75"/><circle cx="1847.5" cy="876.1" r="2.75"/><circle cx="1847.6" cy="975.4" r="2.75"/><circle cx="1847.8" cy="926.7" r="2.75"/><circle cx="1847.9" cy="892.8" r="2.75"/><circle cx="1848.0" cy="883.9" r="2.75"/><circle cx="1848.0" cy="915.6" r="2.75"/><circle cx="1848.1" cy="945.5" r="2.75"/><circle cx="1848.3" cy="872.4" r="2.75"/><circle cx="1848.5" cy="863.5" r="2.75"/><circle cx="1848.6" cy="902.1" r="2.75"/><circle cx="1848.6" cy="901.0" r="2.75"/><circle cx="1848.7" cy="962.2" r="2.75"/><circle cx="1849.1" cy="860.6" r="2.75"/><circle cx="1849.2" cy="853.1" r="2.75"/><circle cx="1849.6" cy="866.1" r="2.75"/><circle cx="1849.9" cy="923.5" r="2.75"/><circle cx="1850.5" cy="892.7" r="2.75"/><circle cx="1850.8" cy="894.0" r="2.75"/><circle cx="1856.4" cy="941.6" r="2.75"/><circle cx="1857.7" cy="914.0" r="2.75"/><circle cx="1857.8" cy="933.4" r="2.75"/><circle cx="1858.0" cy="880.7" r="2.75"/><circle cx="1858.5" cy="909.5" r="2.75"/><circle cx="1858.7" cy="891.2" r="2.75"/><circle cx="1858.8" cy="840.4" r="2.75"/><circle cx="1858.9" cy="936.2" r="2.75"/><circle cx="1859.0" cy="888.1" r="2.75"/><circle cx="1859.0" cy="868.1" r="2.75"/><circle cx="1859.0" cy="879.8" r="2.75"/><circle cx="1859.1" cy="871.1" r="2.75"/><circle cx="1859.2" cy="907.1" r="2.75"/><circle cx="1859.2" cy="935.1" r="2.75"/><circle cx="1859.3" cy="924.7" r="2.75"/><circle cx="1859.5" cy="935.8" r="2.75"/><circle cx="1859.7" cy="859.9" r="2.75"/><circle cx="1859.7" cy="869.6" r="2.75"/><circle cx="1859.7" cy="832.7" r="2.75"/><circle cx="1859.8" cy="880.0" r="2.75"/><circle cx="1859.9" cy="901.6" r="2.75"/><circle cx="1860.2" cy="876.6" r="2.75"/><circle cx="1860.2" cy="937.4" r="2.75"/><circle cx="1860.3" cy="864.8" r="2.75"/><circle cx="1860.4" cy="917.8" r="2.75"/><circle cx="1860.6" cy="894.7" r="2.75"/><circle cx="1860.7" cy="809.0" r="2.75"/><circle cx="1861.0" cy="921.4" r="2.75"/><circle cx="1861.0" cy="878.8" r="2.75"/><circle cx="1861.2" cy="873.2" r="2.75"/><circle cx="1861.4" cy="875.8" r="2.75"/><circle cx="1868.9" cy="878.2" r="2.75"/><circle cx="1869.5" cy="895.5" r="2.75"/><circle cx="1869.7" cy="815.2" r="2.75"/><circle cx="1869.9" cy="940.8" r="2.75"/><circle cx="1869.9" cy="910.0" r="2.75"/><circle cx="1870.3" cy="830.8" r="2.75"/><circle cx="1870.5" cy="860.1" r="2.75"/><circle cx="1870.5" cy="901.4" r="2.75"/><circle cx="1870.6" cy="905.6" r="2.75"/><circle cx="1870.7" cy="885.1" r="2.75"/><circle cx="1870.7" cy="869.9" r="2.75"/><circle cx="1870.7" cy="861.7" r="2.75"/><circle cx="1870.8" cy="909.7" r="2.75"/><circle cx="1870.8" cy="869.7" r="2.75"/><circle cx="1870.8" cy="896.9" r="2.75"/><circle cx="1871.0" cy="830.0" r="2.75"/><circle cx="1871.1" cy="867.8" r="2.75"/><circle cx="1871.1" cy="837.4" r="2.75"/><circle cx="1871.1" cy="872.0" r="2.75"/><circle cx="1871.4" cy="812.7" r="2.75"/><circle cx="1871.7" cy="863.8" r="2.75"/><circle cx="1871.7" cy="909.5" r="2.75"/><circle cx="1872.1" cy="908.6" r="2.75"/><circle cx="1872.2" cy="889.7" r="2.75"/><circle cx="1872.2" cy="864.2" r="2.75"/><circle cx="1872.3" cy="892.1" r="2.75"/><circle cx="1872.4" cy="908.3" r="2.75"/><circle cx="1879.9" cy="872.7" r="2.75"/><circle cx="1880.6" cy="895.9" r="2.75"/><circle cx="1880.9" cy="840.7" r="2.75"/><circle cx="1881.2" cy="888.3" r="2.75"/><circle cx="1881.5" cy="858.6" r="2.75"/><circle cx="1881.8" cy="874.2" r="2.75"/><circle cx="1882.0" cy="893.8" r="2.75"/><circle cx="1882.3" cy="827.3" r="2.75"/><circle cx="1882.3" cy="847.7" r="2.75"/><circle cx="1882.6" cy="836.6" r="2.75"/><circle cx="1883.6" cy="881.0" r="2.75"/><circle cx="1883.8" cy="982.1" r="2.75"/><circle cx="1884.4" cy="909.0" r="2.75"/><circle cx="1884.9" cy="885.9" r="2.75"/><circle cx="1885.4" cy="875.1" r="2.75"/><circle cx="1891.7" cy="864.2" r="2.75"/><circle cx="1892.6" cy="849.3" r="2.75"/><circle cx="1892.8" cy="909.1" r="2.75"/><circle cx="1893.1" cy="858.0" r="2.75"/><circle cx="1894.2" cy="902.9" r="2.75"/><circle cx="1894.2" cy="886.1" r="2.75"/><circle cx="1894.9" cy="846.2" r="2.75"/><circle cx="1895.6" cy="805.7" r="2.75"/><circle cx="1896.7" cy="874.6" r="2.75"/><circle cx="1902.9" cy="871.9" r="2.75"/><circle cx="1904.3" cy="814.4" r="2.75"/><circle cx="1906.4" cy="830.0" r="2.75"/><circle cx="1907.1" cy="811.4" r="2.75"/><circle cx="1916.0" cy="846.1" r="2.75"/><circle cx="1916.5" cy="856.4" r="2.75"/><circle cx="1916.8" cy="879.4" r="2.75"/><circle cx="1917.7" cy="843.1" r="2.75"/><circle cx="1927.5" cy="886.0" r="2.75"/><circle cx="1928.1" cy="862.0" r="2.75"/><circle cx="1938.9" cy="825.9" r="2.75"/><circle cx="1939.3" cy="856.0" r="2.75"/><circle cx="1939.3" cy="829.2" r="2.75"/></g>
<g fill="#FBD393" stroke="#F59C1C" stroke-width="2.2"><circle cx="1654.7" cy="923.1" r="2.75"/><circle cx="1675.6" cy="911.6" r="2.75"/><circle cx="1675.9" cy="938.9" r="2.75"/><circle cx="1677.6" cy="915.8" r="2.75"/><circle cx="1677.7" cy="922.2" r="2.75"/><circle cx="1677.9" cy="914.2" r="2.75"/><circle cx="1689.5" cy="934.1" r="2.75"/><circle cx="1689.9" cy="923.4" r="2.75"/><circle cx="1699.1" cy="930.5" r="2.75"/><circle cx="1699.8" cy="925.7" r="2.75"/><circle cx="1700.4" cy="914.4" r="2.75"/><circle cx="1709.8" cy="923.6" r="2.75"/><circle cx="1710.6" cy="927.7" r="2.75"/><circle cx="1711.1" cy="909.9" r="2.75"/><circle cx="1712.0" cy="921.8" r="2.75"/><circle cx="1721.0" cy="944.5" r="2.75"/><circle cx="1721.5" cy="933.7" r="2.75"/><circle cx="1721.9" cy="919.1" r="2.75"/><circle cx="1722.0" cy="918.9" r="2.75"/><circle cx="1722.7" cy="921.2" r="2.75"/><circle cx="1723.7" cy="920.9" r="2.75"/><circle cx="1723.8" cy="932.6" r="2.75"/><circle cx="1724.7" cy="924.7" r="2.75"/><circle cx="1724.8" cy="935.7" r="2.75"/><circle cx="1733.0" cy="933.2" r="2.75"/><circle cx="1733.8" cy="934.1" r="2.75"/><circle cx="1733.9" cy="933.4" r="2.75"/><circle cx="1734.4" cy="928.5" r="2.75"/><circle cx="1734.6" cy="927.4" r="2.75"/><circle cx="1735.7" cy="933.3" r="2.75"/><circle cx="1742.6" cy="915.3" r="2.75"/><circle cx="1743.8" cy="930.9" r="2.75"/><circle cx="1744.1" cy="911.0" r="2.75"/><circle cx="1745.2" cy="916.5" r="2.75"/><circle cx="1745.2" cy="938.8" r="2.75"/><circle cx="1745.4" cy="917.7" r="2.75"/><circle cx="1745.6" cy="940.7" r="2.75"/><circle cx="1745.7" cy="912.2" r="2.75"/><circle cx="1746.1" cy="923.5" r="2.75"/><circle cx="1746.4" cy="936.8" r="2.75"/><circle cx="1746.5" cy="948.9" r="2.75"/><circle cx="1746.6" cy="931.0" r="2.75"/><circle cx="1746.9" cy="940.6" r="2.75"/><circle cx="1746.9" cy="916.0" r="2.75"/><circle cx="1755.8" cy="959.4" r="2.75"/><circle cx="1756.7" cy="930.6" r="2.75"/><circle cx="1756.9" cy="923.5" r="2.75"/><circle cx="1756.9" cy="928.3" r="2.75"/><circle cx="1757.0" cy="925.8" r="2.75"/><circle cx="1757.0" cy="930.9" r="2.75"/><circle cx="1757.4" cy="921.3" r="2.75"/><circle cx="1757.4" cy="937.9" r="2.75"/><circle cx="1757.5" cy="922.8" r="2.75"/><circle cx="1757.6" cy="940.7" r="2.75"/><circle cx="1757.7" cy="926.8" r="2.75"/><circle cx="1758.2" cy="954.4" r="2.75"/><circle cx="1767.8" cy="931.9" r="2.75"/><circle cx="1768.0" cy="907.0" r="2.75"/><circle cx="1768.2" cy="925.8" r="2.75"/><circle cx="1768.3" cy="948.1" r="2.75"/><circle cx="1768.4" cy="938.4" r="2.75"/><circle cx="1768.5" cy="939.8" r="2.75"/><circle cx="1768.7" cy="917.9" r="2.75"/><circle cx="1768.8" cy="938.8" r="2.75"/><circle cx="1768.8" cy="928.0" r="2.75"/><circle cx="1769.3" cy="924.4" r="2.75"/><circle cx="1769.7" cy="944.7" r="2.75"/><circle cx="1770.4" cy="929.2" r="2.75"/><circle cx="1778.2" cy="942.8" r="2.75"/><circle cx="1778.3" cy="924.0" r="2.75"/><circle cx="1778.9" cy="923.1" r="2.75"/><circle cx="1778.9" cy="918.1" r="2.75"/><circle cx="1779.1" cy="941.6" r="2.75"/><circle cx="1779.3" cy="915.7" r="2.75"/><circle cx="1779.6" cy="921.8" r="2.75"/><circle cx="1779.8" cy="949.6" r="2.75"/><circle cx="1780.1" cy="909.4" r="2.75"/><circle cx="1780.4" cy="898.3" r="2.75"/><circle cx="1780.5" cy="942.1" r="2.75"/><circle cx="1780.5" cy="928.4" r="2.75"/><circle cx="1780.5" cy="945.1" r="2.75"/><circle cx="1781.5" cy="920.9" r="2.75"/><circle cx="1789.1" cy="930.9" r="2.75"/><circle cx="1789.7" cy="926.6" r="2.75"/><circle cx="1789.7" cy="941.1" r="2.75"/><circle cx="1789.9" cy="933.1" r="2.75"/><circle cx="1790.4" cy="942.3" r="2.75"/><circle cx="1790.4" cy="929.1" r="2.75"/><circle cx="1790.7" cy="926.3" r="2.75"/><circle cx="1791.0" cy="932.3" r="2.75"/><circle cx="1791.1" cy="921.5" r="2.75"/><circle cx="1791.1" cy="918.3" r="2.75"/><circle cx="1791.2" cy="922.0" r="2.75"/><circle cx="1791.3" cy="921.4" r="2.75"/><circle cx="1791.6" cy="945.6" r="2.75"/><circle cx="1791.6" cy="933.5" r="2.75"/><circle cx="1791.7" cy="950.9" r="2.75"/><circle cx="1791.7" cy="933.3" r="2.75"/><circle cx="1791.8" cy="937.8" r="2.75"/><circle cx="1791.9" cy="924.8" r="2.75"/><circle cx="1792.4" cy="937.6" r="2.75"/><circle cx="1792.9" cy="939.7" r="2.75"/><circle cx="1793.0" cy="934.2" r="2.75"/><circle cx="1800.8" cy="935.6" r="2.75"/><circle cx="1801.0" cy="929.1" r="2.75"/><circle cx="1801.1" cy="943.1" r="2.75"/><circle cx="1801.6" cy="949.4" r="2.75"/><circle cx="1801.8" cy="950.4" r="2.75"/><circle cx="1802.5" cy="940.0" r="2.75"/><circle cx="1802.6" cy="947.2" r="2.75"/><circle cx="1802.6" cy="939.2" r="2.75"/><circle cx="1802.7" cy="928.0" r="2.75"/><circle cx="1802.8" cy="925.6" r="2.75"/><circle cx="1802.8" cy="940.2" r="2.75"/><circle cx="1802.9" cy="922.2" r="2.75"/><circle cx="1803.1" cy="941.6" r="2.75"/><circle cx="1803.2" cy="931.6" r="2.75"/><circle cx="1803.2" cy="926.9" r="2.75"/><circle cx="1803.2" cy="924.8" r="2.75"/><circle cx="1803.3" cy="946.6" r="2.75"/><circle cx="1803.4" cy="946.6" r="2.75"/><circle cx="1803.6" cy="935.4" r="2.75"/><circle cx="1803.8" cy="953.0" r="2.75"/><circle cx="1803.8" cy="927.5" r="2.75"/><circle cx="1804.3" cy="930.7" r="2.75"/><circle cx="1804.4" cy="929.6" r="2.75"/><circle cx="1804.5" cy="948.7" r="2.75"/><circle cx="1804.7" cy="932.9" r="2.75"/><circle cx="1812.1" cy="931.3" r="2.75"/><circle cx="1812.3" cy="925.3" r="2.75"/><circle cx="1812.4" cy="941.0" r="2.75"/><circle cx="1813.0" cy="928.9" r="2.75"/><circle cx="1813.0" cy="916.0" r="2.75"/><circle cx="1813.0" cy="940.1" r="2.75"/><circle cx="1813.1" cy="939.9" r="2.75"/><circle cx="1813.1" cy="952.0" r="2.75"/><circle cx="1813.6" cy="950.9" r="2.75"/><circle cx="1813.6" cy="939.5" r="2.75"/><circle cx="1813.8" cy="919.5" r="2.75"/><circle cx="1813.9" cy="945.2" r="2.75"/><circle cx="1813.9" cy="937.8" r="2.75"/><circle cx="1813.9" cy="923.8" r="2.75"/><circle cx="1814.0" cy="930.2" r="2.75"/><circle cx="1814.3" cy="933.6" r="2.75"/><circle cx="1814.3" cy="939.3" r="2.75"/><circle cx="1814.4" cy="937.1" r="2.75"/><circle cx="1814.4" cy="935.8" r="2.75"/><circle cx="1814.5" cy="929.0" r="2.75"/><circle cx="1814.5" cy="935.1" r="2.75"/><circle cx="1814.6" cy="926.5" r="2.75"/><circle cx="1814.7" cy="954.7" r="2.75"/><circle cx="1814.8" cy="933.5" r="2.75"/><circle cx="1814.9" cy="941.3" r="2.75"/><circle cx="1815.3" cy="935.9" r="2.75"/><circle cx="1815.3" cy="940.3" r="2.75"/><circle cx="1815.8" cy="929.6" r="2.75"/><circle cx="1816.8" cy="937.4" r="2.75"/><circle cx="1823.4" cy="930.7" r="2.75"/><circle cx="1824.3" cy="945.2" r="2.75"/><circle cx="1824.6" cy="935.3" r="2.75"/><circle cx="1824.6" cy="924.8" r="2.75"/><circle cx="1824.7" cy="926.0" r="2.75"/><circle cx="1824.8" cy="940.8" r="2.75"/><circle cx="1824.9" cy="935.8" r="2.75"/><circle cx="1825.2" cy="941.0" r="2.75"/><circle cx="1825.2" cy="938.4" r="2.75"/><circle cx="1825.3" cy="937.1" r="2.75"/><circle cx="1825.3" cy="925.1" r="2.75"/><circle cx="1825.3" cy="931.4" r="2.75"/><circle cx="1825.4" cy="922.6" r="2.75"/><circle cx="1825.8" cy="921.9" r="2.75"/><circle cx="1825.9" cy="950.0" r="2.75"/><circle cx="1826.4" cy="934.3" r="2.75"/><circle cx="1826.4" cy="941.9" r="2.75"/><circle cx="1826.4" cy="953.6" r="2.75"/><circle cx="1826.5" cy="948.2" r="2.75"/><circle cx="1826.5" cy="942.4" r="2.75"/><circle cx="1826.7" cy="920.6" r="2.75"/><circle cx="1826.9" cy="948.2" r="2.75"/><circle cx="1827.1" cy="939.3" r="2.75"/><circle cx="1827.2" cy="937.8" r="2.75"/><circle cx="1827.4" cy="945.0" r="2.75"/><circle cx="1827.6" cy="935.8" r="2.75"/><circle cx="1828.9" cy="938.6" r="2.75"/><circle cx="1829.1" cy="954.1" r="2.75"/><circle cx="1832.8" cy="943.5" r="2.75"/><circle cx="1834.4" cy="904.7" r="2.75"/><circle cx="1835.5" cy="932.2" r="2.75"/><circle cx="1835.5" cy="939.5" r="2.75"/><circle cx="1835.5" cy="931.8" r="2.75"/><circle cx="1835.7" cy="943.1" r="2.75"/><circle cx="1835.8" cy="937.6" r="2.75"/><circle cx="1836.0" cy="929.8" r="2.75"/><circle cx="1836.1" cy="954.7" r="2.75"/><circle cx="1836.6" cy="946.0" r="2.75"/><circle cx="1836.6" cy="942.6" r="2.75"/><circle cx="1836.6" cy="941.5" r="2.75"/><circle cx="1836.7" cy="943.8" r="2.75"/><circle cx="1836.7" cy="935.9" r="2.75"/><circle cx="1836.8" cy="928.5" r="2.75"/><circle cx="1836.8" cy="935.2" r="2.75"/><circle cx="1836.9" cy="928.4" r="2.75"/><circle cx="1836.9" cy="928.2" r="2.75"/><circle cx="1836.9" cy="944.6" r="2.75"/><circle cx="1837.0" cy="926.5" r="2.75"/><circle cx="1837.1" cy="942.4" r="2.75"/><circle cx="1837.2" cy="932.1" r="2.75"/><circle cx="1837.4" cy="942.2" r="2.75"/><circle cx="1837.4" cy="940.6" r="2.75"/><circle cx="1837.6" cy="921.8" r="2.75"/><circle cx="1837.7" cy="940.5" r="2.75"/><circle cx="1837.8" cy="954.3" r="2.75"/><circle cx="1837.9" cy="937.6" r="2.75"/><circle cx="1837.9" cy="935.8" r="2.75"/><circle cx="1838.0" cy="943.8" r="2.75"/><circle cx="1838.1" cy="938.1" r="2.75"/><circle cx="1838.2" cy="928.6" r="2.75"/><circle cx="1838.2" cy="944.0" r="2.75"/><circle cx="1838.3" cy="940.7" r="2.75"/><circle cx="1838.3" cy="945.9" r="2.75"/><circle cx="1838.5" cy="935.5" r="2.75"/><circle cx="1838.9" cy="940.1" r="2.75"/><circle cx="1845.1" cy="948.9" r="2.75"/><circle cx="1846.1" cy="941.3" r="2.75"/><circle cx="1846.3" cy="921.6" r="2.75"/><circle cx="1846.3" cy="956.8" r="2.75"/><circle cx="1846.4" cy="953.6" r="2.75"/><circle cx="1846.5" cy="936.5" r="2.75"/><circle cx="1846.7" cy="953.7" r="2.75"/><circle cx="1846.7" cy="920.4" r="2.75"/><circle cx="1847.0" cy="954.7" r="2.75"/><circle cx="1847.1" cy="952.9" r="2.75"/><circle cx="1847.2" cy="945.0" r="2.75"/><circle cx="1847.5" cy="929.2" r="2.75"/><circle cx="1847.6" cy="932.0" r="2.75"/><circle cx="1847.8" cy="934.3" r="2.75"/><circle cx="1847.9" cy="937.0" r="2.75"/><circle cx="1848.0" cy="927.1" r="2.75"/><circle cx="1848.0" cy="958.1" r="2.75"/><circle cx="1848.1" cy="937.3" r="2.75"/><circle cx="1848.3" cy="925.8" r="2.75"/><circle cx="1848.5" cy="950.7" r="2.75"/><circle cx="1848.6" cy="936.9" r="2.75"/><circle cx="1848.6" cy="927.9" r="2.75"/><circle cx="1848.7" cy="927.7" r="2.75"/><circle cx="1849.1" cy="941.5" r="2.75"/><circle cx="1849.2" cy="921.6" r="2.75"/><circle cx="1849.6" cy="935.2" r="2.75"/><circle cx="1849.9" cy="929.6" r="2.75"/><circle cx="1850.5" cy="951.0" r="2.75"/><circle cx="1850.8" cy="947.9" r="2.75"/><circle cx="1856.4" cy="948.6" r="2.75"/><circle cx="1857.7" cy="923.7" r="2.75"/><circle cx="1857.8" cy="964.4" r="2.75"/><circle cx="1858.0" cy="959.5" r="2.75"/><circle cx="1858.5" cy="933.4" r="2.75"/><circle cx="1858.7" cy="939.9" r="2.75"/><circle cx="1858.8" cy="970.8" r="2.75"/><circle cx="1858.9" cy="928.1" r="2.75"/><circle cx="1859.0" cy="944.4" r="2.75"/><circle cx="1859.0" cy="929.4" r="2.75"/><circle cx="1859.0" cy="960.4" r="2.75"/><circle cx="1859.1" cy="946.7" r="2.75"/><circle cx="1859.2" cy="930.9" r="2.75"/><circle cx="1859.2" cy="933.9" r="2.75"/><circle cx="1859.3" cy="950.5" r="2.75"/><circle cx="1859.5" cy="944.3" r="2.75"/><circle cx="1859.7" cy="956.1" r="2.75"/><circle cx="1859.7" cy="927.9" r="2.75"/><circle cx="1859.7" cy="945.7" r="2.75"/><circle cx="1859.8" cy="928.9" r="2.75"/><circle cx="1859.9" cy="933.6" r="2.75"/><circle cx="1860.2" cy="950.3" r="2.75"/><circle cx="1860.2" cy="943.0" r="2.75"/><circle cx="1860.3" cy="935.1" r="2.75"/><circle cx="1860.4" cy="937.2" r="2.75"/><circle cx="1860.6" cy="928.3" r="2.75"/><circle cx="1860.7" cy="930.5" r="2.75"/><circle cx="1861.0" cy="938.4" r="2.75"/><circle cx="1861.0" cy="934.8" r="2.75"/><circle cx="1861.2" cy="948.6" r="2.75"/><circle cx="1861.4" cy="947.5" r="2.75"/><circle cx="1868.9" cy="936.6" r="2.75"/><circle cx="1869.5" cy="939.3" r="2.75"/><circle cx="1869.7" cy="953.6" r="2.75"/><circle cx="1869.9" cy="943.5" r="2.75"/><circle cx="1869.9" cy="950.6" r="2.75"/><circle cx="1870.3" cy="948.2" r="2.75"/><circle cx="1870.5" cy="930.0" r="2.75"/><circle cx="1870.5" cy="952.1" r="2.75"/><circle cx="1870.6" cy="949.2" r="2.75"/><circle cx="1870.7" cy="937.2" r="2.75"/><circle cx="1870.7" cy="942.0" r="2.75"/><circle cx="1870.7" cy="941.1" r="2.75"/><circle cx="1870.8" cy="957.0" r="2.75"/><circle cx="1870.8" cy="943.0" r="2.75"/><circle cx="1870.8" cy="955.3" r="2.75"/><circle cx="1871.0" cy="950.8" r="2.75"/><circle cx="1871.1" cy="948.3" r="2.75"/><circle cx="1871.1" cy="945.7" r="2.75"/><circle cx="1871.1" cy="934.5" r="2.75"/><circle cx="1871.4" cy="924.3" r="2.75"/><circle cx="1871.7" cy="941.8" r="2.75"/><circle cx="1871.7" cy="932.7" r="2.75"/><circle cx="1872.1" cy="941.8" r="2.75"/><circle cx="1872.2" cy="974.4" r="2.75"/><circle cx="1872.2" cy="942.3" r="2.75"/><circle cx="1872.3" cy="930.3" r="2.75"/><circle cx="1872.4" cy="929.1" r="2.75"/><circle cx="1879.9" cy="952.6" r="2.75"/><circle cx="1880.6" cy="932.7" r="2.75"/><circle cx="1880.9" cy="951.3" r="2.75"/><circle cx="1881.2" cy="951.2" r="2.75"/><circle cx="1881.5" cy="949.2" r="2.75"/><circle cx="1881.8" cy="929.8" r="2.75"/><circle cx="1882.0" cy="940.2" r="2.75"/><circle cx="1882.3" cy="935.2" r="2.75"/><circle cx="1882.3" cy="966.0" r="2.75"/><circle cx="1882.6" cy="944.7" r="2.75"/><circle cx="1883.6" cy="945.4" r="2.75"/><circle cx="1883.8" cy="937.4" r="2.75"/><circle cx="1884.4" cy="949.0" r="2.75"/><circle cx="1884.9" cy="932.7" r="2.75"/><circle cx="1885.4" cy="951.3" r="2.75"/><circle cx="1891.7" cy="959.0" r="2.75"/><circle cx="1892.6" cy="961.6" r="2.75"/><circle cx="1892.8" cy="933.0" r="2.75"/><circle cx="1893.1" cy="938.0" r="2.75"/><circle cx="1894.2" cy="953.3" r="2.75"/><circle cx="1894.2" cy="934.7" r="2.75"/><circle cx="1894.9" cy="947.4" r="2.75"/><circle cx="1895.6" cy="947.0" r="2.75"/><circle cx="1896.7" cy="960.3" r="2.75"/><circle cx="1902.9" cy="952.1" r="2.75"/><circle cx="1904.3" cy="945.8" r="2.75"/><circle cx="1906.4" cy="945.1" r="2.75"/><circle cx="1907.1" cy="952.7" r="2.75"/><circle cx="1916.0" cy="938.6" r="2.75"/><circle cx="1916.5" cy="934.2" r="2.75"/><circle cx="1916.8" cy="929.2" r="2.75"/><circle cx="1917.7" cy="944.6" r="2.75"/><circle cx="1927.5" cy="964.8" r="2.75"/><circle cx="1928.1" cy="945.8" r="2.75"/><circle cx="1938.9" cy="960.7" r="2.75"/><circle cx="1939.3" cy="952.8" r="2.75"/><circle cx="1939.3" cy="949.6" r="2.75"/></g>
<polygon points="1654.7,911.2 1664.2,912.6 1673.6,914.1 1683.1,915.5 1692.5,916.9 1702.0,918.3 1711.5,919.7 1720.9,921.2 1730.4,922.6 1739.8,924.0 1749.3,925.4 1758.7,926.7 1768.2,928.1 1777.7,929.5 1787.1,930.8 1796.6,932.1 1806.0,933.4 1815.5,934.6 1825.0,935.8 1834.4,937.0 1843.9,938.1 1853.3,939.2 1862.8,940.3 1872.3,941.3 1881.7,942.4 1891.2,943.4 1900.6,944.4 1910.1,945.4 1919.5,946.4 1929.0,947.4 1938.5,948.4 1938.5,954.9 1929.0,953.5 1919.5,952.1 1910.1,950.7 1900.6,949.3 1891.2,947.9 1881.7,946.5 1872.3,945.1 1862.8,943.8 1853.3,942.4 1843.9,941.1 1834.4,939.9 1825.0,938.6 1815.5,937.4 1806.0,936.2 1796.6,935.1 1787.1,934.0 1777.7,932.9 1768.2,931.9 1758.7,930.8 1749.3,929.8 1739.8,928.8 1730.4,927.8 1720.9,926.8 1711.5,925.8 1702.0,924.8 1692.5,923.8 1683.1,922.8 1673.6,921.9 1664.2,920.9 1654.7,919.9" fill="#929292"/>
<path d="M1654.7 915.6L1938.5 951.6" stroke="#F59C1C" stroke-width="2.4"/>
<polygon points="1654.7,982.3 1664.2,977.8 1673.6,973.3 1683.1,968.9 1692.5,964.4 1702.0,959.9 1711.5,955.4 1720.9,950.9 1730.4,946.4 1739.8,941.9 1749.3,937.4 1758.7,932.8 1768.2,928.2 1777.7,923.6 1787.1,919.0 1796.6,914.2 1806.0,909.4 1815.5,904.4 1825.0,899.2 1834.4,893.9 1843.9,888.5 1853.3,883.0 1862.8,877.4 1872.3,871.8 1881.7,866.2 1891.2,860.5 1900.6,854.8 1910.1,849.1 1919.5,843.4 1929.0,837.6 1938.5,831.9 1938.5,849.3 1929.0,853.8 1919.5,858.3 1910.1,862.8 1900.6,867.4 1891.2,871.9 1881.7,876.5 1872.3,881.1 1862.8,885.7 1853.3,890.3 1843.9,895.1 1834.4,899.9 1825.0,904.9 1815.5,909.9 1806.0,915.2 1796.6,920.6 1787.1,926.1 1777.7,931.7 1768.2,937.3 1758.7,943.0 1749.3,948.7 1739.8,954.4 1730.4,960.1 1720.9,965.8 1711.5,971.6 1702.0,977.3 1692.5,983.1 1683.1,988.9 1673.6,994.6 1664.2,1000.4 1654.7,1006.2" fill="#929292"/>
<path d="M1654.7 994.2L1938.5 840.6" stroke="#6F5FCF" stroke-width="1.5"/>
<circle cx="1654.8" cy="816.2" r="2.75" fill="#FBD393" stroke="#F59C1C" stroke-width="2.2"/>
<circle cx="1654.8" cy="836.3000000000001" r="2.75" fill="#C6BFF1" stroke="#6F5FCF" stroke-width="2.2"/>
<text x="1667.6" y="819.9" font-size="16.3" text-anchor="start" fill="#000">Bias gene</text>
<text x="1667.6" y="839.9" font-size="16.3" text-anchor="start" fill="#000">Favorable site</text>
<rect x="1639.2" y="1100.2" width="314.4" height="229.4" fill="#fff" stroke="#000" stroke-width="2.1"/>
<text x="1631.9" y="1330.6" font-size="15.8" text-anchor="end" fill="#000">100</text>
<text x="1631.9" y="1265.2" font-size="15.8" text-anchor="end" fill="#000">200</text>
<text x="1631.9" y="1199.7" font-size="15.8" text-anchor="end" fill="#000">300</text>
<text x="1631.9" y="1134.2" font-size="15.8" text-anchor="end" fill="#000">400</text>
<text x="1650.7" y="1348.0" font-size="15.8" text-anchor="middle" fill="#000">6.2</text>
<text x="1730.6" y="1348.0" font-size="15.8" text-anchor="middle" fill="#000">6.4</text>
<text x="1810.6" y="1348.0" font-size="15.8" text-anchor="middle" fill="#000">6.6</text>
<text x="1890.5" y="1348.0" font-size="15.8" text-anchor="middle" fill="#000">6.8</text>
<path d="M1634.9 1324.1h4.3M1634.9 1258.7h4.3M1634.9 1193.2h4.3M1634.9 1127.7h4.3M1650.7 1329.6v4.3M1730.6 1329.6v4.3M1810.6 1329.6v4.3M1890.5 1329.6v4.3" stroke="#000" stroke-width="1.6"/>
<text x="1820.7" y="1371.7" font-size="21.35" text-anchor="middle" fill="#000">Fiber elongation rate</text>
<text transform="translate(1596.9,1210.2) rotate(-90)" font-size="21.0" text-anchor="middle">Counts</text>
<g fill="#C6BFF1" stroke="#6F5FCF" stroke-width="2.2"><circle cx="1654.7" cy="1310.4" r="2.75"/><circle cx="1675.6" cy="1295.2" r="2.75"/><circle cx="1675.9" cy="1269.6" r="2.75"/><circle cx="1677.6" cy="1277.7" r="2.75"/><circle cx="1677.7" cy="1265.8" r="2.75"/><circle cx="1677.9" cy="1303.8" r="2.75"/><circle cx="1689.5" cy="1304.1" r="2.75"/><circle cx="1689.9" cy="1248.3" r="2.75"/><circle cx="1699.1" cy="1309.0" r="2.75"/><circle cx="1699.8" cy="1277.6" r="2.75"/><circle cx="1700.4" cy="1270.1" r="2.75"/><circle cx="1709.8" cy="1314.7" r="2.75"/><circle cx="1710.6" cy="1275.7" r="2.75"/><circle cx="1711.1" cy="1278.0" r="2.75"/><circle cx="1712.0" cy="1258.5" r="2.75"/><circle cx="1721.0" cy="1274.6" r="2.75"/><circle cx="1721.5" cy="1270.0" r="2.75"/><circle cx="1721.9" cy="1248.5" r="2.75"/><circle cx="1722.0" cy="1305.3" r="2.75"/><circle cx="1722.7" cy="1276.2" r="2.75"/><circle cx="1723.7" cy="1282.5" r="2.75"/><circle cx="1723.8" cy="1280.5" r="2.75"/><circle cx="1724.7" cy="1266.2" r="2.75"/><circle cx="1724.8" cy="1243.6" r="2.75"/><circle cx="1733.0" cy="1283.1" r="2.75"/><circle cx="1733.8" cy="1276.8" r="2.75"/><circle cx="1733.9" cy="1245.1" r="2.75"/><circle cx="1734.4" cy="1250.4" r="2.75"/><circle cx="1734.6" cy="1245.4" r="2.75"/><circle cx="1735.7" cy="1253.9" r="2.75"/><circle cx="1742.6" cy="1264.8" r="2.75"/><circle cx="1743.8" cy="1300.4" r="2.75"/><circle cx="1744.1" cy="1269.6" r="2.75"/><circle cx="1745.2" cy="1268.7" r="2.75"/><circle cx="1745.2" cy="1223.2" r="2.75"/><circle cx="1745.4" cy="1211.7" r="2.75"/><circle cx="1745.6" cy="1282.3" r="2.75"/><circle cx="1745.7" cy="1263.5" r="2.75"/><circle cx="1746.1" cy="1281.9" r="2.75"/><circle cx="1746.4" cy="1261.5" r="2.75"/><circle cx="1746.5" cy="1284.0" r="2.75"/><circle cx="1746.6" cy="1206.6" r="2.75"/><circle cx="1746.9" cy="1222.2" r="2.75"/><circle cx="1746.9" cy="1261.3" r="2.75"/><circle cx="1755.8" cy="1264.7" r="2.75"/><circle cx="1756.7" cy="1254.0" r="2.75"/><circle cx="1756.9" cy="1282.0" r="2.75"/><circle cx="1756.9" cy="1261.6" r="2.75"/><circle cx="1757.0" cy="1235.5" r="2.75"/><circle cx="1757.0" cy="1214.8" r="2.75"/><circle cx="1757.4" cy="1247.3" r="2.75"/><circle cx="1757.4" cy="1223.1" r="2.75"/><circle cx="1757.5" cy="1278.1" r="2.75"/><circle cx="1757.6" cy="1286.2" r="2.75"/><circle cx="1757.7" cy="1221.1" r="2.75"/><circle cx="1758.2" cy="1248.8" r="2.75"/><circle cx="1767.8" cy="1251.5" r="2.75"/><circle cx="1768.0" cy="1210.3" r="2.75"/><circle cx="1768.2" cy="1286.5" r="2.75"/><circle cx="1768.3" cy="1271.8" r="2.75"/><circle cx="1768.4" cy="1266.7" r="2.75"/><circle cx="1768.5" cy="1211.3" r="2.75"/><circle cx="1768.7" cy="1227.0" r="2.75"/><circle cx="1768.8" cy="1291.0" r="2.75"/><circle cx="1768.8" cy="1218.0" r="2.75"/><circle cx="1769.3" cy="1248.6" r="2.75"/><circle cx="1769.7" cy="1238.8" r="2.75"/><circle cx="1770.4" cy="1266.7" r="2.75"/><circle cx="1778.2" cy="1201.4" r="2.75"/><circle cx="1778.3" cy="1235.2" r="2.75"/><circle cx="1778.9" cy="1214.3" r="2.75"/><circle cx="1778.9" cy="1268.8" r="2.75"/><circle cx="1779.1" cy="1228.8" r="2.75"/><circle cx="1779.3" cy="1233.3" r="2.75"/><circle cx="1779.6" cy="1250.4" r="2.75"/><circle cx="1779.8" cy="1276.6" r="2.75"/><circle cx="1780.1" cy="1261.4" r="2.75"/><circle cx="1780.4" cy="1272.3" r="2.75"/><circle cx="1780.5" cy="1260.4" r="2.75"/><circle cx="1780.5" cy="1245.3" r="2.75"/><circle cx="1780.5" cy="1231.0" r="2.75"/><circle cx="1781.5" cy="1259.9" r="2.75"/><circle cx="1789.1" cy="1281.3" r="2.75"/><circle cx="1789.7" cy="1255.7" r="2.75"/><circle cx="1789.7" cy="1279.9" r="2.75"/><circle cx="1789.9" cy="1248.0" r="2.75"/><circle cx="1790.4" cy="1247.2" r="2.75"/><circle cx="1790.4" cy="1245.5" r="2.75"/><circle cx="1790.7" cy="1231.1" r="2.75"/><circle cx="1791.0" cy="1218.5" r="2.75"/><circle cx="1791.1" cy="1221.8" r="2.75"/><circle cx="1791.1" cy="1234.1" r="2.75"/><circle cx="1791.2" cy="1226.7" r="2.75"/><circle cx="1791.3" cy="1259.5" r="2.75"/><circle cx="1791.6" cy="1262.8" r="2.75"/><circle cx="1791.6" cy="1225.2" r="2.75"/><circle cx="1791.7" cy="1227.2" r="2.75"/><circle cx="1791.7" cy="1188.6" r="2.75"/><circle cx="1791.8" cy="1245.8" r="2.75"/><circle cx="1791.9" cy="1263.8" r="2.75"/><circle cx="1792.4" cy="1233.3" r="2.75"/><circle cx="1792.9" cy="1250.7" r="2.75"/><circle cx="1793.0" cy="1261.1" r="2.75"/><circle cx="1800.8" cy="1204.8" r="2.75"/><circle cx="1801.0" cy="1191.4" r="2.75"/><circle cx="1801.1" cy="1228.1" r="2.75"/><circle cx="1801.6" cy="1252.2" r="2.75"/><circle cx="1801.8" cy="1230.6" r="2.75"/><circle cx="1802.5" cy="1237.7" r="2.75"/><circle cx="1802.6" cy="1254.3" r="2.75"/><circle cx="1802.6" cy="1216.6" r="2.75"/><circle cx="1802.7" cy="1228.1" r="2.75"/><circle cx="1802.8" cy="1176.7" r="2.75"/><circle cx="1802.8" cy="1249.4" r="2.75"/><circle cx="1802.9" cy="1236.6" r="2.75"/><circle cx="1803.1" cy="1238.9" r="2.75"/><circle cx="1803.2" cy="1237.2" r="2.75"/><circle cx="1803.2" cy="1176.6" r="2.75"/><circle cx="1803.2" cy="1285.6" r="2.75"/><circle cx="1803.3" cy="1263.2" r="2.75"/><circle cx="1803.4" cy="1244.4" r="2.75"/><circle cx="1803.6" cy="1273.0" r="2.75"/><circle cx="1803.8" cy="1225.8" r="2.75"/><circle cx="1803.8" cy="1246.8" r="2.75"/><circle cx="1804.3" cy="1233.8" r="2.75"/><circle cx="1804.4" cy="1230.0" r="2.75"/><circle cx="1804.5" cy="1233.7" r="2.75"/><circle cx="1804.7" cy="1233.0" r="2.75"/><circle cx="1812.1" cy="1236.1" r="2.75"/><circle cx="1812.3" cy="1222.3" r="2.75"/><circle cx="1812.4" cy="1213.2" r="2.75"/><circle cx="1813.0" cy="1238.3" r="2.75"/><circle cx="1813.0" cy="1242.8" r="2.75"/><circle cx="1813.0" cy="1241.6" r="2.75"/><circle cx="1813.1" cy="1224.8" r="2.75"/><circle cx="1813.1" cy="1240.8" r="2.75"/><circle cx="1813.6" cy="1241.0" r="2.75"/><circle cx="1813.6" cy="1267.7" r="2.75"/><circle cx="1813.8" cy="1185.9" r="2.75"/><circle cx="1813.9" cy="1261.0" r="2.75"/><circle cx="1813.9" cy="1191.7" r="2.75"/><circle cx="1813.9" cy="1212.7" r="2.75"/><circle cx="1814.0" cy="1207.2" r="2.75"/><circle cx="1814.3" cy="1225.3" r="2.75"/><circle cx="1814.3" cy="1219.7" r="2.75"/><circle cx="1814.4" cy="1224.5" r="2.75"/><circle cx="1814.4" cy="1217.3" r="2.75"/><circle cx="1814.5" cy="1211.3" r="2.75"/><circle cx="1814.5" cy="1195.0" r="2.75"/><circle cx="1814.6" cy="1254.9" r="2.75"/><circle cx="1814.7" cy="1219.5" r="2.75"/><circle cx="1814.8" cy="1238.4" r="2.75"/><circle cx="1814.9" cy="1197.7" r="2.75"/><circle cx="1815.3" cy="1255.3" r="2.75"/><circle cx="1815.3" cy="1223.4" r="2.75"/><circle cx="1815.8" cy="1224.0" r="2.75"/><circle cx="1816.8" cy="1184.9" r="2.75"/><circle cx="1823.4" cy="1281.5" r="2.75"/><circle cx="1824.3" cy="1206.7" r="2.75"/><circle cx="1824.6" cy="1265.7" r="2.75"/><circle cx="1824.6" cy="1174.8" r="2.75"/><circle cx="1824.7" cy="1252.1" r="2.75"/><circle cx="1824.8" cy="1229.4" r="2.75"/><circle cx="1824.9" cy="1211.8" r="2.75"/><circle cx="1825.2" cy="1223.4" r="2.75"/><circle cx="1825.2" cy="1239.6" r="2.75"/><circle cx="1825.3" cy="1229.0" r="2.75"/><circle cx="1825.3" cy="1218.4" r="2.75"/><circle cx="1825.3" cy="1246.0" r="2.75"/><circle cx="1825.4" cy="1209.5" r="2.75"/><circle cx="1825.8" cy="1199.7" r="2.75"/><circle cx="1825.9" cy="1200.7" r="2.75"/><circle cx="1826.4" cy="1198.0" r="2.75"/><circle cx="1826.4" cy="1195.0" r="2.75"/><circle cx="1826.4" cy="1176.9" r="2.75"/><circle cx="1826.5" cy="1194.7" r="2.75"/><circle cx="1826.5" cy="1224.6" r="2.75"/><circle cx="1826.7" cy="1216.2" r="2.75"/><circle cx="1826.9" cy="1191.8" r="2.75"/><circle cx="1827.1" cy="1179.2" r="2.75"/><circle cx="1827.2" cy="1234.2" r="2.75"/><circle cx="1827.4" cy="1260.6" r="2.75"/><circle cx="1827.6" cy="1174.5" r="2.75"/><circle cx="1828.9" cy="1197.2" r="2.75"/><circle cx="1829.1" cy="1181.1" r="2.75"/><circle cx="1832.8" cy="1201.8" r="2.75"/><circle cx="1834.4" cy="1217.2" r="2.75"/><circle cx="1835.5" cy="1237.9" r="2.75"/><circle cx="1835.5" cy="1245.7" r="2.75"/><circle cx="1835.5" cy="1187.5" r="2.75"/><circle cx="1835.7" cy="1198.7" r="2.75"/><circle cx="1835.8" cy="1214.7" r="2.75"/><circle cx="1836.0" cy="1249.2" r="2.75"/><circle cx="1836.1" cy="1234.9" r="2.75"/><circle cx="1836.6" cy="1237.1" r="2.75"/><circle cx="1836.6" cy="1221.5" r="2.75"/><circle cx="1836.6" cy="1291.7" r="2.75"/><circle cx="1836.7" cy="1216.6" r="2.75"/><circle cx="1836.7" cy="1184.3" r="2.75"/><circle cx="1836.8" cy="1235.2" r="2.75"/><circle cx="1836.8" cy="1221.4" r="2.75"/><circle cx="1836.9" cy="1237.2" r="2.75"/><circle cx="1836.9" cy="1246.1" r="2.75"/><circle cx="1836.9" cy="1190.3" r="2.75"/><circle cx="1837.0" cy="1241.6" r="2.75"/><circle cx="1837.1" cy="1232.5" r="2.75"/><circle cx="1837.2" cy="1215.7" r="2.75"/><circle cx="1837.4" cy="1223.1" r="2.75"/><circle cx="1837.4" cy="1219.4" r="2.75"/><circle cx="1837.6" cy="1243.9" r="2.75"/><circle cx="1837.7" cy="1204.0" r="2.75"/><circle cx="1837.8" cy="1247.8" r="2.75"/><circle cx="1837.9" cy="1201.1" r="2.75"/><circle cx="1837.9" cy="1233.2" r="2.75"/><circle cx="1838.0" cy="1250.3" r="2.75"/><circle cx="1838.1" cy="1223.6" r="2.75"/><circle cx="1838.2" cy="1247.1" r="2.75"/><circle cx="1838.2" cy="1234.3" r="2.75"/><circle cx="1838.3" cy="1225.1" r="2.75"/><circle cx="1838.3" cy="1202.4" r="2.75"/><circle cx="1838.5" cy="1202.1" r="2.75"/><circle cx="1838.9" cy="1194.0" r="2.75"/><circle cx="1845.1" cy="1225.7" r="2.75"/><circle cx="1846.1" cy="1255.4" r="2.75"/><circle cx="1846.3" cy="1236.7" r="2.75"/><circle cx="1846.3" cy="1226.2" r="2.75"/><circle cx="1846.4" cy="1221.5" r="2.75"/><circle cx="1846.5" cy="1231.1" r="2.75"/><circle cx="1846.7" cy="1245.3" r="2.75"/><circle cx="1846.7" cy="1198.7" r="2.75"/><circle cx="1847.0" cy="1250.5" r="2.75"/><circle cx="1847.1" cy="1217.9" r="2.75"/><circle cx="1847.2" cy="1187.5" r="2.75"/><circle cx="1847.5" cy="1236.6" r="2.75"/><circle cx="1847.6" cy="1241.8" r="2.75"/><circle cx="1847.8" cy="1223.3" r="2.75"/><circle cx="1847.9" cy="1226.1" r="2.75"/><circle cx="1848.0" cy="1191.9" r="2.75"/><circle cx="1848.0" cy="1184.9" r="2.75"/><circle cx="1848.1" cy="1220.8" r="2.75"/><circle cx="1848.3" cy="1204.1" r="2.75"/><circle cx="1848.5" cy="1231.6" r="2.75"/><circle cx="1848.6" cy="1229.4" r="2.75"/><circle cx="1848.6" cy="1186.9" r="2.75"/><circle cx="1848.7" cy="1233.8" r="2.75"/><circle cx="1849.1" cy="1188.2" r="2.75"/><circle cx="1849.2" cy="1209.7" r="2.75"/><circle cx="1849.6" cy="1221.1" r="2.75"/><circle cx="1849.9" cy="1242.4" r="2.75"/><circle cx="1850.5" cy="1227.4" r="2.75"/><circle cx="1850.8" cy="1250.0" r="2.75"/><circle cx="1856.4" cy="1226.5" r="2.75"/><circle cx="1857.7" cy="1257.3" r="2.75"/><circle cx="1857.8" cy="1214.3" r="2.75"/><circle cx="1858.0" cy="1171.5" r="2.75"/><circle cx="1858.5" cy="1259.5" r="2.75"/><circle cx="1858.7" cy="1171.5" r="2.75"/><circle cx="1858.8" cy="1216.7" r="2.75"/><circle cx="1858.9" cy="1192.1" r="2.75"/><circle cx="1859.0" cy="1238.2" r="2.75"/><circle cx="1859.0" cy="1164.3" r="2.75"/><circle cx="1859.0" cy="1239.9" r="2.75"/><circle cx="1859.1" cy="1215.5" r="2.75"/><circle cx="1859.2" cy="1175.7" r="2.75"/><circle cx="1859.2" cy="1244.7" r="2.75"/><circle cx="1859.3" cy="1270.5" r="2.75"/><circle cx="1859.5" cy="1215.3" r="2.75"/><circle cx="1859.7" cy="1232.2" r="2.75"/><circle cx="1859.7" cy="1237.2" r="2.75"/><circle cx="1859.7" cy="1235.8" r="2.75"/><circle cx="1859.8" cy="1249.2" r="2.75"/><circle cx="1859.9" cy="1179.1" r="2.75"/><circle cx="1860.2" cy="1183.4" r="2.75"/><circle cx="1860.2" cy="1246.6" r="2.75"/><circle cx="1860.3" cy="1215.8" r="2.75"/><circle cx="1860.4" cy="1224.4" r="2.75"/><circle cx="1860.6" cy="1186.2" r="2.75"/><circle cx="1860.7" cy="1233.6" r="2.75"/><circle cx="1861.0" cy="1173.2" r="2.75"/><circle cx="1861.0" cy="1212.9" r="2.75"/><circle cx="1861.2" cy="1232.2" r="2.75"/><circle cx="1861.4" cy="1215.1" r="2.75"/><circle cx="1868.9" cy="1224.4" r="2.75"/><circle cx="1869.5" cy="1154.4" r="2.75"/><circle cx="1869.7" cy="1206.1" r="2.75"/><circle cx="1869.9" cy="1221.5" r="2.75"/><circle cx="1869.9" cy="1207.3" r="2.75"/><circle cx="1870.3" cy="1151.9" r="2.75"/><circle cx="1870.5" cy="1233.1" r="2.75"/><circle cx="1870.5" cy="1250.8" r="2.75"/><circle cx="1870.6" cy="1177.2" r="2.75"/><circle cx="1870.7" cy="1194.3" r="2.75"/><circle cx="1870.7" cy="1220.5" r="2.75"/><circle cx="1870.7" cy="1211.4" r="2.75"/><circle cx="1870.8" cy="1182.1" r="2.75"/><circle cx="1870.8" cy="1276.4" r="2.75"/><circle cx="1870.8" cy="1159.0" r="2.75"/><circle cx="1871.0" cy="1213.7" r="2.75"/><circle cx="1871.1" cy="1192.6" r="2.75"/><circle cx="1871.1" cy="1210.6" r="2.75"/><circle cx="1871.1" cy="1133.0" r="2.75"/><circle cx="1871.4" cy="1224.5" r="2.75"/><circle cx="1871.7" cy="1181.9" r="2.75"/><circle cx="1871.7" cy="1273.4" r="2.75"/><circle cx="1872.1" cy="1208.0" r="2.75"/><circle cx="1872.2" cy="1189.4" r="2.75"/><circle cx="1872.2" cy="1247.1" r="2.75"/><circle cx="1872.3" cy="1259.1" r="2.75"/><circle cx="1872.4" cy="1206.5" r="2.75"/><circle cx="1879.9" cy="1181.0" r="2.75"/><circle cx="1880.6" cy="1176.4" r="2.75"/><circle cx="1880.9" cy="1222.6" r="2.75"/><circle cx="1881.2" cy="1197.0" r="2.75"/><circle cx="1881.5" cy="1240.4" r="2.75"/><circle cx="1881.8" cy="1162.1" r="2.75"/><circle cx="1882.0" cy="1219.4" r="2.75"/><circle cx="1882.3" cy="1173.6" r="2.75"/><circle cx="1882.3" cy="1211.8" r="2.75"/><circle cx="1882.6" cy="1213.2" r="2.75"/><circle cx="1883.6" cy="1164.5" r="2.75"/><circle cx="1883.8" cy="1226.2" r="2.75"/><circle cx="1884.4" cy="1172.3" r="2.75"/><circle cx="1884.9" cy="1213.0" r="2.75"/><circle cx="1885.4" cy="1225.8" r="2.75"/><circle cx="1891.7" cy="1222.4" r="2.75"/><circle cx="1892.6" cy="1173.3" r="2.75"/><circle cx="1892.8" cy="1203.2" r="2.75"/><circle cx="1893.1" cy="1209.9" r="2.75"/><circle cx="1894.2" cy="1238.2" r="2.75"/><circle cx="1894.2" cy="1171.5" r="2.75"/><circle cx="1894.9" cy="1174.4" r="2.75"/><circle cx="1895.6" cy="1192.2" r="2.75"/><circle cx="1896.7" cy="1180.5" r="2.75"/><circle cx="1902.9" cy="1278.1" r="2.75"/><circle cx="1904.3" cy="1210.1" r="2.75"/><circle cx="1906.4" cy="1192.1" r="2.75"/><circle cx="1907.1" cy="1193.3" r="2.75"/><circle cx="1916.0" cy="1206.6" r="2.75"/><circle cx="1916.5" cy="1186.4" r="2.75"/><circle cx="1916.8" cy="1210.4" r="2.75"/><circle cx="1917.7" cy="1208.2" r="2.75"/><circle cx="1927.5" cy="1219.1" r="2.75"/><circle cx="1928.1" cy="1184.5" r="2.75"/><circle cx="1938.9" cy="1201.8" r="2.75"/><circle cx="1939.3" cy="1196.2" r="2.75"/><circle cx="1939.3" cy="1149.3" r="2.75"/></g>
<g fill="#FBD393" stroke="#F59C1C" stroke-width="2.2"><circle cx="1654.7" cy="1250.5" r="2.75"/><circle cx="1675.6" cy="1247.2" r="2.75"/><circle cx="1675.9" cy="1252.5" r="2.75"/><circle cx="1677.6" cy="1250.2" r="2.75"/><circle cx="1677.7" cy="1236.5" r="2.75"/><circle cx="1677.9" cy="1242.2" r="2.75"/><circle cx="1689.5" cy="1266.0" r="2.75"/><circle cx="1689.9" cy="1233.9" r="2.75"/><circle cx="1699.1" cy="1259.8" r="2.75"/><circle cx="1699.8" cy="1241.8" r="2.75"/><circle cx="1700.4" cy="1234.8" r="2.75"/><circle cx="1709.8" cy="1240.9" r="2.75"/><circle cx="1710.6" cy="1237.3" r="2.75"/><circle cx="1711.1" cy="1234.6" r="2.75"/><circle cx="1712.0" cy="1239.3" r="2.75"/><circle cx="1721.0" cy="1251.5" r="2.75"/><circle cx="1721.5" cy="1237.8" r="2.75"/><circle cx="1721.9" cy="1246.7" r="2.75"/><circle cx="1722.0" cy="1261.1" r="2.75"/><circle cx="1722.7" cy="1243.2" r="2.75"/><circle cx="1723.7" cy="1236.0" r="2.75"/><circle cx="1723.8" cy="1239.6" r="2.75"/><circle cx="1724.7" cy="1240.5" r="2.75"/><circle cx="1724.8" cy="1226.0" r="2.75"/><circle cx="1733.0" cy="1237.4" r="2.75"/><circle cx="1733.8" cy="1232.0" r="2.75"/><circle cx="1733.9" cy="1236.9" r="2.75"/><circle cx="1734.4" cy="1225.8" r="2.75"/><circle cx="1734.6" cy="1242.6" r="2.75"/><circle cx="1735.7" cy="1229.5" r="2.75"/><circle cx="1742.6" cy="1223.5" r="2.75"/><circle cx="1743.8" cy="1241.7" r="2.75"/><circle cx="1744.1" cy="1229.8" r="2.75"/><circle cx="1745.2" cy="1249.8" r="2.75"/><circle cx="1745.2" cy="1235.8" r="2.75"/><circle cx="1745.4" cy="1232.3" r="2.75"/><circle cx="1745.6" cy="1245.4" r="2.75"/><circle cx="1745.7" cy="1253.5" r="2.75"/><circle cx="1746.1" cy="1238.0" r="2.75"/><circle cx="1746.4" cy="1241.1" r="2.75"/><circle cx="1746.5" cy="1236.8" r="2.75"/><circle cx="1746.6" cy="1235.8" r="2.75"/><circle cx="1746.9" cy="1231.3" r="2.75"/><circle cx="1746.9" cy="1225.1" r="2.75"/><circle cx="1755.8" cy="1233.7" r="2.75"/><circle cx="1756.7" cy="1250.1" r="2.75"/><circle cx="1756.9" cy="1231.6" r="2.75"/><circle cx="1756.9" cy="1234.0" r="2.75"/><circle cx="1757.0" cy="1236.0" r="2.75"/><circle cx="1757.0" cy="1223.9" r="2.75"/><circle cx="1757.4" cy="1235.0" r="2.75"/><circle cx="1757.4" cy="1240.2" r="2.75"/><circle cx="1757.5" cy="1233.3" r="2.75"/><circle cx="1757.6" cy="1250.6" r="2.75"/><circle cx="1757.7" cy="1229.1" r="2.75"/><circle cx="1758.2" cy="1236.6" r="2.75"/><circle cx="1767.8" cy="1222.0" r="2.75"/><circle cx="1768.0" cy="1230.4" r="2.75"/><circle cx="1768.2" cy="1232.9" r="2.75"/><circle cx="1768.3" cy="1234.5" r="2.75"/><circle cx="1768.4" cy="1246.0" r="2.75"/><circle cx="1768.5" cy="1236.7" r="2.75"/><circle cx="1768.7" cy="1233.5" r="2.75"/><circle cx="1768.8" cy="1227.7" r="2.75"/><circle cx="1768.8" cy="1232.4" r="2.75"/><circle cx="1769.3" cy="1238.4" r="2.75"/><circle cx="1769.7" cy="1230.1" r="2.75"/><circle cx="1770.4" cy="1240.2" r="2.75"/><circle cx="1778.2" cy="1232.5" r="2.75"/><circle cx="1778.3" cy="1236.8" r="2.75"/><circle cx="1778.9" cy="1245.4" r="2.75"/><circle cx="1778.9" cy="1247.6" r="2.75"/><circle cx="1779.1" cy="1228.0" r="2.75"/><circle cx="1779.3" cy="1222.9" r="2.75"/><circle cx="1779.6" cy="1222.9" r="2.75"/><circle cx="1779.8" cy="1242.0" r="2.75"/><circle cx="1780.1" cy="1222.2" r="2.75"/><circle cx="1780.4" cy="1221.7" r="2.75"/><circle cx="1780.5" cy="1241.1" r="2.75"/><circle cx="1780.5" cy="1230.7" r="2.75"/><circle cx="1780.5" cy="1220.4" r="2.75"/><circle cx="1781.5" cy="1233.9" r="2.75"/><circle cx="1789.1" cy="1224.0" r="2.75"/><circle cx="1789.7" cy="1239.0" r="2.75"/><circle cx="1789.7" cy="1236.7" r="2.75"/><circle cx="1789.9" cy="1226.4" r="2.75"/><circle cx="1790.4" cy="1235.1" r="2.75"/><circle cx="1790.4" cy="1232.7" r="2.75"/><circle cx="1790.7" cy="1232.9" r="2.75"/><circle cx="1791.0" cy="1242.3" r="2.75"/><circle cx="1791.1" cy="1221.2" r="2.75"/><circle cx="1791.1" cy="1234.8" r="2.75"/><circle cx="1791.2" cy="1236.4" r="2.75"/><circle cx="1791.3" cy="1237.4" r="2.75"/><circle cx="1791.6" cy="1233.1" r="2.75"/><circle cx="1791.6" cy="1241.4" r="2.75"/><circle cx="1791.7" cy="1226.4" r="2.75"/><circle cx="1791.7" cy="1236.5" r="2.75"/><circle cx="1791.8" cy="1227.0" r="2.75"/><circle cx="1791.9" cy="1241.0" r="2.75"/><circle cx="1792.4" cy="1242.1" r="2.75"/><circle cx="1792.9" cy="1241.2" r="2.75"/><circle cx="1793.0" cy="1231.6" r="2.75"/><circle cx="1800.8" cy="1243.8" r="2.75"/><circle cx="1801.0" cy="1225.7" r="2.75"/><circle cx="1801.1" cy="1235.5" r="2.75"/><circle cx="1801.6" cy="1225.1" r="2.75"/><circle cx="1801.8" cy="1255.5" r="2.75"/><circle cx="1802.5" cy="1225.8" r="2.75"/><circle cx="1802.6" cy="1241.2" r="2.75"/><circle cx="1802.6" cy="1241.8" r="2.75"/><circle cx="1802.7" cy="1227.6" r="2.75"/><circle cx="1802.8" cy="1237.2" r="2.75"/><circle cx="1802.8" cy="1223.7" r="2.75"/><circle cx="1802.9" cy="1238.4" r="2.75"/><circle cx="1803.1" cy="1228.3" r="2.75"/><circle cx="1803.2" cy="1239.4" r="2.75"/><circle cx="1803.2" cy="1247.1" r="2.75"/><circle cx="1803.2" cy="1220.5" r="2.75"/><circle cx="1803.3" cy="1248.0" r="2.75"/><circle cx="1803.4" cy="1224.4" r="2.75"/><circle cx="1803.6" cy="1231.0" r="2.75"/><circle cx="1803.8" cy="1246.9" r="2.75"/><circle cx="1803.8" cy="1231.2" r="2.75"/><circle cx="1804.3" cy="1223.4" r="2.75"/><circle cx="1804.4" cy="1221.6" r="2.75"/><circle cx="1804.5" cy="1218.7" r="2.75"/><circle cx="1804.7" cy="1229.1" r="2.75"/><circle cx="1812.1" cy="1232.5" r="2.75"/><circle cx="1812.3" cy="1231.1" r="2.75"/><circle cx="1812.4" cy="1241.4" r="2.75"/><circle cx="1813.0" cy="1225.4" r="2.75"/><circle cx="1813.0" cy="1225.5" r="2.75"/><circle cx="1813.0" cy="1228.7" r="2.75"/><circle cx="1813.1" cy="1238.1" r="2.75"/><circle cx="1813.1" cy="1226.2" r="2.75"/><circle cx="1813.6" cy="1236.2" r="2.75"/><circle cx="1813.6" cy="1221.1" r="2.75"/><circle cx="1813.8" cy="1236.6" r="2.75"/><circle cx="1813.9" cy="1266.0" r="2.75"/><circle cx="1813.9" cy="1234.2" r="2.75"/><circle cx="1813.9" cy="1240.2" r="2.75"/><circle cx="1814.0" cy="1239.0" r="2.75"/><circle cx="1814.3" cy="1222.1" r="2.75"/><circle cx="1814.3" cy="1252.2" r="2.75"/><circle cx="1814.4" cy="1214.7" r="2.75"/><circle cx="1814.4" cy="1228.4" r="2.75"/><circle cx="1814.5" cy="1217.6" r="2.75"/><circle cx="1814.5" cy="1238.9" r="2.75"/><circle cx="1814.6" cy="1229.9" r="2.75"/><circle cx="1814.7" cy="1231.6" r="2.75"/><circle cx="1814.8" cy="1230.7" r="2.75"/><circle cx="1814.9" cy="1243.9" r="2.75"/><circle cx="1815.3" cy="1232.4" r="2.75"/><circle cx="1815.3" cy="1247.3" r="2.75"/><circle cx="1815.8" cy="1233.1" r="2.75"/><circle cx="1816.8" cy="1238.8" r="2.75"/><circle cx="1823.4" cy="1235.8" r="2.75"/><circle cx="1824.3" cy="1233.3" r="2.75"/><circle cx="1824.6" cy="1223.5" r="2.75"/><circle cx="1824.6" cy="1220.3" r="2.75"/><circle cx="1824.7" cy="1230.3" r="2.75"/><circle cx="1824.8" cy="1239.6" r="2.75"/><circle cx="1824.9" cy="1218.0" r="2.75"/><circle cx="1825.2" cy="1242.3" r="2.75"/><circle cx="1825.2" cy="1235.1" r="2.75"/><circle cx="1825.3" cy="1232.3" r="2.75"/><circle cx="1825.3" cy="1236.7" r="2.75"/><circle cx="1825.3" cy="1219.3" r="2.75"/><circle cx="1825.4" cy="1227.1" r="2.75"/><circle cx="1825.8" cy="1221.4" r="2.75"/><circle cx="1825.9" cy="1233.0" r="2.75"/><circle cx="1826.4" cy="1223.1" r="2.75"/><circle cx="1826.4" cy="1231.7" r="2.75"/><circle cx="1826.4" cy="1231.6" r="2.75"/><circle cx="1826.5" cy="1230.3" r="2.75"/><circle cx="1826.5" cy="1227.1" r="2.75"/><circle cx="1826.7" cy="1225.6" r="2.75"/><circle cx="1826.9" cy="1232.2" r="2.75"/><circle cx="1827.1" cy="1243.0" r="2.75"/><circle cx="1827.2" cy="1233.0" r="2.75"/><circle cx="1827.4" cy="1252.9" r="2.75"/><circle cx="1827.6" cy="1232.7" r="2.75"/><circle cx="1828.9" cy="1237.1" r="2.75"/><circle cx="1829.1" cy="1223.3" r="2.75"/><circle cx="1832.8" cy="1252.7" r="2.75"/><circle cx="1834.4" cy="1212.8" r="2.75"/><circle cx="1835.5" cy="1232.5" r="2.75"/><circle cx="1835.5" cy="1243.0" r="2.75"/><circle cx="1835.5" cy="1226.0" r="2.75"/><circle cx="1835.7" cy="1225.4" r="2.75"/><circle cx="1835.8" cy="1226.0" r="2.75"/><circle cx="1836.0" cy="1211.2" r="2.75"/><circle cx="1836.1" cy="1236.5" r="2.75"/><circle cx="1836.6" cy="1227.0" r="2.75"/><circle cx="1836.6" cy="1228.2" r="2.75"/><circle cx="1836.6" cy="1235.2" r="2.75"/><circle cx="1836.7" cy="1214.8" r="2.75"/><circle cx="1836.7" cy="1218.8" r="2.75"/><circle cx="1836.8" cy="1236.6" r="2.75"/><circle cx="1836.8" cy="1225.7" r="2.75"/><circle cx="1836.9" cy="1223.1" r="2.75"/><circle cx="1836.9" cy="1223.9" r="2.75"/><circle cx="1836.9" cy="1242.9" r="2.75"/><circle cx="1837.0" cy="1227.0" r="2.75"/><circle cx="1837.1" cy="1246.3" r="2.75"/><circle cx="1837.2" cy="1219.1" r="2.75"/><circle cx="1837.4" cy="1230.5" r="2.75"/><circle cx="1837.4" cy="1212.8" r="2.75"/><circle cx="1837.6" cy="1239.8" r="2.75"/><circle cx="1837.7" cy="1225.2" r="2.75"/><circle cx="1837.8" cy="1236.7" r="2.75"/><circle cx="1837.9" cy="1214.4" r="2.75"/><circle cx="1837.9" cy="1216.1" r="2.75"/><circle cx="1838.0" cy="1237.1" r="2.75"/><circle cx="1838.1" cy="1223.0" r="2.75"/><circle cx="1838.2" cy="1229.7" r="2.75"/><circle cx="1838.2" cy="1243.0" r="2.75"/><circle cx="1838.3" cy="1238.1" r="2.75"/><circle cx="1838.3" cy="1228.5" r="2.75"/><circle cx="1838.5" cy="1224.9" r="2.75"/><circle cx="1838.9" cy="1232.4" r="2.75"/><circle cx="1845.1" cy="1226.1" r="2.75"/><circle cx="1846.1" cy="1225.9" r="2.75"/><circle cx="1846.3" cy="1226.1" r="2.75"/><circle cx="1846.3" cy="1238.5" r="2.75"/><circle cx="1846.4" cy="1227.3" r="2.75"/><circle cx="1846.5" cy="1216.8" r="2.75"/><circle cx="1846.7" cy="1241.1" r="2.75"/><circle cx="1846.7" cy="1215.5" r="2.75"/><circle cx="1847.0" cy="1216.1" r="2.75"/><circle cx="1847.1" cy="1227.1" r="2.75"/><circle cx="1847.2" cy="1210.8" r="2.75"/><circle cx="1847.5" cy="1235.2" r="2.75"/><circle cx="1847.6" cy="1236.4" r="2.75"/><circle cx="1847.8" cy="1233.6" r="2.75"/><circle cx="1847.9" cy="1228.1" r="2.75"/><circle cx="1848.0" cy="1212.8" r="2.75"/><circle cx="1848.0" cy="1227.9" r="2.75"/><circle cx="1848.1" cy="1228.8" r="2.75"/><circle cx="1848.3" cy="1225.2" r="2.75"/><circle cx="1848.5" cy="1214.9" r="2.75"/><circle cx="1848.6" cy="1226.9" r="2.75"/><circle cx="1848.6" cy="1231.5" r="2.75"/><circle cx="1848.7" cy="1226.0" r="2.75"/><circle cx="1849.1" cy="1217.6" r="2.75"/><circle cx="1849.2" cy="1229.9" r="2.75"/><circle cx="1849.6" cy="1216.3" r="2.75"/><circle cx="1849.9" cy="1225.6" r="2.75"/><circle cx="1850.5" cy="1240.7" r="2.75"/><circle cx="1850.8" cy="1223.9" r="2.75"/><circle cx="1856.4" cy="1210.8" r="2.75"/><circle cx="1857.7" cy="1246.2" r="2.75"/><circle cx="1857.8" cy="1215.7" r="2.75"/><circle cx="1858.0" cy="1234.4" r="2.75"/><circle cx="1858.5" cy="1226.0" r="2.75"/><circle cx="1858.7" cy="1226.8" r="2.75"/><circle cx="1858.8" cy="1220.3" r="2.75"/><circle cx="1858.9" cy="1222.1" r="2.75"/><circle cx="1859.0" cy="1224.1" r="2.75"/><circle cx="1859.0" cy="1221.7" r="2.75"/><circle cx="1859.0" cy="1234.5" r="2.75"/><circle cx="1859.1" cy="1232.7" r="2.75"/><circle cx="1859.2" cy="1235.6" r="2.75"/><circle cx="1859.2" cy="1230.1" r="2.75"/><circle cx="1859.3" cy="1229.0" r="2.75"/><circle cx="1859.5" cy="1230.3" r="2.75"/><circle cx="1859.7" cy="1222.7" r="2.75"/><circle cx="1859.7" cy="1235.1" r="2.75"/><circle cx="1859.7" cy="1229.2" r="2.75"/><circle cx="1859.8" cy="1219.9" r="2.75"/><circle cx="1859.9" cy="1213.0" r="2.75"/><circle cx="1860.2" cy="1226.7" r="2.75"/><circle cx="1860.2" cy="1217.0" r="2.75"/><circle cx="1860.3" cy="1215.6" r="2.75"/><circle cx="1860.4" cy="1235.6" r="2.75"/><circle cx="1860.6" cy="1225.0" r="2.75"/><circle cx="1860.7" cy="1235.9" r="2.75"/><circle cx="1861.0" cy="1230.3" r="2.75"/><circle cx="1861.0" cy="1223.6" r="2.75"/><circle cx="1861.2" cy="1237.6" r="2.75"/><circle cx="1861.4" cy="1222.5" r="2.75"/><circle cx="1868.9" cy="1227.4" r="2.75"/><circle cx="1869.5" cy="1228.2" r="2.75"/><circle cx="1869.7" cy="1221.7" r="2.75"/><circle cx="1869.9" cy="1219.6" r="2.75"/><circle cx="1869.9" cy="1240.4" r="2.75"/><circle cx="1870.3" cy="1225.9" r="2.75"/><circle cx="1870.5" cy="1232.1" r="2.75"/><circle cx="1870.5" cy="1227.8" r="2.75"/><circle cx="1870.6" cy="1235.3" r="2.75"/><circle cx="1870.7" cy="1234.0" r="2.75"/><circle cx="1870.7" cy="1234.7" r="2.75"/><circle cx="1870.7" cy="1236.8" r="2.75"/><circle cx="1870.8" cy="1232.9" r="2.75"/><circle cx="1870.8" cy="1232.7" r="2.75"/><circle cx="1870.8" cy="1225.9" r="2.75"/><circle cx="1871.0" cy="1199.6" r="2.75"/><circle cx="1871.1" cy="1231.3" r="2.75"/><circle cx="1871.1" cy="1239.4" r="2.75"/><circle cx="1871.1" cy="1221.2" r="2.75"/><circle cx="1871.4" cy="1236.4" r="2.75"/><circle cx="1871.7" cy="1233.5" r="2.75"/><circle cx="1871.7" cy="1228.9" r="2.75"/><circle cx="1872.1" cy="1225.7" r="2.75"/><circle cx="1872.2" cy="1225.4" r="2.75"/><circle cx="1872.2" cy="1224.0" r="2.75"/><circle cx="1872.3" cy="1227.0" r="2.75"/><circle cx="1872.4" cy="1216.7" r="2.75"/><circle cx="1879.9" cy="1218.2" r="2.75"/><circle cx="1880.6" cy="1229.7" r="2.75"/><circle cx="1880.9" cy="1227.0" r="2.75"/><circle cx="1881.2" cy="1236.5" r="2.75"/><circle cx="1881.5" cy="1219.6" r="2.75"/><circle cx="1881.8" cy="1226.8" r="2.75"/><circle cx="1882.0" cy="1213.0" r="2.75"/><circle cx="1882.3" cy="1230.7" r="2.75"/><circle cx="1882.3" cy="1212.4" r="2.75"/><circle cx="1882.6" cy="1232.7" r="2.75"/><circle cx="1883.6" cy="1239.0" r="2.75"/><circle cx="1883.8" cy="1232.1" r="2.75"/><circle cx="1884.4" cy="1222.0" r="2.75"/><circle cx="1884.9" cy="1216.3" r="2.75"/><circle cx="1885.4" cy="1232.1" r="2.75"/><circle cx="1891.7" cy="1216.1" r="2.75"/><circle cx="1892.6" cy="1228.4" r="2.75"/><circle cx="1892.8" cy="1228.3" r="2.75"/><circle cx="1893.1" cy="1226.5" r="2.75"/><circle cx="1894.2" cy="1210.1" r="2.75"/><circle cx="1894.2" cy="1222.4" r="2.75"/><circle cx="1894.9" cy="1221.3" r="2.75"/><circle cx="1895.6" cy="1236.4" r="2.75"/><circle cx="1896.7" cy="1222.3" r="2.75"/><circle cx="1902.9" cy="1220.7" r="2.75"/><circle cx="1904.3" cy="1209.3" r="2.75"/><circle cx="1906.4" cy="1230.0" r="2.75"/><circle cx="1907.1" cy="1228.5" r="2.75"/><circle cx="1916.0" cy="1196.6" r="2.75"/><circle cx="1916.5" cy="1227.1" r="2.75"/><circle cx="1916.8" cy="1216.1" r="2.75"/><circle cx="1917.7" cy="1228.2" r="2.75"/><circle cx="1927.5" cy="1210.0" r="2.75"/><circle cx="1928.1" cy="1220.3" r="2.75"/><circle cx="1938.9" cy="1227.1" r="2.75"/><circle cx="1939.3" cy="1224.9" r="2.75"/><circle cx="1939.3" cy="1230.9" r="2.75"/></g>
<polygon points="1654.7,1243.7 1664.2,1243.0 1673.6,1242.2 1683.1,1241.5 1692.5,1240.7 1702.0,1240.0 1711.5,1239.2 1720.9,1238.5 1730.4,1237.7 1739.8,1236.9 1749.3,1236.2 1758.7,1235.4 1768.2,1234.6 1777.7,1233.8 1787.1,1232.9 1796.6,1232.1 1806.0,1231.2 1815.5,1230.3 1825.0,1229.3 1834.4,1228.4 1843.9,1227.3 1853.3,1226.3 1862.8,1225.3 1872.3,1224.2 1881.7,1223.1 1891.2,1222.0 1900.6,1220.9 1910.1,1219.8 1919.5,1218.7 1929.0,1217.6 1938.5,1216.4 1938.5,1222.3 1929.0,1223.1 1919.5,1223.8 1910.1,1224.6 1900.6,1225.4 1891.2,1226.1 1881.7,1226.9 1872.3,1227.7 1862.8,1228.5 1853.3,1229.3 1843.9,1230.2 1834.4,1231.1 1825.0,1232.0 1815.5,1232.9 1806.0,1233.9 1796.6,1234.9 1787.1,1235.9 1777.7,1236.9 1768.2,1238.0 1758.7,1239.1 1749.3,1240.1 1739.8,1241.2 1730.4,1242.4 1720.9,1243.5 1711.5,1244.6 1702.0,1245.7 1692.5,1246.8 1683.1,1247.9 1673.6,1249.1 1664.2,1250.2 1654.7,1251.3" fill="#929292"/>
<path d="M1654.7 1247.5L1938.5 1219.4" stroke="#F59C1C" stroke-width="2.4"/>
<polygon points="1654.7,1281.6 1664.2,1278.6 1673.6,1275.5 1683.1,1272.5 1692.5,1269.4 1702.0,1266.3 1711.5,1263.2 1720.9,1260.2 1730.4,1257.1 1739.8,1254.0 1749.3,1250.9 1758.7,1247.7 1768.2,1244.6 1777.7,1241.4 1787.1,1238.1 1796.6,1234.8 1806.0,1231.4 1815.5,1227.9 1825.0,1224.3 1834.4,1220.6 1843.9,1216.9 1853.3,1213.0 1862.8,1209.1 1872.3,1205.1 1881.7,1201.2 1891.2,1197.2 1900.6,1193.1 1910.1,1189.1 1919.5,1185.1 1929.0,1181.0 1938.5,1177.0 1938.5,1191.1 1929.0,1194.2 1919.5,1197.3 1910.1,1200.4 1900.6,1203.6 1891.2,1206.7 1881.7,1209.8 1872.3,1213.0 1862.8,1216.2 1853.3,1219.5 1843.9,1222.8 1834.4,1226.2 1825.0,1229.6 1815.5,1233.2 1806.0,1236.9 1796.6,1240.6 1787.1,1244.5 1777.7,1248.4 1768.2,1252.4 1758.7,1256.3 1749.3,1260.4 1739.8,1264.4 1730.4,1268.5 1720.9,1272.5 1711.5,1276.6 1702.0,1280.7 1692.5,1284.8 1683.1,1288.9 1673.6,1293.0 1664.2,1297.1 1654.7,1301.2" fill="#929292"/>
<path d="M1654.7 1291.4L1938.5 1184.0" stroke="#6F5FCF" stroke-width="1.5"/>
<circle cx="1658.7" cy="1122.8" r="2.75" fill="#FBD393" stroke="#F59C1C" stroke-width="2.2"/>
<circle cx="1658.7" cy="1142.8999999999999" r="2.75" fill="#C6BFF1" stroke="#6F5FCF" stroke-width="2.2"/>
<text x="1671.5" y="1126.5" font-size="16.3" text-anchor="start" fill="#000">Bias gene</text>
<text x="1671.5" y="1146.5" font-size="16.3" text-anchor="start" fill="#000">Favorable site</text>
<rect x="1639.2" y="1511.0" width="314.4" height="229.2" fill="#fff" stroke="#000" stroke-width="2.1"/>
<text x="1631.9" y="1698.3" font-size="15.8" text-anchor="end" fill="#000">50</text>
<text x="1631.9" y="1639.5" font-size="15.8" text-anchor="end" fill="#000">70</text>
<text x="1631.9" y="1580.7" font-size="15.8" text-anchor="end" fill="#000">90</text>
<text x="1631.9" y="1521.9" font-size="15.8" text-anchor="end" fill="#000">110</text>
<text x="1718.0" y="1758.4" font-size="15.8" text-anchor="middle" fill="#000">82</text>
<text x="1796.9" y="1758.4" font-size="15.8" text-anchor="middle" fill="#000">84</text>
<text x="1875.8" y="1758.4" font-size="15.8" text-anchor="middle" fill="#000">86</text>
<path d="M1634.9 1691.8h4.3M1634.9 1633.0h4.3M1634.9 1574.2h4.3M1634.9 1515.4h4.3M1718.0 1740.2v4.3M1796.9 1740.2v4.3M1875.8 1740.2v4.3" stroke="#000" stroke-width="1.6"/>
<text x="1803.5" y="1783.7" font-size="21.35" text-anchor="middle" fill="#000">Fiber uniformity</text>
<text transform="translate(1596.9,1620.2) rotate(-90)" font-size="21.0" text-anchor="middle">Counts</text>
<g fill="#C6BFF1" stroke="#6F5FCF" stroke-width="2.2"><circle cx="1654.9" cy="1720.8" r="2.75"/><circle cx="1687.3" cy="1684.7" r="2.75"/><circle cx="1695.0" cy="1687.9" r="2.75"/><circle cx="1706.3" cy="1695.9" r="2.75"/><circle cx="1716.5" cy="1664.4" r="2.75"/><circle cx="1728.4" cy="1700.7" r="2.75"/><circle cx="1731.7" cy="1679.1" r="2.75"/><circle cx="1744.7" cy="1700.5" r="2.75"/><circle cx="1748.7" cy="1653.7" r="2.75"/><circle cx="1752.7" cy="1714.7" r="2.75"/><circle cx="1756.3" cy="1694.0" r="2.75"/><circle cx="1756.7" cy="1697.7" r="2.75"/><circle cx="1765.6" cy="1646.4" r="2.75"/><circle cx="1771.8" cy="1638.5" r="2.75"/><circle cx="1775.1" cy="1646.5" r="2.75"/><circle cx="1775.2" cy="1613.0" r="2.75"/><circle cx="1779.5" cy="1649.4" r="2.75"/><circle cx="1782.4" cy="1641.2" r="2.75"/><circle cx="1784.0" cy="1681.4" r="2.75"/><circle cx="1785.2" cy="1630.2" r="2.75"/><circle cx="1785.5" cy="1656.5" r="2.75"/><circle cx="1786.9" cy="1676.4" r="2.75"/><circle cx="1789.0" cy="1632.8" r="2.75"/><circle cx="1791.5" cy="1640.0" r="2.75"/><circle cx="1794.4" cy="1651.9" r="2.75"/><circle cx="1794.6" cy="1644.3" r="2.75"/><circle cx="1794.8" cy="1585.9" r="2.75"/><circle cx="1795.8" cy="1661.9" r="2.75"/><circle cx="1797.1" cy="1653.5" r="2.75"/><circle cx="1801.1" cy="1589.8" r="2.75"/><circle cx="1801.4" cy="1647.5" r="2.75"/><circle cx="1803.1" cy="1687.7" r="2.75"/><circle cx="1803.9" cy="1656.6" r="2.75"/><circle cx="1803.9" cy="1618.7" r="2.75"/><circle cx="1804.6" cy="1598.2" r="2.75"/><circle cx="1805.1" cy="1655.2" r="2.75"/><circle cx="1808.2" cy="1671.1" r="2.75"/><circle cx="1809.0" cy="1622.9" r="2.75"/><circle cx="1811.1" cy="1663.8" r="2.75"/><circle cx="1813.7" cy="1636.9" r="2.75"/><circle cx="1813.8" cy="1646.9" r="2.75"/><circle cx="1814.6" cy="1631.7" r="2.75"/><circle cx="1816.6" cy="1680.3" r="2.75"/><circle cx="1817.5" cy="1617.5" r="2.75"/><circle cx="1817.6" cy="1657.9" r="2.75"/><circle cx="1818.8" cy="1601.4" r="2.75"/><circle cx="1820.0" cy="1614.3" r="2.75"/><circle cx="1820.1" cy="1649.3" r="2.75"/><circle cx="1820.3" cy="1657.7" r="2.75"/><circle cx="1821.0" cy="1637.9" r="2.75"/><circle cx="1822.3" cy="1644.3" r="2.75"/><circle cx="1823.0" cy="1652.8" r="2.75"/><circle cx="1823.4" cy="1587.7" r="2.75"/><circle cx="1823.7" cy="1607.6" r="2.75"/><circle cx="1823.7" cy="1658.9" r="2.75"/><circle cx="1824.0" cy="1617.8" r="2.75"/><circle cx="1824.4" cy="1631.1" r="2.75"/><circle cx="1825.8" cy="1611.6" r="2.75"/><circle cx="1826.3" cy="1647.0" r="2.75"/><circle cx="1826.5" cy="1577.2" r="2.75"/><circle cx="1826.9" cy="1670.3" r="2.75"/><circle cx="1827.0" cy="1580.3" r="2.75"/><circle cx="1827.2" cy="1551.1" r="2.75"/><circle cx="1828.6" cy="1595.7" r="2.75"/><circle cx="1829.3" cy="1631.7" r="2.75"/><circle cx="1829.5" cy="1587.3" r="2.75"/><circle cx="1829.6" cy="1633.4" r="2.75"/><circle cx="1830.8" cy="1654.9" r="2.75"/><circle cx="1832.1" cy="1654.4" r="2.75"/><circle cx="1832.1" cy="1643.4" r="2.75"/><circle cx="1832.2" cy="1612.4" r="2.75"/><circle cx="1832.5" cy="1633.1" r="2.75"/><circle cx="1832.8" cy="1624.2" r="2.75"/><circle cx="1832.9" cy="1600.6" r="2.75"/><circle cx="1834.1" cy="1585.6" r="2.75"/><circle cx="1834.6" cy="1580.9" r="2.75"/><circle cx="1834.7" cy="1612.7" r="2.75"/><circle cx="1834.8" cy="1581.2" r="2.75"/><circle cx="1835.1" cy="1641.5" r="2.75"/><circle cx="1835.1" cy="1640.1" r="2.75"/><circle cx="1835.4" cy="1615.8" r="2.75"/><circle cx="1835.5" cy="1620.0" r="2.75"/><circle cx="1837.7" cy="1666.9" r="2.75"/><circle cx="1837.7" cy="1626.4" r="2.75"/><circle cx="1837.9" cy="1615.1" r="2.75"/><circle cx="1839.4" cy="1601.0" r="2.75"/><circle cx="1839.5" cy="1644.0" r="2.75"/><circle cx="1839.7" cy="1666.4" r="2.75"/><circle cx="1840.1" cy="1651.1" r="2.75"/><circle cx="1840.5" cy="1618.8" r="2.75"/><circle cx="1840.5" cy="1642.9" r="2.75"/><circle cx="1840.9" cy="1644.1" r="2.75"/><circle cx="1842.1" cy="1604.5" r="2.75"/><circle cx="1842.1" cy="1612.0" r="2.75"/><circle cx="1842.3" cy="1631.9" r="2.75"/><circle cx="1842.8" cy="1568.5" r="2.75"/><circle cx="1843.4" cy="1585.6" r="2.75"/><circle cx="1844.0" cy="1613.8" r="2.75"/><circle cx="1844.0" cy="1604.2" r="2.75"/><circle cx="1844.4" cy="1619.3" r="2.75"/><circle cx="1844.6" cy="1582.5" r="2.75"/><circle cx="1844.7" cy="1651.8" r="2.75"/><circle cx="1845.3" cy="1648.9" r="2.75"/><circle cx="1845.4" cy="1633.5" r="2.75"/><circle cx="1845.6" cy="1565.8" r="2.75"/><circle cx="1845.6" cy="1582.1" r="2.75"/><circle cx="1845.7" cy="1648.1" r="2.75"/><circle cx="1846.0" cy="1631.9" r="2.75"/><circle cx="1846.3" cy="1642.7" r="2.75"/><circle cx="1846.4" cy="1610.1" r="2.75"/><circle cx="1846.7" cy="1629.9" r="2.75"/><circle cx="1846.7" cy="1632.4" r="2.75"/><circle cx="1847.0" cy="1661.3" r="2.75"/><circle cx="1847.1" cy="1604.5" r="2.75"/><circle cx="1847.1" cy="1588.7" r="2.75"/><circle cx="1847.2" cy="1658.2" r="2.75"/><circle cx="1847.8" cy="1666.4" r="2.75"/><circle cx="1847.8" cy="1650.8" r="2.75"/><circle cx="1847.9" cy="1666.1" r="2.75"/><circle cx="1848.5" cy="1608.5" r="2.75"/><circle cx="1848.5" cy="1648.1" r="2.75"/><circle cx="1848.7" cy="1600.5" r="2.75"/><circle cx="1848.8" cy="1627.6" r="2.75"/><circle cx="1848.9" cy="1615.6" r="2.75"/><circle cx="1849.3" cy="1602.2" r="2.75"/><circle cx="1849.5" cy="1623.8" r="2.75"/><circle cx="1849.6" cy="1643.9" r="2.75"/><circle cx="1849.9" cy="1595.6" r="2.75"/><circle cx="1850.0" cy="1655.1" r="2.75"/><circle cx="1850.6" cy="1582.9" r="2.75"/><circle cx="1851.0" cy="1633.1" r="2.75"/><circle cx="1852.3" cy="1630.4" r="2.75"/><circle cx="1852.4" cy="1607.3" r="2.75"/><circle cx="1852.4" cy="1606.7" r="2.75"/><circle cx="1852.7" cy="1604.4" r="2.75"/><circle cx="1853.4" cy="1653.4" r="2.75"/><circle cx="1853.5" cy="1638.7" r="2.75"/><circle cx="1853.7" cy="1608.0" r="2.75"/><circle cx="1853.7" cy="1607.3" r="2.75"/><circle cx="1854.0" cy="1618.7" r="2.75"/><circle cx="1854.0" cy="1584.0" r="2.75"/><circle cx="1854.7" cy="1620.4" r="2.75"/><circle cx="1854.8" cy="1592.5" r="2.75"/><circle cx="1854.9" cy="1588.8" r="2.75"/><circle cx="1855.0" cy="1602.2" r="2.75"/><circle cx="1855.0" cy="1620.7" r="2.75"/><circle cx="1855.1" cy="1597.3" r="2.75"/><circle cx="1855.5" cy="1604.4" r="2.75"/><circle cx="1855.5" cy="1600.1" r="2.75"/><circle cx="1855.6" cy="1637.1" r="2.75"/><circle cx="1855.7" cy="1674.3" r="2.75"/><circle cx="1856.4" cy="1575.3" r="2.75"/><circle cx="1856.9" cy="1621.9" r="2.75"/><circle cx="1857.3" cy="1611.2" r="2.75"/><circle cx="1857.7" cy="1620.4" r="2.75"/><circle cx="1857.7" cy="1592.4" r="2.75"/><circle cx="1857.8" cy="1665.8" r="2.75"/><circle cx="1858.0" cy="1574.5" r="2.75"/><circle cx="1858.2" cy="1601.4" r="2.75"/><circle cx="1858.3" cy="1619.8" r="2.75"/><circle cx="1858.9" cy="1607.0" r="2.75"/><circle cx="1859.0" cy="1611.3" r="2.75"/><circle cx="1859.3" cy="1604.3" r="2.75"/><circle cx="1859.4" cy="1596.8" r="2.75"/><circle cx="1859.7" cy="1583.4" r="2.75"/><circle cx="1860.4" cy="1608.8" r="2.75"/><circle cx="1861.5" cy="1593.9" r="2.75"/><circle cx="1861.7" cy="1575.6" r="2.75"/><circle cx="1861.9" cy="1598.2" r="2.75"/><circle cx="1862.8" cy="1627.2" r="2.75"/><circle cx="1863.1" cy="1592.4" r="2.75"/><circle cx="1863.1" cy="1560.8" r="2.75"/><circle cx="1863.9" cy="1619.1" r="2.75"/><circle cx="1864.5" cy="1597.5" r="2.75"/><circle cx="1864.7" cy="1600.1" r="2.75"/><circle cx="1865.1" cy="1588.5" r="2.75"/><circle cx="1865.4" cy="1620.6" r="2.75"/><circle cx="1865.8" cy="1610.7" r="2.75"/><circle cx="1865.9" cy="1561.5" r="2.75"/><circle cx="1866.4" cy="1592.6" r="2.75"/><circle cx="1866.7" cy="1625.1" r="2.75"/><circle cx="1866.9" cy="1590.0" r="2.75"/><circle cx="1866.9" cy="1608.0" r="2.75"/><circle cx="1866.9" cy="1571.4" r="2.75"/><circle cx="1867.0" cy="1649.6" r="2.75"/><circle cx="1867.0" cy="1623.3" r="2.75"/><circle cx="1867.2" cy="1585.0" r="2.75"/><circle cx="1867.3" cy="1640.9" r="2.75"/><circle cx="1867.4" cy="1638.5" r="2.75"/><circle cx="1867.4" cy="1597.5" r="2.75"/><circle cx="1867.4" cy="1608.4" r="2.75"/><circle cx="1867.5" cy="1616.8" r="2.75"/><circle cx="1867.6" cy="1601.6" r="2.75"/><circle cx="1867.8" cy="1581.3" r="2.75"/><circle cx="1868.5" cy="1591.1" r="2.75"/><circle cx="1868.6" cy="1565.8" r="2.75"/><circle cx="1868.7" cy="1624.7" r="2.75"/><circle cx="1869.1" cy="1536.6" r="2.75"/><circle cx="1869.2" cy="1609.7" r="2.75"/><circle cx="1869.3" cy="1587.0" r="2.75"/><circle cx="1869.3" cy="1600.2" r="2.75"/><circle cx="1869.3" cy="1598.3" r="2.75"/><circle cx="1869.5" cy="1579.4" r="2.75"/><circle cx="1869.9" cy="1591.5" r="2.75"/><circle cx="1870.5" cy="1649.9" r="2.75"/><circle cx="1870.7" cy="1624.0" r="2.75"/><circle cx="1870.7" cy="1572.3" r="2.75"/><circle cx="1870.9" cy="1581.3" r="2.75"/><circle cx="1870.9" cy="1613.2" r="2.75"/><circle cx="1871.1" cy="1637.7" r="2.75"/><circle cx="1871.4" cy="1624.9" r="2.75"/><circle cx="1871.6" cy="1555.7" r="2.75"/><circle cx="1871.8" cy="1577.4" r="2.75"/><circle cx="1871.9" cy="1602.2" r="2.75"/><circle cx="1872.0" cy="1672.2" r="2.75"/><circle cx="1872.0" cy="1627.2" r="2.75"/><circle cx="1872.0" cy="1616.3" r="2.75"/><circle cx="1872.1" cy="1640.5" r="2.75"/><circle cx="1872.4" cy="1604.0" r="2.75"/><circle cx="1872.7" cy="1633.7" r="2.75"/><circle cx="1873.0" cy="1594.8" r="2.75"/><circle cx="1873.2" cy="1611.9" r="2.75"/><circle cx="1873.6" cy="1620.1" r="2.75"/><circle cx="1873.7" cy="1590.0" r="2.75"/><circle cx="1873.8" cy="1595.1" r="2.75"/><circle cx="1874.1" cy="1602.7" r="2.75"/><circle cx="1874.5" cy="1614.8" r="2.75"/><circle cx="1874.7" cy="1606.9" r="2.75"/><circle cx="1874.9" cy="1641.5" r="2.75"/><circle cx="1875.1" cy="1653.9" r="2.75"/><circle cx="1875.1" cy="1622.2" r="2.75"/><circle cx="1875.5" cy="1601.9" r="2.75"/><circle cx="1875.5" cy="1561.8" r="2.75"/><circle cx="1875.9" cy="1595.3" r="2.75"/><circle cx="1876.2" cy="1629.4" r="2.75"/><circle cx="1876.3" cy="1616.9" r="2.75"/><circle cx="1876.9" cy="1611.9" r="2.75"/><circle cx="1877.4" cy="1605.5" r="2.75"/><circle cx="1877.5" cy="1606.6" r="2.75"/><circle cx="1877.7" cy="1600.4" r="2.75"/><circle cx="1877.7" cy="1597.6" r="2.75"/><circle cx="1877.7" cy="1578.6" r="2.75"/><circle cx="1877.8" cy="1587.4" r="2.75"/><circle cx="1878.1" cy="1632.6" r="2.75"/><circle cx="1879.0" cy="1550.3" r="2.75"/><circle cx="1879.2" cy="1628.5" r="2.75"/><circle cx="1879.3" cy="1594.0" r="2.75"/><circle cx="1879.5" cy="1601.0" r="2.75"/><circle cx="1879.6" cy="1561.9" r="2.75"/><circle cx="1879.7" cy="1605.8" r="2.75"/><circle cx="1879.9" cy="1605.5" r="2.75"/><circle cx="1880.0" cy="1609.9" r="2.75"/><circle cx="1880.1" cy="1581.9" r="2.75"/><circle cx="1880.2" cy="1595.3" r="2.75"/><circle cx="1880.4" cy="1609.4" r="2.75"/><circle cx="1880.5" cy="1582.3" r="2.75"/><circle cx="1880.5" cy="1550.9" r="2.75"/><circle cx="1880.9" cy="1562.5" r="2.75"/><circle cx="1881.1" cy="1565.5" r="2.75"/><circle cx="1881.4" cy="1615.5" r="2.75"/><circle cx="1881.6" cy="1604.5" r="2.75"/><circle cx="1881.7" cy="1598.2" r="2.75"/><circle cx="1882.0" cy="1643.9" r="2.75"/><circle cx="1882.4" cy="1559.4" r="2.75"/><circle cx="1882.5" cy="1637.1" r="2.75"/><circle cx="1882.5" cy="1591.8" r="2.75"/><circle cx="1882.6" cy="1632.0" r="2.75"/><circle cx="1883.6" cy="1598.1" r="2.75"/><circle cx="1884.4" cy="1580.4" r="2.75"/><circle cx="1884.5" cy="1587.8" r="2.75"/><circle cx="1884.9" cy="1655.8" r="2.75"/><circle cx="1884.9" cy="1616.5" r="2.75"/><circle cx="1885.0" cy="1557.7" r="2.75"/><circle cx="1885.1" cy="1602.0" r="2.75"/><circle cx="1885.7" cy="1597.2" r="2.75"/><circle cx="1885.8" cy="1619.0" r="2.75"/><circle cx="1885.9" cy="1618.6" r="2.75"/><circle cx="1885.9" cy="1554.4" r="2.75"/><circle cx="1886.0" cy="1568.9" r="2.75"/><circle cx="1886.0" cy="1556.0" r="2.75"/><circle cx="1886.0" cy="1583.0" r="2.75"/><circle cx="1886.2" cy="1617.8" r="2.75"/><circle cx="1886.4" cy="1575.9" r="2.75"/><circle cx="1886.6" cy="1553.5" r="2.75"/><circle cx="1886.7" cy="1623.8" r="2.75"/><circle cx="1887.2" cy="1617.0" r="2.75"/><circle cx="1887.5" cy="1602.8" r="2.75"/><circle cx="1888.9" cy="1608.5" r="2.75"/><circle cx="1889.4" cy="1648.3" r="2.75"/><circle cx="1889.4" cy="1656.3" r="2.75"/><circle cx="1890.0" cy="1630.0" r="2.75"/><circle cx="1890.6" cy="1613.1" r="2.75"/><circle cx="1890.9" cy="1586.8" r="2.75"/><circle cx="1890.9" cy="1610.4" r="2.75"/><circle cx="1891.0" cy="1593.0" r="2.75"/><circle cx="1891.4" cy="1563.6" r="2.75"/><circle cx="1891.5" cy="1523.6" r="2.75"/><circle cx="1891.6" cy="1596.3" r="2.75"/><circle cx="1891.8" cy="1622.3" r="2.75"/><circle cx="1892.0" cy="1572.5" r="2.75"/><circle cx="1892.3" cy="1596.8" r="2.75"/><circle cx="1892.8" cy="1566.2" r="2.75"/><circle cx="1892.9" cy="1572.8" r="2.75"/><circle cx="1893.9" cy="1576.9" r="2.75"/><circle cx="1894.1" cy="1628.1" r="2.75"/><circle cx="1894.4" cy="1623.7" r="2.75"/><circle cx="1894.6" cy="1589.1" r="2.75"/><circle cx="1895.5" cy="1577.9" r="2.75"/><circle cx="1896.5" cy="1543.0" r="2.75"/><circle cx="1897.4" cy="1579.5" r="2.75"/><circle cx="1897.5" cy="1603.2" r="2.75"/><circle cx="1897.6" cy="1606.1" r="2.75"/><circle cx="1898.2" cy="1611.4" r="2.75"/><circle cx="1898.7" cy="1625.5" r="2.75"/><circle cx="1899.1" cy="1625.5" r="2.75"/><circle cx="1899.5" cy="1606.9" r="2.75"/><circle cx="1900.8" cy="1590.3" r="2.75"/><circle cx="1900.9" cy="1611.5" r="2.75"/><circle cx="1901.0" cy="1592.2" r="2.75"/><circle cx="1901.2" cy="1599.4" r="2.75"/><circle cx="1901.2" cy="1598.1" r="2.75"/><circle cx="1901.6" cy="1603.0" r="2.75"/><circle cx="1901.9" cy="1585.1" r="2.75"/><circle cx="1902.8" cy="1652.4" r="2.75"/><circle cx="1903.8" cy="1656.2" r="2.75"/><circle cx="1904.3" cy="1584.5" r="2.75"/><circle cx="1904.6" cy="1588.2" r="2.75"/><circle cx="1905.7" cy="1605.2" r="2.75"/><circle cx="1906.3" cy="1626.5" r="2.75"/><circle cx="1906.4" cy="1607.0" r="2.75"/><circle cx="1906.8" cy="1586.7" r="2.75"/><circle cx="1906.9" cy="1611.2" r="2.75"/><circle cx="1907.7" cy="1535.3" r="2.75"/><circle cx="1907.8" cy="1580.7" r="2.75"/><circle cx="1909.1" cy="1624.2" r="2.75"/><circle cx="1909.4" cy="1614.7" r="2.75"/><circle cx="1909.9" cy="1571.0" r="2.75"/><circle cx="1910.5" cy="1578.0" r="2.75"/><circle cx="1913.0" cy="1583.3" r="2.75"/><circle cx="1913.0" cy="1614.5" r="2.75"/><circle cx="1913.5" cy="1603.2" r="2.75"/><circle cx="1913.8" cy="1582.3" r="2.75"/><circle cx="1913.9" cy="1579.0" r="2.75"/><circle cx="1915.1" cy="1586.1" r="2.75"/><circle cx="1928.4" cy="1599.4" r="2.75"/><circle cx="1938.9" cy="1579.5" r="2.75"/></g>
<g fill="#FBD393" stroke="#F59C1C" stroke-width="2.2"><circle cx="1654.9" cy="1608.4" r="2.75"/><circle cx="1687.3" cy="1623.5" r="2.75"/><circle cx="1695.0" cy="1634.2" r="2.75"/><circle cx="1706.3" cy="1639.3" r="2.75"/><circle cx="1716.5" cy="1644.1" r="2.75"/><circle cx="1728.4" cy="1644.9" r="2.75"/><circle cx="1731.7" cy="1640.1" r="2.75"/><circle cx="1744.7" cy="1624.8" r="2.75"/><circle cx="1748.7" cy="1637.3" r="2.75"/><circle cx="1752.7" cy="1640.5" r="2.75"/><circle cx="1756.3" cy="1635.7" r="2.75"/><circle cx="1756.7" cy="1643.3" r="2.75"/><circle cx="1765.6" cy="1654.0" r="2.75"/><circle cx="1771.8" cy="1657.1" r="2.75"/><circle cx="1775.1" cy="1627.5" r="2.75"/><circle cx="1775.2" cy="1645.1" r="2.75"/><circle cx="1779.5" cy="1626.1" r="2.75"/><circle cx="1782.4" cy="1623.4" r="2.75"/><circle cx="1784.0" cy="1640.3" r="2.75"/><circle cx="1785.2" cy="1635.3" r="2.75"/><circle cx="1785.5" cy="1647.0" r="2.75"/><circle cx="1786.9" cy="1644.8" r="2.75"/><circle cx="1789.0" cy="1642.9" r="2.75"/><circle cx="1791.5" cy="1644.1" r="2.75"/><circle cx="1794.4" cy="1640.1" r="2.75"/><circle cx="1794.6" cy="1668.8" r="2.75"/><circle cx="1794.8" cy="1635.1" r="2.75"/><circle cx="1795.8" cy="1643.2" r="2.75"/><circle cx="1797.1" cy="1638.1" r="2.75"/><circle cx="1801.1" cy="1631.2" r="2.75"/><circle cx="1801.4" cy="1661.2" r="2.75"/><circle cx="1803.1" cy="1633.2" r="2.75"/><circle cx="1803.9" cy="1651.9" r="2.75"/><circle cx="1803.9" cy="1643.3" r="2.75"/><circle cx="1804.6" cy="1649.0" r="2.75"/><circle cx="1805.1" cy="1650.5" r="2.75"/><circle cx="1808.2" cy="1660.0" r="2.75"/><circle cx="1809.0" cy="1673.7" r="2.75"/><circle cx="1811.1" cy="1634.8" r="2.75"/><circle cx="1813.7" cy="1637.5" r="2.75"/><circle cx="1813.8" cy="1649.0" r="2.75"/><circle cx="1814.6" cy="1666.0" r="2.75"/><circle cx="1816.6" cy="1639.8" r="2.75"/><circle cx="1817.5" cy="1630.5" r="2.75"/><circle cx="1817.6" cy="1642.4" r="2.75"/><circle cx="1818.8" cy="1665.0" r="2.75"/><circle cx="1820.0" cy="1652.7" r="2.75"/><circle cx="1820.1" cy="1644.5" r="2.75"/><circle cx="1820.3" cy="1648.0" r="2.75"/><circle cx="1821.0" cy="1635.7" r="2.75"/><circle cx="1822.3" cy="1657.6" r="2.75"/><circle cx="1823.0" cy="1654.3" r="2.75"/><circle cx="1823.4" cy="1673.7" r="2.75"/><circle cx="1823.7" cy="1656.9" r="2.75"/><circle cx="1823.7" cy="1641.0" r="2.75"/><circle cx="1824.0" cy="1652.3" r="2.75"/><circle cx="1824.4" cy="1667.4" r="2.75"/><circle cx="1825.8" cy="1638.9" r="2.75"/><circle cx="1826.3" cy="1662.9" r="2.75"/><circle cx="1826.5" cy="1661.5" r="2.75"/><circle cx="1826.9" cy="1668.4" r="2.75"/><circle cx="1827.0" cy="1663.1" r="2.75"/><circle cx="1827.2" cy="1658.2" r="2.75"/><circle cx="1828.6" cy="1659.9" r="2.75"/><circle cx="1829.3" cy="1636.9" r="2.75"/><circle cx="1829.5" cy="1641.0" r="2.75"/><circle cx="1829.6" cy="1647.7" r="2.75"/><circle cx="1830.8" cy="1654.7" r="2.75"/><circle cx="1832.1" cy="1649.3" r="2.75"/><circle cx="1832.1" cy="1662.8" r="2.75"/><circle cx="1832.2" cy="1644.7" r="2.75"/><circle cx="1832.5" cy="1658.8" r="2.75"/><circle cx="1832.8" cy="1654.4" r="2.75"/><circle cx="1832.9" cy="1645.4" r="2.75"/><circle cx="1834.1" cy="1658.4" r="2.75"/><circle cx="1834.6" cy="1663.9" r="2.75"/><circle cx="1834.7" cy="1622.2" r="2.75"/><circle cx="1834.8" cy="1667.5" r="2.75"/><circle cx="1835.1" cy="1662.8" r="2.75"/><circle cx="1835.1" cy="1661.7" r="2.75"/><circle cx="1835.4" cy="1644.5" r="2.75"/><circle cx="1835.5" cy="1650.8" r="2.75"/><circle cx="1837.7" cy="1683.7" r="2.75"/><circle cx="1837.7" cy="1654.9" r="2.75"/><circle cx="1837.9" cy="1634.7" r="2.75"/><circle cx="1839.4" cy="1637.1" r="2.75"/><circle cx="1839.5" cy="1640.4" r="2.75"/><circle cx="1839.7" cy="1650.7" r="2.75"/><circle cx="1840.1" cy="1647.5" r="2.75"/><circle cx="1840.5" cy="1655.8" r="2.75"/><circle cx="1840.5" cy="1667.7" r="2.75"/><circle cx="1840.9" cy="1646.2" r="2.75"/><circle cx="1842.1" cy="1638.6" r="2.75"/><circle cx="1842.1" cy="1646.9" r="2.75"/><circle cx="1842.3" cy="1650.4" r="2.75"/><circle cx="1842.8" cy="1641.0" r="2.75"/><circle cx="1843.4" cy="1653.1" r="2.75"/><circle cx="1844.0" cy="1638.4" r="2.75"/><circle cx="1844.0" cy="1654.8" r="2.75"/><circle cx="1844.4" cy="1669.5" r="2.75"/><circle cx="1844.6" cy="1645.2" r="2.75"/><circle cx="1844.7" cy="1640.9" r="2.75"/><circle cx="1845.3" cy="1658.8" r="2.75"/><circle cx="1845.4" cy="1648.0" r="2.75"/><circle cx="1845.6" cy="1642.8" r="2.75"/><circle cx="1845.6" cy="1679.6" r="2.75"/><circle cx="1845.7" cy="1624.3" r="2.75"/><circle cx="1846.0" cy="1644.1" r="2.75"/><circle cx="1846.3" cy="1652.7" r="2.75"/><circle cx="1846.4" cy="1663.0" r="2.75"/><circle cx="1846.7" cy="1667.5" r="2.75"/><circle cx="1846.7" cy="1634.7" r="2.75"/><circle cx="1847.0" cy="1654.2" r="2.75"/><circle cx="1847.1" cy="1643.2" r="2.75"/><circle cx="1847.1" cy="1657.7" r="2.75"/><circle cx="1847.2" cy="1654.2" r="2.75"/><circle cx="1847.8" cy="1649.5" r="2.75"/><circle cx="1847.8" cy="1660.9" r="2.75"/><circle cx="1847.9" cy="1651.6" r="2.75"/><circle cx="1848.5" cy="1653.0" r="2.75"/><circle cx="1848.5" cy="1645.7" r="2.75"/><circle cx="1848.7" cy="1641.7" r="2.75"/><circle cx="1848.8" cy="1652.8" r="2.75"/><circle cx="1848.9" cy="1635.9" r="2.75"/><circle cx="1849.3" cy="1656.1" r="2.75"/><circle cx="1849.5" cy="1645.1" r="2.75"/><circle cx="1849.6" cy="1638.3" r="2.75"/><circle cx="1849.9" cy="1653.8" r="2.75"/><circle cx="1850.0" cy="1642.7" r="2.75"/><circle cx="1850.6" cy="1681.7" r="2.75"/><circle cx="1851.0" cy="1670.2" r="2.75"/><circle cx="1852.3" cy="1652.7" r="2.75"/><circle cx="1852.4" cy="1636.2" r="2.75"/><circle cx="1852.4" cy="1642.5" r="2.75"/><circle cx="1852.7" cy="1658.8" r="2.75"/><circle cx="1853.4" cy="1647.2" r="2.75"/><circle cx="1853.5" cy="1670.4" r="2.75"/><circle cx="1853.7" cy="1654.7" r="2.75"/><circle cx="1853.7" cy="1635.5" r="2.75"/><circle cx="1854.0" cy="1644.5" r="2.75"/><circle cx="1854.0" cy="1628.5" r="2.75"/><circle cx="1854.7" cy="1656.8" r="2.75"/><circle cx="1854.8" cy="1639.1" r="2.75"/><circle cx="1854.9" cy="1650.4" r="2.75"/><circle cx="1855.0" cy="1648.1" r="2.75"/><circle cx="1855.0" cy="1648.8" r="2.75"/><circle cx="1855.1" cy="1643.3" r="2.75"/><circle cx="1855.5" cy="1637.3" r="2.75"/><circle cx="1855.5" cy="1650.9" r="2.75"/><circle cx="1855.6" cy="1647.5" r="2.75"/><circle cx="1855.7" cy="1652.7" r="2.75"/><circle cx="1856.4" cy="1648.6" r="2.75"/><circle cx="1856.9" cy="1660.4" r="2.75"/><circle cx="1857.3" cy="1668.9" r="2.75"/><circle cx="1857.7" cy="1644.2" r="2.75"/><circle cx="1857.7" cy="1648.3" r="2.75"/><circle cx="1857.8" cy="1651.9" r="2.75"/><circle cx="1858.0" cy="1658.9" r="2.75"/><circle cx="1858.2" cy="1662.0" r="2.75"/><circle cx="1858.3" cy="1663.8" r="2.75"/><circle cx="1858.9" cy="1634.7" r="2.75"/><circle cx="1859.0" cy="1636.9" r="2.75"/><circle cx="1859.3" cy="1621.8" r="2.75"/><circle cx="1859.4" cy="1668.8" r="2.75"/><circle cx="1859.7" cy="1642.5" r="2.75"/><circle cx="1860.4" cy="1637.6" r="2.75"/><circle cx="1861.5" cy="1634.2" r="2.75"/><circle cx="1861.7" cy="1643.0" r="2.75"/><circle cx="1861.9" cy="1629.4" r="2.75"/><circle cx="1862.8" cy="1661.7" r="2.75"/><circle cx="1863.1" cy="1647.5" r="2.75"/><circle cx="1863.1" cy="1659.1" r="2.75"/><circle cx="1863.9" cy="1628.4" r="2.75"/><circle cx="1864.5" cy="1647.7" r="2.75"/><circle cx="1864.7" cy="1647.8" r="2.75"/><circle cx="1865.1" cy="1648.3" r="2.75"/><circle cx="1865.4" cy="1659.7" r="2.75"/><circle cx="1865.8" cy="1653.0" r="2.75"/><circle cx="1865.9" cy="1676.9" r="2.75"/><circle cx="1866.4" cy="1677.3" r="2.75"/><circle cx="1866.7" cy="1663.2" r="2.75"/><circle cx="1866.9" cy="1643.9" r="2.75"/><circle cx="1866.9" cy="1638.0" r="2.75"/><circle cx="1866.9" cy="1649.4" r="2.75"/><circle cx="1867.0" cy="1663.4" r="2.75"/><circle cx="1867.0" cy="1664.2" r="2.75"/><circle cx="1867.2" cy="1644.4" r="2.75"/><circle cx="1867.3" cy="1655.2" r="2.75"/><circle cx="1867.4" cy="1655.2" r="2.75"/><circle cx="1867.4" cy="1664.0" r="2.75"/><circle cx="1867.4" cy="1649.7" r="2.75"/><circle cx="1867.5" cy="1650.1" r="2.75"/><circle cx="1867.6" cy="1643.7" r="2.75"/><circle cx="1867.8" cy="1662.4" r="2.75"/><circle cx="1868.5" cy="1652.7" r="2.75"/><circle cx="1868.6" cy="1667.7" r="2.75"/><circle cx="1868.7" cy="1650.0" r="2.75"/><circle cx="1869.1" cy="1652.4" r="2.75"/><circle cx="1869.2" cy="1656.4" r="2.75"/><circle cx="1869.3" cy="1642.8" r="2.75"/><circle cx="1869.3" cy="1666.1" r="2.75"/><circle cx="1869.3" cy="1635.7" r="2.75"/><circle cx="1869.5" cy="1644.2" r="2.75"/><circle cx="1869.9" cy="1646.3" r="2.75"/><circle cx="1870.5" cy="1649.6" r="2.75"/><circle cx="1870.7" cy="1660.1" r="2.75"/><circle cx="1870.7" cy="1658.6" r="2.75"/><circle cx="1870.9" cy="1642.3" r="2.75"/><circle cx="1870.9" cy="1652.7" r="2.75"/><circle cx="1871.1" cy="1649.2" r="2.75"/><circle cx="1871.4" cy="1656.3" r="2.75"/><circle cx="1871.6" cy="1643.5" r="2.75"/><circle cx="1871.8" cy="1645.6" r="2.75"/><circle cx="1871.9" cy="1666.6" r="2.75"/><circle cx="1872.0" cy="1631.6" r="2.75"/><circle cx="1872.0" cy="1641.4" r="2.75"/><circle cx="1872.0" cy="1643.7" r="2.75"/><circle cx="1872.1" cy="1649.1" r="2.75"/><circle cx="1872.4" cy="1653.3" r="2.75"/><circle cx="1872.7" cy="1643.5" r="2.75"/><circle cx="1873.0" cy="1625.0" r="2.75"/><circle cx="1873.2" cy="1653.7" r="2.75"/><circle cx="1873.6" cy="1664.6" r="2.75"/><circle cx="1873.7" cy="1653.1" r="2.75"/><circle cx="1873.8" cy="1652.0" r="2.75"/><circle cx="1874.1" cy="1642.6" r="2.75"/><circle cx="1874.5" cy="1666.1" r="2.75"/><circle cx="1874.7" cy="1657.7" r="2.75"/><circle cx="1874.9" cy="1656.4" r="2.75"/><circle cx="1875.1" cy="1642.5" r="2.75"/><circle cx="1875.1" cy="1641.1" r="2.75"/><circle cx="1875.5" cy="1650.9" r="2.75"/><circle cx="1875.5" cy="1641.6" r="2.75"/><circle cx="1875.9" cy="1652.0" r="2.75"/><circle cx="1876.2" cy="1652.1" r="2.75"/><circle cx="1876.3" cy="1688.2" r="2.75"/><circle cx="1876.9" cy="1665.3" r="2.75"/><circle cx="1877.4" cy="1665.5" r="2.75"/><circle cx="1877.5" cy="1648.6" r="2.75"/><circle cx="1877.7" cy="1652.6" r="2.75"/><circle cx="1877.7" cy="1665.1" r="2.75"/><circle cx="1877.7" cy="1653.1" r="2.75"/><circle cx="1877.8" cy="1654.9" r="2.75"/><circle cx="1878.1" cy="1649.5" r="2.75"/><circle cx="1879.0" cy="1659.7" r="2.75"/><circle cx="1879.2" cy="1661.5" r="2.75"/><circle cx="1879.3" cy="1640.8" r="2.75"/><circle cx="1879.5" cy="1649.2" r="2.75"/><circle cx="1879.6" cy="1643.0" r="2.75"/><circle cx="1879.7" cy="1663.4" r="2.75"/><circle cx="1879.9" cy="1656.4" r="2.75"/><circle cx="1880.0" cy="1657.4" r="2.75"/><circle cx="1880.1" cy="1664.4" r="2.75"/><circle cx="1880.2" cy="1646.4" r="2.75"/><circle cx="1880.4" cy="1668.4" r="2.75"/><circle cx="1880.5" cy="1651.5" r="2.75"/><circle cx="1880.5" cy="1676.9" r="2.75"/><circle cx="1880.9" cy="1646.8" r="2.75"/><circle cx="1881.1" cy="1653.7" r="2.75"/><circle cx="1881.4" cy="1642.2" r="2.75"/><circle cx="1881.6" cy="1632.7" r="2.75"/><circle cx="1881.7" cy="1661.5" r="2.75"/><circle cx="1882.0" cy="1654.2" r="2.75"/><circle cx="1882.4" cy="1668.1" r="2.75"/><circle cx="1882.5" cy="1647.4" r="2.75"/><circle cx="1882.5" cy="1653.7" r="2.75"/><circle cx="1882.6" cy="1654.0" r="2.75"/><circle cx="1883.6" cy="1646.1" r="2.75"/><circle cx="1884.4" cy="1649.3" r="2.75"/><circle cx="1884.5" cy="1644.2" r="2.75"/><circle cx="1884.9" cy="1661.9" r="2.75"/><circle cx="1884.9" cy="1643.5" r="2.75"/><circle cx="1885.0" cy="1665.8" r="2.75"/><circle cx="1885.1" cy="1656.5" r="2.75"/><circle cx="1885.7" cy="1683.9" r="2.75"/><circle cx="1885.8" cy="1656.0" r="2.75"/><circle cx="1885.9" cy="1639.1" r="2.75"/><circle cx="1885.9" cy="1659.8" r="2.75"/><circle cx="1886.0" cy="1659.2" r="2.75"/><circle cx="1886.0" cy="1673.0" r="2.75"/><circle cx="1886.0" cy="1661.8" r="2.75"/><circle cx="1886.2" cy="1690.1" r="2.75"/><circle cx="1886.4" cy="1652.6" r="2.75"/><circle cx="1886.6" cy="1650.1" r="2.75"/><circle cx="1886.7" cy="1659.7" r="2.75"/><circle cx="1887.2" cy="1656.6" r="2.75"/><circle cx="1887.5" cy="1651.3" r="2.75"/><circle cx="1888.9" cy="1664.7" r="2.75"/><circle cx="1889.4" cy="1626.0" r="2.75"/><circle cx="1889.4" cy="1633.7" r="2.75"/><circle cx="1890.0" cy="1651.4" r="2.75"/><circle cx="1890.6" cy="1660.6" r="2.75"/><circle cx="1890.9" cy="1653.2" r="2.75"/><circle cx="1890.9" cy="1643.1" r="2.75"/><circle cx="1891.0" cy="1642.1" r="2.75"/><circle cx="1891.4" cy="1669.8" r="2.75"/><circle cx="1891.5" cy="1668.4" r="2.75"/><circle cx="1891.6" cy="1663.3" r="2.75"/><circle cx="1891.8" cy="1660.3" r="2.75"/><circle cx="1892.0" cy="1652.8" r="2.75"/><circle cx="1892.3" cy="1650.0" r="2.75"/><circle cx="1892.8" cy="1658.7" r="2.75"/><circle cx="1892.9" cy="1664.7" r="2.75"/><circle cx="1893.9" cy="1658.0" r="2.75"/><circle cx="1894.1" cy="1666.9" r="2.75"/><circle cx="1894.4" cy="1637.5" r="2.75"/><circle cx="1894.6" cy="1681.3" r="2.75"/><circle cx="1895.5" cy="1671.6" r="2.75"/><circle cx="1896.5" cy="1655.0" r="2.75"/><circle cx="1897.4" cy="1642.5" r="2.75"/><circle cx="1897.5" cy="1667.4" r="2.75"/><circle cx="1897.6" cy="1661.5" r="2.75"/><circle cx="1898.2" cy="1660.0" r="2.75"/><circle cx="1898.7" cy="1681.7" r="2.75"/><circle cx="1899.1" cy="1659.1" r="2.75"/><circle cx="1899.5" cy="1655.4" r="2.75"/><circle cx="1900.8" cy="1661.4" r="2.75"/><circle cx="1900.9" cy="1652.1" r="2.75"/><circle cx="1901.0" cy="1649.1" r="2.75"/><circle cx="1901.2" cy="1662.5" r="2.75"/><circle cx="1901.2" cy="1649.1" r="2.75"/><circle cx="1901.6" cy="1656.3" r="2.75"/><circle cx="1901.9" cy="1674.2" r="2.75"/><circle cx="1902.8" cy="1652.1" r="2.75"/><circle cx="1903.8" cy="1621.6" r="2.75"/><circle cx="1904.3" cy="1660.6" r="2.75"/><circle cx="1904.6" cy="1676.5" r="2.75"/><circle cx="1905.7" cy="1649.2" r="2.75"/><circle cx="1906.3" cy="1646.9" r="2.75"/><circle cx="1906.4" cy="1669.2" r="2.75"/><circle cx="1906.8" cy="1658.9" r="2.75"/><circle cx="1906.9" cy="1652.7" r="2.75"/><circle cx="1907.7" cy="1639.9" r="2.75"/><circle cx="1907.8" cy="1649.4" r="2.75"/><circle cx="1909.1" cy="1650.2" r="2.75"/><circle cx="1909.4" cy="1649.3" r="2.75"/><circle cx="1909.9" cy="1642.2" r="2.75"/><circle cx="1910.5" cy="1669.1" r="2.75"/><circle cx="1913.0" cy="1648.3" r="2.75"/><circle cx="1913.0" cy="1634.3" r="2.75"/><circle cx="1913.5" cy="1682.2" r="2.75"/><circle cx="1913.8" cy="1662.4" r="2.75"/><circle cx="1913.9" cy="1651.0" r="2.75"/><circle cx="1915.1" cy="1666.2" r="2.75"/><circle cx="1928.4" cy="1679.5" r="2.75"/><circle cx="1938.9" cy="1658.1" r="2.75"/></g>
<polygon points="1654.9,1621.5 1664.3,1622.9 1673.8,1624.4 1683.3,1625.8 1692.8,1627.2 1702.2,1628.6 1711.7,1630.0 1721.2,1631.4 1730.6,1632.8 1740.1,1634.2 1749.6,1635.6 1759.0,1637.0 1768.5,1638.4 1778.0,1639.7 1787.4,1641.1 1796.9,1642.5 1806.4,1643.8 1815.8,1645.1 1825.3,1646.4 1834.8,1647.7 1844.2,1648.9 1853.7,1650.0 1863.2,1651.0 1872.6,1652.0 1882.1,1652.9 1891.6,1653.8 1901.0,1654.7 1910.5,1655.5 1920.0,1656.4 1929.5,1657.2 1938.9,1658.0 1938.9,1664.5 1929.5,1663.1 1920.0,1661.7 1910.5,1660.4 1901.0,1659.1 1891.6,1657.8 1882.1,1656.5 1872.6,1655.2 1863.2,1654.0 1853.7,1652.9 1844.2,1651.8 1834.8,1650.8 1825.3,1649.9 1815.8,1649.0 1806.4,1648.2 1796.9,1647.3 1787.4,1646.5 1778.0,1645.7 1768.5,1644.9 1759.0,1644.1 1749.6,1643.3 1740.1,1642.6 1730.6,1641.8 1721.2,1641.0 1711.7,1640.2 1702.2,1639.5 1692.8,1638.7 1683.3,1637.9 1673.8,1637.2 1664.3,1636.4 1654.9,1635.6" fill="#929292"/>
<path d="M1654.9 1628.6L1938.9 1661.2" stroke="#F59C1C" stroke-width="2.4"/>
<polygon points="1654.9,1700.0 1664.3,1696.0 1673.8,1692.0 1683.3,1688.1 1692.8,1684.1 1702.2,1680.1 1711.7,1676.1 1721.2,1672.0 1730.6,1668.0 1740.1,1664.0 1749.6,1660.0 1759.0,1656.0 1768.5,1652.0 1778.0,1647.9 1787.4,1643.9 1796.9,1639.8 1806.4,1635.7 1815.8,1631.5 1825.3,1627.3 1834.8,1623.0 1844.2,1618.5 1853.7,1613.9 1863.2,1609.0 1872.6,1604.0 1882.1,1598.9 1891.6,1593.6 1901.0,1588.3 1910.5,1583.0 1920.0,1577.6 1929.5,1572.2 1938.9,1566.8 1938.9,1581.5 1929.5,1585.6 1920.0,1589.6 1910.5,1593.6 1901.0,1597.7 1891.6,1601.8 1882.1,1606.0 1872.6,1610.2 1863.2,1614.6 1853.7,1619.2 1844.2,1624.0 1834.8,1628.9 1825.3,1634.0 1815.8,1639.2 1806.4,1644.4 1796.9,1649.7 1787.4,1655.1 1778.0,1660.4 1768.5,1665.8 1759.0,1671.2 1749.6,1676.5 1740.1,1681.9 1730.6,1687.3 1721.2,1692.7 1711.7,1698.1 1702.2,1703.5 1692.8,1709.0 1683.3,1714.4 1673.8,1719.8 1664.3,1725.2 1654.9,1730.6" fill="#929292"/>
<path d="M1654.9 1715.3L1938.9 1574.2" stroke="#6F5FCF" stroke-width="1.5"/>
<circle cx="1655.5" cy="1530.1" r="2.75" fill="#FBD393" stroke="#F59C1C" stroke-width="2.2"/>
<circle cx="1655.5" cy="1550.1999999999998" r="2.75" fill="#C6BFF1" stroke="#6F5FCF" stroke-width="2.2"/>
<text x="1668.3" y="1533.8" font-size="16.3" text-anchor="start" fill="#000">Bias gene</text>
<text x="1668.3" y="1553.8" font-size="16.3" text-anchor="start" fill="#000">Favorable site</text>
<rect x="1639.2" y="1822.8" width="314.4" height="230.0" fill="#fff" stroke="#000" stroke-width="2.1"/>
<text x="1631.9" y="2049.1" font-size="15.8" text-anchor="end" fill="#000">40</text>
<text x="1631.9" y="2002.2" font-size="15.8" text-anchor="end" fill="#000">60</text>
<text x="1631.9" y="1955.2" font-size="15.8" text-anchor="end" fill="#000">80</text>
<text x="1631.9" y="1908.3" font-size="15.8" text-anchor="end" fill="#000">100</text>
<text x="1631.9" y="1861.4" font-size="15.8" text-anchor="end" fill="#000">120</text>
<text x="1718.0" y="2071.2" font-size="15.8" text-anchor="middle" fill="#000">82</text>
<text x="1796.9" y="2071.2" font-size="15.8" text-anchor="middle" fill="#000">84</text>
<text x="1875.8" y="2071.2" font-size="15.8" text-anchor="middle" fill="#000">86</text>
<path d="M1634.9 2042.6h4.3M1634.9 1995.7h4.3M1634.9 1948.7h4.3M1634.9 1901.8h4.3M1634.9 1854.9h4.3M1718.0 2052.8v4.3M1796.9 2052.8v4.3M1875.8 2052.8v4.3" stroke="#000" stroke-width="1.6"/>
<text x="1809.0" y="2095.3" font-size="21.35" text-anchor="middle" fill="#000">Fiber uniformity</text>
<text transform="translate(1596.9,1932.4) rotate(-90)" font-size="21.0" text-anchor="middle">Counts</text>
<g fill="#C6BFF1" stroke="#6F5FCF" stroke-width="2.2"><circle cx="1654.9" cy="1987.9" r="2.75"/><circle cx="1687.3" cy="2033.6" r="2.75"/><circle cx="1695.0" cy="1975.0" r="2.75"/><circle cx="1706.3" cy="2035.3" r="2.75"/><circle cx="1716.5" cy="2013.2" r="2.75"/><circle cx="1728.4" cy="1980.1" r="2.75"/><circle cx="1731.7" cy="1967.7" r="2.75"/><circle cx="1744.7" cy="2015.2" r="2.75"/><circle cx="1748.7" cy="2026.4" r="2.75"/><circle cx="1752.7" cy="1989.0" r="2.75"/><circle cx="1756.3" cy="1968.8" r="2.75"/><circle cx="1756.7" cy="1958.6" r="2.75"/><circle cx="1765.6" cy="1973.8" r="2.75"/><circle cx="1771.8" cy="2001.6" r="2.75"/><circle cx="1775.1" cy="1939.8" r="2.75"/><circle cx="1775.2" cy="1948.5" r="2.75"/><circle cx="1779.5" cy="1957.5" r="2.75"/><circle cx="1782.4" cy="1910.7" r="2.75"/><circle cx="1784.0" cy="1958.0" r="2.75"/><circle cx="1785.2" cy="1925.9" r="2.75"/><circle cx="1785.5" cy="1966.6" r="2.75"/><circle cx="1786.9" cy="2034.6" r="2.75"/><circle cx="1789.0" cy="1990.4" r="2.75"/><circle cx="1791.5" cy="2028.6" r="2.75"/><circle cx="1794.4" cy="1965.1" r="2.75"/><circle cx="1794.6" cy="1930.1" r="2.75"/><circle cx="1794.8" cy="2001.4" r="2.75"/><circle cx="1795.8" cy="1940.8" r="2.75"/><circle cx="1797.1" cy="1965.0" r="2.75"/><circle cx="1801.1" cy="1933.9" r="2.75"/><circle cx="1801.4" cy="1946.9" r="2.75"/><circle cx="1803.1" cy="1980.2" r="2.75"/><circle cx="1803.9" cy="1940.8" r="2.75"/><circle cx="1803.9" cy="1956.0" r="2.75"/><circle cx="1804.6" cy="1932.5" r="2.75"/><circle cx="1805.1" cy="1918.9" r="2.75"/><circle cx="1808.2" cy="1958.0" r="2.75"/><circle cx="1809.0" cy="1912.2" r="2.75"/><circle cx="1811.1" cy="1954.2" r="2.75"/><circle cx="1813.7" cy="1935.6" r="2.75"/><circle cx="1813.8" cy="1990.3" r="2.75"/><circle cx="1814.6" cy="1966.9" r="2.75"/><circle cx="1816.6" cy="1946.2" r="2.75"/><circle cx="1817.5" cy="1960.1" r="2.75"/><circle cx="1817.6" cy="1934.9" r="2.75"/><circle cx="1818.8" cy="1974.6" r="2.75"/><circle cx="1820.0" cy="1971.8" r="2.75"/><circle cx="1820.1" cy="1926.3" r="2.75"/><circle cx="1820.3" cy="1926.2" r="2.75"/><circle cx="1821.0" cy="1933.4" r="2.75"/><circle cx="1822.3" cy="1932.8" r="2.75"/><circle cx="1823.0" cy="1920.7" r="2.75"/><circle cx="1823.4" cy="1934.5" r="2.75"/><circle cx="1823.7" cy="1923.4" r="2.75"/><circle cx="1823.7" cy="1965.4" r="2.75"/><circle cx="1824.0" cy="1933.3" r="2.75"/><circle cx="1824.4" cy="1964.1" r="2.75"/><circle cx="1825.8" cy="1975.9" r="2.75"/><circle cx="1826.3" cy="1950.6" r="2.75"/><circle cx="1826.5" cy="1928.8" r="2.75"/><circle cx="1826.9" cy="1944.2" r="2.75"/><circle cx="1827.0" cy="1900.5" r="2.75"/><circle cx="1827.2" cy="1981.2" r="2.75"/><circle cx="1828.6" cy="1933.4" r="2.75"/><circle cx="1829.3" cy="1940.8" r="2.75"/><circle cx="1829.5" cy="1976.8" r="2.75"/><circle cx="1829.6" cy="1942.2" r="2.75"/><circle cx="1830.8" cy="1942.3" r="2.75"/><circle cx="1832.1" cy="1899.1" r="2.75"/><circle cx="1832.1" cy="1988.4" r="2.75"/><circle cx="1832.2" cy="1945.4" r="2.75"/><circle cx="1832.5" cy="1948.2" r="2.75"/><circle cx="1832.8" cy="1938.3" r="2.75"/><circle cx="1832.9" cy="1984.8" r="2.75"/><circle cx="1834.1" cy="1968.4" r="2.75"/><circle cx="1834.6" cy="1940.9" r="2.75"/><circle cx="1834.7" cy="1936.7" r="2.75"/><circle cx="1834.8" cy="1876.1" r="2.75"/><circle cx="1835.1" cy="1943.1" r="2.75"/><circle cx="1835.1" cy="1929.9" r="2.75"/><circle cx="1835.4" cy="1941.4" r="2.75"/><circle cx="1835.5" cy="1913.9" r="2.75"/><circle cx="1837.7" cy="1884.4" r="2.75"/><circle cx="1837.7" cy="1873.3" r="2.75"/><circle cx="1837.9" cy="1931.5" r="2.75"/><circle cx="1839.4" cy="1970.6" r="2.75"/><circle cx="1839.5" cy="1928.4" r="2.75"/><circle cx="1839.7" cy="1980.0" r="2.75"/><circle cx="1840.1" cy="1960.7" r="2.75"/><circle cx="1840.5" cy="1953.4" r="2.75"/><circle cx="1840.5" cy="1966.2" r="2.75"/><circle cx="1840.9" cy="1938.5" r="2.75"/><circle cx="1842.1" cy="1947.0" r="2.75"/><circle cx="1842.1" cy="1956.4" r="2.75"/><circle cx="1842.3" cy="1928.7" r="2.75"/><circle cx="1842.8" cy="1955.9" r="2.75"/><circle cx="1843.4" cy="1849.5" r="2.75"/><circle cx="1844.0" cy="1921.5" r="2.75"/><circle cx="1844.0" cy="1948.0" r="2.75"/><circle cx="1844.4" cy="1880.7" r="2.75"/><circle cx="1844.6" cy="1953.9" r="2.75"/><circle cx="1844.7" cy="1952.6" r="2.75"/><circle cx="1845.3" cy="1911.3" r="2.75"/><circle cx="1845.4" cy="1976.4" r="2.75"/><circle cx="1845.6" cy="1891.8" r="2.75"/><circle cx="1845.6" cy="1888.9" r="2.75"/><circle cx="1845.7" cy="1991.8" r="2.75"/><circle cx="1846.0" cy="1876.9" r="2.75"/><circle cx="1846.3" cy="1984.3" r="2.75"/><circle cx="1846.4" cy="1992.2" r="2.75"/><circle cx="1846.7" cy="1988.8" r="2.75"/><circle cx="1846.7" cy="1965.3" r="2.75"/><circle cx="1847.0" cy="1951.0" r="2.75"/><circle cx="1847.1" cy="1965.1" r="2.75"/><circle cx="1847.1" cy="1941.3" r="2.75"/><circle cx="1847.2" cy="1916.0" r="2.75"/><circle cx="1847.8" cy="1955.4" r="2.75"/><circle cx="1847.8" cy="1933.0" r="2.75"/><circle cx="1847.9" cy="1920.6" r="2.75"/><circle cx="1848.5" cy="1892.5" r="2.75"/><circle cx="1848.5" cy="1937.9" r="2.75"/><circle cx="1848.7" cy="1917.7" r="2.75"/><circle cx="1848.8" cy="1970.7" r="2.75"/><circle cx="1848.9" cy="1934.2" r="2.75"/><circle cx="1849.3" cy="1943.9" r="2.75"/><circle cx="1849.5" cy="1926.3" r="2.75"/><circle cx="1849.6" cy="1917.9" r="2.75"/><circle cx="1849.9" cy="2000.8" r="2.75"/><circle cx="1850.0" cy="1977.8" r="2.75"/><circle cx="1850.6" cy="1926.4" r="2.75"/><circle cx="1851.0" cy="1927.2" r="2.75"/><circle cx="1852.3" cy="1925.8" r="2.75"/><circle cx="1852.4" cy="1893.1" r="2.75"/><circle cx="1852.4" cy="1907.7" r="2.75"/><circle cx="1852.7" cy="1965.4" r="2.75"/><circle cx="1853.4" cy="1894.0" r="2.75"/><circle cx="1853.5" cy="1951.3" r="2.75"/><circle cx="1853.7" cy="1954.4" r="2.75"/><circle cx="1853.7" cy="1906.5" r="2.75"/><circle cx="1854.0" cy="1941.7" r="2.75"/><circle cx="1854.0" cy="1975.8" r="2.75"/><circle cx="1854.7" cy="1917.6" r="2.75"/><circle cx="1854.8" cy="1921.8" r="2.75"/><circle cx="1854.9" cy="1919.6" r="2.75"/><circle cx="1855.0" cy="1968.4" r="2.75"/><circle cx="1855.0" cy="1912.9" r="2.75"/><circle cx="1855.1" cy="1948.6" r="2.75"/><circle cx="1855.5" cy="1931.1" r="2.75"/><circle cx="1855.5" cy="1964.1" r="2.75"/><circle cx="1855.6" cy="1957.0" r="2.75"/><circle cx="1855.7" cy="1982.3" r="2.75"/><circle cx="1856.4" cy="1952.1" r="2.75"/><circle cx="1856.9" cy="1905.5" r="2.75"/><circle cx="1857.3" cy="1931.7" r="2.75"/><circle cx="1857.7" cy="1946.3" r="2.75"/><circle cx="1857.7" cy="1897.5" r="2.75"/><circle cx="1857.8" cy="1926.7" r="2.75"/><circle cx="1858.0" cy="1949.0" r="2.75"/><circle cx="1858.2" cy="1923.3" r="2.75"/><circle cx="1858.3" cy="1951.2" r="2.75"/><circle cx="1858.9" cy="1928.0" r="2.75"/><circle cx="1859.0" cy="1920.5" r="2.75"/><circle cx="1859.3" cy="1902.8" r="2.75"/><circle cx="1859.4" cy="1916.1" r="2.75"/><circle cx="1859.7" cy="1908.9" r="2.75"/><circle cx="1860.4" cy="1958.9" r="2.75"/><circle cx="1861.5" cy="1977.7" r="2.75"/><circle cx="1861.7" cy="1922.4" r="2.75"/><circle cx="1861.9" cy="1926.3" r="2.75"/><circle cx="1862.8" cy="1918.8" r="2.75"/><circle cx="1863.1" cy="1955.1" r="2.75"/><circle cx="1863.1" cy="1926.2" r="2.75"/><circle cx="1863.9" cy="1956.2" r="2.75"/><circle cx="1864.5" cy="1927.0" r="2.75"/><circle cx="1864.7" cy="1931.0" r="2.75"/><circle cx="1865.1" cy="1933.4" r="2.75"/><circle cx="1865.4" cy="1921.0" r="2.75"/><circle cx="1865.8" cy="1899.2" r="2.75"/><circle cx="1865.9" cy="1929.2" r="2.75"/><circle cx="1866.4" cy="1910.8" r="2.75"/><circle cx="1866.7" cy="1890.3" r="2.75"/><circle cx="1866.9" cy="1935.0" r="2.75"/><circle cx="1866.9" cy="1907.6" r="2.75"/><circle cx="1866.9" cy="1913.5" r="2.75"/><circle cx="1867.0" cy="1886.2" r="2.75"/><circle cx="1867.0" cy="1875.4" r="2.75"/><circle cx="1867.2" cy="1944.1" r="2.75"/><circle cx="1867.3" cy="1910.6" r="2.75"/><circle cx="1867.4" cy="1920.4" r="2.75"/><circle cx="1867.4" cy="1888.1" r="2.75"/><circle cx="1867.4" cy="1919.9" r="2.75"/><circle cx="1867.5" cy="1944.1" r="2.75"/><circle cx="1867.6" cy="1971.6" r="2.75"/><circle cx="1867.8" cy="1893.1" r="2.75"/><circle cx="1868.5" cy="1931.5" r="2.75"/><circle cx="1868.6" cy="1910.7" r="2.75"/><circle cx="1868.7" cy="1917.0" r="2.75"/><circle cx="1869.1" cy="1920.1" r="2.75"/><circle cx="1869.2" cy="1916.8" r="2.75"/><circle cx="1869.3" cy="1943.5" r="2.75"/><circle cx="1869.3" cy="1992.5" r="2.75"/><circle cx="1869.3" cy="1838.1" r="2.75"/><circle cx="1869.5" cy="1928.5" r="2.75"/><circle cx="1869.9" cy="1941.1" r="2.75"/><circle cx="1870.5" cy="1941.8" r="2.75"/><circle cx="1870.7" cy="1893.6" r="2.75"/><circle cx="1870.7" cy="1945.1" r="2.75"/><circle cx="1870.9" cy="1953.0" r="2.75"/><circle cx="1870.9" cy="1909.7" r="2.75"/><circle cx="1871.1" cy="1889.5" r="2.75"/><circle cx="1871.4" cy="1958.8" r="2.75"/><circle cx="1871.6" cy="1951.1" r="2.75"/><circle cx="1871.8" cy="1952.5" r="2.75"/><circle cx="1871.9" cy="1916.4" r="2.75"/><circle cx="1872.0" cy="1911.9" r="2.75"/><circle cx="1872.0" cy="1890.5" r="2.75"/><circle cx="1872.0" cy="1927.4" r="2.75"/><circle cx="1872.1" cy="1932.2" r="2.75"/><circle cx="1872.4" cy="1941.0" r="2.75"/><circle cx="1872.7" cy="1897.3" r="2.75"/><circle cx="1873.0" cy="1940.6" r="2.75"/><circle cx="1873.2" cy="1946.4" r="2.75"/><circle cx="1873.6" cy="1931.2" r="2.75"/><circle cx="1873.7" cy="1926.0" r="2.75"/><circle cx="1873.8" cy="1915.3" r="2.75"/><circle cx="1874.1" cy="1941.0" r="2.75"/><circle cx="1874.5" cy="1846.2" r="2.75"/><circle cx="1874.7" cy="1876.7" r="2.75"/><circle cx="1874.9" cy="1889.2" r="2.75"/><circle cx="1875.1" cy="1944.9" r="2.75"/><circle cx="1875.1" cy="1950.1" r="2.75"/><circle cx="1875.5" cy="1931.7" r="2.75"/><circle cx="1875.5" cy="1927.3" r="2.75"/><circle cx="1875.9" cy="1922.6" r="2.75"/><circle cx="1876.2" cy="1917.5" r="2.75"/><circle cx="1876.3" cy="1920.0" r="2.75"/><circle cx="1876.9" cy="1961.6" r="2.75"/><circle cx="1877.4" cy="1974.2" r="2.75"/><circle cx="1877.5" cy="1970.3" r="2.75"/><circle cx="1877.7" cy="1893.0" r="2.75"/><circle cx="1877.7" cy="1928.2" r="2.75"/><circle cx="1877.7" cy="1954.1" r="2.75"/><circle cx="1877.8" cy="1887.1" r="2.75"/><circle cx="1878.1" cy="1948.7" r="2.75"/><circle cx="1879.0" cy="1912.7" r="2.75"/><circle cx="1879.2" cy="1940.0" r="2.75"/><circle cx="1879.3" cy="1918.3" r="2.75"/><circle cx="1879.5" cy="1970.2" r="2.75"/><circle cx="1879.6" cy="1933.0" r="2.75"/><circle cx="1879.7" cy="1917.0" r="2.75"/><circle cx="1879.9" cy="1920.0" r="2.75"/><circle cx="1880.0" cy="1958.8" r="2.75"/><circle cx="1880.1" cy="2003.0" r="2.75"/><circle cx="1880.2" cy="1900.4" r="2.75"/><circle cx="1880.4" cy="1924.9" r="2.75"/><circle cx="1880.5" cy="1901.0" r="2.75"/><circle cx="1880.5" cy="1870.1" r="2.75"/><circle cx="1880.9" cy="1916.2" r="2.75"/><circle cx="1881.1" cy="1926.5" r="2.75"/><circle cx="1881.4" cy="1920.2" r="2.75"/><circle cx="1881.6" cy="1945.5" r="2.75"/><circle cx="1881.7" cy="1905.3" r="2.75"/><circle cx="1882.0" cy="1857.9" r="2.75"/><circle cx="1882.4" cy="1891.8" r="2.75"/><circle cx="1882.5" cy="1864.9" r="2.75"/><circle cx="1882.5" cy="1900.3" r="2.75"/><circle cx="1882.6" cy="1907.3" r="2.75"/><circle cx="1883.6" cy="1916.4" r="2.75"/><circle cx="1884.4" cy="1979.5" r="2.75"/><circle cx="1884.5" cy="1886.0" r="2.75"/><circle cx="1884.9" cy="1927.7" r="2.75"/><circle cx="1884.9" cy="1952.5" r="2.75"/><circle cx="1885.0" cy="1954.9" r="2.75"/><circle cx="1885.1" cy="1895.4" r="2.75"/><circle cx="1885.7" cy="1908.5" r="2.75"/><circle cx="1885.8" cy="1906.7" r="2.75"/><circle cx="1885.9" cy="1962.5" r="2.75"/><circle cx="1885.9" cy="1934.4" r="2.75"/><circle cx="1886.0" cy="1959.3" r="2.75"/><circle cx="1886.0" cy="1948.9" r="2.75"/><circle cx="1886.0" cy="1934.4" r="2.75"/><circle cx="1886.2" cy="1937.3" r="2.75"/><circle cx="1886.4" cy="1880.0" r="2.75"/><circle cx="1886.6" cy="1951.9" r="2.75"/><circle cx="1886.7" cy="1935.5" r="2.75"/><circle cx="1887.2" cy="1931.9" r="2.75"/><circle cx="1887.5" cy="1917.7" r="2.75"/><circle cx="1888.9" cy="1900.5" r="2.75"/><circle cx="1889.4" cy="1938.9" r="2.75"/><circle cx="1889.4" cy="1960.7" r="2.75"/><circle cx="1890.0" cy="1929.2" r="2.75"/><circle cx="1890.6" cy="1908.1" r="2.75"/><circle cx="1890.9" cy="1945.4" r="2.75"/><circle cx="1890.9" cy="1922.7" r="2.75"/><circle cx="1891.0" cy="1943.7" r="2.75"/><circle cx="1891.4" cy="1934.1" r="2.75"/><circle cx="1891.5" cy="1929.2" r="2.75"/><circle cx="1891.6" cy="1869.5" r="2.75"/><circle cx="1891.8" cy="1897.9" r="2.75"/><circle cx="1892.0" cy="1908.6" r="2.75"/><circle cx="1892.3" cy="1942.9" r="2.75"/><circle cx="1892.8" cy="1945.4" r="2.75"/><circle cx="1892.9" cy="1934.8" r="2.75"/><circle cx="1893.9" cy="1876.4" r="2.75"/><circle cx="1894.1" cy="1883.8" r="2.75"/><circle cx="1894.4" cy="1912.8" r="2.75"/><circle cx="1894.6" cy="1934.2" r="2.75"/><circle cx="1895.5" cy="1960.5" r="2.75"/><circle cx="1896.5" cy="1927.1" r="2.75"/><circle cx="1897.4" cy="1902.1" r="2.75"/><circle cx="1897.5" cy="1901.1" r="2.75"/><circle cx="1897.6" cy="1905.3" r="2.75"/><circle cx="1898.2" cy="1932.6" r="2.75"/><circle cx="1898.7" cy="1901.8" r="2.75"/><circle cx="1899.1" cy="1918.5" r="2.75"/><circle cx="1899.5" cy="1892.2" r="2.75"/><circle cx="1900.8" cy="1931.3" r="2.75"/><circle cx="1900.9" cy="1894.2" r="2.75"/><circle cx="1901.0" cy="1916.2" r="2.75"/><circle cx="1901.2" cy="1925.5" r="2.75"/><circle cx="1901.2" cy="1840.1" r="2.75"/><circle cx="1901.6" cy="1939.5" r="2.75"/><circle cx="1901.9" cy="1896.3" r="2.75"/><circle cx="1902.8" cy="1897.1" r="2.75"/><circle cx="1903.8" cy="1921.6" r="2.75"/><circle cx="1904.3" cy="1905.3" r="2.75"/><circle cx="1904.6" cy="1957.7" r="2.75"/><circle cx="1905.7" cy="1916.7" r="2.75"/><circle cx="1906.3" cy="1934.6" r="2.75"/><circle cx="1906.4" cy="1939.6" r="2.75"/><circle cx="1906.8" cy="1910.4" r="2.75"/><circle cx="1906.9" cy="1898.0" r="2.75"/><circle cx="1907.7" cy="1912.8" r="2.75"/><circle cx="1907.8" cy="1949.7" r="2.75"/><circle cx="1909.1" cy="1923.1" r="2.75"/><circle cx="1909.4" cy="1942.6" r="2.75"/><circle cx="1909.9" cy="1938.3" r="2.75"/><circle cx="1910.5" cy="1932.1" r="2.75"/><circle cx="1913.0" cy="1885.4" r="2.75"/><circle cx="1913.0" cy="1912.5" r="2.75"/><circle cx="1913.5" cy="1881.0" r="2.75"/><circle cx="1913.8" cy="1916.4" r="2.75"/><circle cx="1913.9" cy="1949.3" r="2.75"/><circle cx="1915.1" cy="1908.4" r="2.75"/><circle cx="1928.4" cy="1939.7" r="2.75"/><circle cx="1938.9" cy="1891.6" r="2.75"/></g>
<g fill="#FBD393" stroke="#F59C1C" stroke-width="2.2"><circle cx="1654.9" cy="1986.3" r="2.75"/><circle cx="1687.3" cy="1977.3" r="2.75"/><circle cx="1695.0" cy="1957.5" r="2.75"/><circle cx="1706.3" cy="1992.5" r="2.75"/><circle cx="1716.5" cy="1983.7" r="2.75"/><circle cx="1728.4" cy="1981.7" r="2.75"/><circle cx="1731.7" cy="1986.5" r="2.75"/><circle cx="1744.7" cy="1979.2" r="2.75"/><circle cx="1748.7" cy="1977.3" r="2.75"/><circle cx="1752.7" cy="2003.5" r="2.75"/><circle cx="1756.3" cy="1995.3" r="2.75"/><circle cx="1756.7" cy="1973.6" r="2.75"/><circle cx="1765.6" cy="1991.0" r="2.75"/><circle cx="1771.8" cy="1968.4" r="2.75"/><circle cx="1775.1" cy="1962.8" r="2.75"/><circle cx="1775.2" cy="1958.8" r="2.75"/><circle cx="1779.5" cy="1943.0" r="2.75"/><circle cx="1782.4" cy="1970.6" r="2.75"/><circle cx="1784.0" cy="1974.1" r="2.75"/><circle cx="1785.2" cy="1977.4" r="2.75"/><circle cx="1785.5" cy="1972.1" r="2.75"/><circle cx="1786.9" cy="1964.7" r="2.75"/><circle cx="1789.0" cy="1982.8" r="2.75"/><circle cx="1791.5" cy="1970.8" r="2.75"/><circle cx="1794.4" cy="1963.3" r="2.75"/><circle cx="1794.6" cy="1977.5" r="2.75"/><circle cx="1794.8" cy="1984.0" r="2.75"/><circle cx="1795.8" cy="1962.5" r="2.75"/><circle cx="1797.1" cy="1963.1" r="2.75"/><circle cx="1801.1" cy="1959.7" r="2.75"/><circle cx="1801.4" cy="1970.1" r="2.75"/><circle cx="1803.1" cy="1976.8" r="2.75"/><circle cx="1803.9" cy="1953.1" r="2.75"/><circle cx="1803.9" cy="1956.1" r="2.75"/><circle cx="1804.6" cy="1960.8" r="2.75"/><circle cx="1805.1" cy="1974.8" r="2.75"/><circle cx="1808.2" cy="1967.7" r="2.75"/><circle cx="1809.0" cy="1978.4" r="2.75"/><circle cx="1811.1" cy="1979.9" r="2.75"/><circle cx="1813.7" cy="1967.2" r="2.75"/><circle cx="1813.8" cy="1964.7" r="2.75"/><circle cx="1814.6" cy="1962.0" r="2.75"/><circle cx="1816.6" cy="1966.7" r="2.75"/><circle cx="1817.5" cy="1940.2" r="2.75"/><circle cx="1817.6" cy="1978.2" r="2.75"/><circle cx="1818.8" cy="1953.2" r="2.75"/><circle cx="1820.0" cy="1971.7" r="2.75"/><circle cx="1820.1" cy="1957.1" r="2.75"/><circle cx="1820.3" cy="1977.2" r="2.75"/><circle cx="1821.0" cy="1943.2" r="2.75"/><circle cx="1822.3" cy="1951.3" r="2.75"/><circle cx="1823.0" cy="1984.2" r="2.75"/><circle cx="1823.4" cy="1943.0" r="2.75"/><circle cx="1823.7" cy="1964.7" r="2.75"/><circle cx="1823.7" cy="1956.8" r="2.75"/><circle cx="1824.0" cy="1966.6" r="2.75"/><circle cx="1824.4" cy="1968.0" r="2.75"/><circle cx="1825.8" cy="1981.3" r="2.75"/><circle cx="1826.3" cy="1971.3" r="2.75"/><circle cx="1826.5" cy="1966.4" r="2.75"/><circle cx="1826.9" cy="1984.3" r="2.75"/><circle cx="1827.0" cy="1976.8" r="2.75"/><circle cx="1827.2" cy="1965.9" r="2.75"/><circle cx="1828.6" cy="1961.0" r="2.75"/><circle cx="1829.3" cy="1970.6" r="2.75"/><circle cx="1829.5" cy="1952.7" r="2.75"/><circle cx="1829.6" cy="1971.2" r="2.75"/><circle cx="1830.8" cy="1958.7" r="2.75"/><circle cx="1832.1" cy="1951.0" r="2.75"/><circle cx="1832.1" cy="1981.3" r="2.75"/><circle cx="1832.2" cy="1952.7" r="2.75"/><circle cx="1832.5" cy="1966.7" r="2.75"/><circle cx="1832.8" cy="1974.3" r="2.75"/><circle cx="1832.9" cy="1947.6" r="2.75"/><circle cx="1834.1" cy="1947.1" r="2.75"/><circle cx="1834.6" cy="1968.2" r="2.75"/><circle cx="1834.7" cy="1953.1" r="2.75"/><circle cx="1834.8" cy="1954.0" r="2.75"/><circle cx="1835.1" cy="1964.9" r="2.75"/><circle cx="1835.1" cy="1940.8" r="2.75"/><circle cx="1835.4" cy="1965.9" r="2.75"/><circle cx="1835.5" cy="1971.7" r="2.75"/><circle cx="1837.7" cy="1963.9" r="2.75"/><circle cx="1837.7" cy="1965.4" r="2.75"/><circle cx="1837.9" cy="1968.9" r="2.75"/><circle cx="1839.4" cy="1967.0" r="2.75"/><circle cx="1839.5" cy="1953.7" r="2.75"/><circle cx="1839.7" cy="1957.3" r="2.75"/><circle cx="1840.1" cy="1978.7" r="2.75"/><circle cx="1840.5" cy="1951.8" r="2.75"/><circle cx="1840.5" cy="1931.7" r="2.75"/><circle cx="1840.9" cy="1968.0" r="2.75"/><circle cx="1842.1" cy="1967.7" r="2.75"/><circle cx="1842.1" cy="1970.3" r="2.75"/><circle cx="1842.3" cy="1963.4" r="2.75"/><circle cx="1842.8" cy="1944.3" r="2.75"/><circle cx="1843.4" cy="1959.7" r="2.75"/><circle cx="1844.0" cy="1977.2" r="2.75"/><circle cx="1844.0" cy="1944.1" r="2.75"/><circle cx="1844.4" cy="1967.5" r="2.75"/><circle cx="1844.6" cy="1967.0" r="2.75"/><circle cx="1844.7" cy="1939.7" r="2.75"/><circle cx="1845.3" cy="1955.7" r="2.75"/><circle cx="1845.4" cy="1949.9" r="2.75"/><circle cx="1845.6" cy="1956.2" r="2.75"/><circle cx="1845.6" cy="1957.1" r="2.75"/><circle cx="1845.7" cy="1955.5" r="2.75"/><circle cx="1846.0" cy="1954.5" r="2.75"/><circle cx="1846.3" cy="1938.8" r="2.75"/><circle cx="1846.4" cy="1975.5" r="2.75"/><circle cx="1846.7" cy="1998.6" r="2.75"/><circle cx="1846.7" cy="1965.8" r="2.75"/><circle cx="1847.0" cy="1978.9" r="2.75"/><circle cx="1847.1" cy="1961.0" r="2.75"/><circle cx="1847.1" cy="1975.7" r="2.75"/><circle cx="1847.2" cy="1962.3" r="2.75"/><circle cx="1847.8" cy="1950.6" r="2.75"/><circle cx="1847.8" cy="1968.2" r="2.75"/><circle cx="1847.9" cy="1970.7" r="2.75"/><circle cx="1848.5" cy="1953.9" r="2.75"/><circle cx="1848.5" cy="1970.7" r="2.75"/><circle cx="1848.7" cy="1963.4" r="2.75"/><circle cx="1848.8" cy="1982.3" r="2.75"/><circle cx="1848.9" cy="1976.5" r="2.75"/><circle cx="1849.3" cy="1952.1" r="2.75"/><circle cx="1849.5" cy="1974.3" r="2.75"/><circle cx="1849.6" cy="1952.5" r="2.75"/><circle cx="1849.9" cy="1977.8" r="2.75"/><circle cx="1850.0" cy="1978.3" r="2.75"/><circle cx="1850.6" cy="1966.1" r="2.75"/><circle cx="1851.0" cy="1952.8" r="2.75"/><circle cx="1852.3" cy="1965.1" r="2.75"/><circle cx="1852.4" cy="1937.9" r="2.75"/><circle cx="1852.4" cy="1972.8" r="2.75"/><circle cx="1852.7" cy="1960.4" r="2.75"/><circle cx="1853.4" cy="1979.9" r="2.75"/><circle cx="1853.5" cy="1964.7" r="2.75"/><circle cx="1853.7" cy="1946.5" r="2.75"/><circle cx="1853.7" cy="1982.7" r="2.75"/><circle cx="1854.0" cy="1958.8" r="2.75"/><circle cx="1854.0" cy="1973.9" r="2.75"/><circle cx="1854.7" cy="1976.2" r="2.75"/><circle cx="1854.8" cy="1969.7" r="2.75"/><circle cx="1854.9" cy="1967.7" r="2.75"/><circle cx="1855.0" cy="1967.1" r="2.75"/><circle cx="1855.0" cy="1976.5" r="2.75"/><circle cx="1855.1" cy="1971.1" r="2.75"/><circle cx="1855.5" cy="1990.3" r="2.75"/><circle cx="1855.5" cy="1946.9" r="2.75"/><circle cx="1855.6" cy="1938.6" r="2.75"/><circle cx="1855.7" cy="1956.7" r="2.75"/><circle cx="1856.4" cy="1964.7" r="2.75"/><circle cx="1856.9" cy="1972.3" r="2.75"/><circle cx="1857.3" cy="1958.4" r="2.75"/><circle cx="1857.7" cy="1958.3" r="2.75"/><circle cx="1857.7" cy="1971.3" r="2.75"/><circle cx="1857.8" cy="1963.3" r="2.75"/><circle cx="1858.0" cy="1953.2" r="2.75"/><circle cx="1858.2" cy="1958.1" r="2.75"/><circle cx="1858.3" cy="1961.9" r="2.75"/><circle cx="1858.9" cy="1959.9" r="2.75"/><circle cx="1859.0" cy="1969.2" r="2.75"/><circle cx="1859.3" cy="1961.8" r="2.75"/><circle cx="1859.4" cy="1960.4" r="2.75"/><circle cx="1859.7" cy="1969.3" r="2.75"/><circle cx="1860.4" cy="1962.3" r="2.75"/><circle cx="1861.5" cy="1950.9" r="2.75"/><circle cx="1861.7" cy="1964.1" r="2.75"/><circle cx="1861.9" cy="1984.9" r="2.75"/><circle cx="1862.8" cy="1982.6" r="2.75"/><circle cx="1863.1" cy="1949.7" r="2.75"/><circle cx="1863.1" cy="1996.0" r="2.75"/><circle cx="1863.9" cy="1955.7" r="2.75"/><circle cx="1864.5" cy="1975.8" r="2.75"/><circle cx="1864.7" cy="1959.7" r="2.75"/><circle cx="1865.1" cy="1954.0" r="2.75"/><circle cx="1865.4" cy="1955.6" r="2.75"/><circle cx="1865.8" cy="1968.2" r="2.75"/><circle cx="1865.9" cy="1966.6" r="2.75"/><circle cx="1866.4" cy="1956.8" r="2.75"/><circle cx="1866.7" cy="1958.1" r="2.75"/><circle cx="1866.9" cy="1945.9" r="2.75"/><circle cx="1866.9" cy="1985.0" r="2.75"/><circle cx="1866.9" cy="1966.7" r="2.75"/><circle cx="1867.0" cy="1940.7" r="2.75"/><circle cx="1867.0" cy="1972.7" r="2.75"/><circle cx="1867.2" cy="1958.9" r="2.75"/><circle cx="1867.3" cy="1944.3" r="2.75"/><circle cx="1867.4" cy="1971.2" r="2.75"/><circle cx="1867.4" cy="1956.4" r="2.75"/><circle cx="1867.4" cy="1942.9" r="2.75"/><circle cx="1867.5" cy="1974.1" r="2.75"/><circle cx="1867.6" cy="1981.9" r="2.75"/><circle cx="1867.8" cy="1948.4" r="2.75"/><circle cx="1868.5" cy="1965.3" r="2.75"/><circle cx="1868.6" cy="1938.6" r="2.75"/><circle cx="1868.7" cy="1959.1" r="2.75"/><circle cx="1869.1" cy="1946.2" r="2.75"/><circle cx="1869.2" cy="1963.0" r="2.75"/><circle cx="1869.3" cy="1948.9" r="2.75"/><circle cx="1869.3" cy="1958.6" r="2.75"/><circle cx="1869.3" cy="1959.9" r="2.75"/><circle cx="1869.5" cy="1948.2" r="2.75"/><circle cx="1869.9" cy="1958.8" r="2.75"/><circle cx="1870.5" cy="1960.7" r="2.75"/><circle cx="1870.7" cy="1926.4" r="2.75"/><circle cx="1870.7" cy="1981.7" r="2.75"/><circle cx="1870.9" cy="1972.3" r="2.75"/><circle cx="1870.9" cy="1970.9" r="2.75"/><circle cx="1871.1" cy="1964.2" r="2.75"/><circle cx="1871.4" cy="1972.2" r="2.75"/><circle cx="1871.6" cy="1962.0" r="2.75"/><circle cx="1871.8" cy="1934.5" r="2.75"/><circle cx="1871.9" cy="1965.2" r="2.75"/><circle cx="1872.0" cy="1971.4" r="2.75"/><circle cx="1872.0" cy="1959.3" r="2.75"/><circle cx="1872.0" cy="1964.3" r="2.75"/><circle cx="1872.1" cy="1964.9" r="2.75"/><circle cx="1872.4" cy="1949.3" r="2.75"/><circle cx="1872.7" cy="1955.9" r="2.75"/><circle cx="1873.0" cy="1913.7" r="2.75"/><circle cx="1873.2" cy="1971.1" r="2.75"/><circle cx="1873.6" cy="1952.6" r="2.75"/><circle cx="1873.7" cy="1959.1" r="2.75"/><circle cx="1873.8" cy="1966.1" r="2.75"/><circle cx="1874.1" cy="1976.6" r="2.75"/><circle cx="1874.5" cy="1960.1" r="2.75"/><circle cx="1874.7" cy="1972.0" r="2.75"/><circle cx="1874.9" cy="1946.9" r="2.75"/><circle cx="1875.1" cy="1954.1" r="2.75"/><circle cx="1875.1" cy="1953.8" r="2.75"/><circle cx="1875.5" cy="1908.8" r="2.75"/><circle cx="1875.5" cy="1950.5" r="2.75"/><circle cx="1875.9" cy="1981.4" r="2.75"/><circle cx="1876.2" cy="1952.4" r="2.75"/><circle cx="1876.3" cy="1947.3" r="2.75"/><circle cx="1876.9" cy="1956.5" r="2.75"/><circle cx="1877.4" cy="1979.5" r="2.75"/><circle cx="1877.5" cy="1948.7" r="2.75"/><circle cx="1877.7" cy="1990.0" r="2.75"/><circle cx="1877.7" cy="1973.5" r="2.75"/><circle cx="1877.7" cy="1952.0" r="2.75"/><circle cx="1877.8" cy="1956.7" r="2.75"/><circle cx="1878.1" cy="1948.6" r="2.75"/><circle cx="1879.0" cy="1962.8" r="2.75"/><circle cx="1879.2" cy="1964.5" r="2.75"/><circle cx="1879.3" cy="1949.9" r="2.75"/><circle cx="1879.5" cy="1956.7" r="2.75"/><circle cx="1879.6" cy="1977.7" r="2.75"/><circle cx="1879.7" cy="1948.1" r="2.75"/><circle cx="1879.9" cy="1980.5" r="2.75"/><circle cx="1880.0" cy="1948.7" r="2.75"/><circle cx="1880.1" cy="1956.4" r="2.75"/><circle cx="1880.2" cy="1952.1" r="2.75"/><circle cx="1880.4" cy="1947.1" r="2.75"/><circle cx="1880.5" cy="1969.7" r="2.75"/><circle cx="1880.5" cy="1951.2" r="2.75"/><circle cx="1880.9" cy="1959.0" r="2.75"/><circle cx="1881.1" cy="1966.1" r="2.75"/><circle cx="1881.4" cy="1958.2" r="2.75"/><circle cx="1881.6" cy="1963.9" r="2.75"/><circle cx="1881.7" cy="1957.8" r="2.75"/><circle cx="1882.0" cy="1969.8" r="2.75"/><circle cx="1882.4" cy="1965.3" r="2.75"/><circle cx="1882.5" cy="1946.0" r="2.75"/><circle cx="1882.5" cy="1957.1" r="2.75"/><circle cx="1882.6" cy="1970.4" r="2.75"/><circle cx="1883.6" cy="1952.9" r="2.75"/><circle cx="1884.4" cy="1952.1" r="2.75"/><circle cx="1884.5" cy="1973.7" r="2.75"/><circle cx="1884.9" cy="1943.1" r="2.75"/><circle cx="1884.9" cy="1962.0" r="2.75"/><circle cx="1885.0" cy="1955.0" r="2.75"/><circle cx="1885.1" cy="1959.7" r="2.75"/><circle cx="1885.7" cy="1953.4" r="2.75"/><circle cx="1885.8" cy="1955.6" r="2.75"/><circle cx="1885.9" cy="1982.9" r="2.75"/><circle cx="1885.9" cy="1956.8" r="2.75"/><circle cx="1886.0" cy="1938.3" r="2.75"/><circle cx="1886.0" cy="1949.6" r="2.75"/><circle cx="1886.0" cy="1925.1" r="2.75"/><circle cx="1886.2" cy="1953.9" r="2.75"/><circle cx="1886.4" cy="1943.0" r="2.75"/><circle cx="1886.6" cy="1962.7" r="2.75"/><circle cx="1886.7" cy="1962.8" r="2.75"/><circle cx="1887.2" cy="1965.2" r="2.75"/><circle cx="1887.5" cy="1943.3" r="2.75"/><circle cx="1888.9" cy="1949.4" r="2.75"/><circle cx="1889.4" cy="1976.6" r="2.75"/><circle cx="1889.4" cy="1978.3" r="2.75"/><circle cx="1890.0" cy="1944.2" r="2.75"/><circle cx="1890.6" cy="1955.2" r="2.75"/><circle cx="1890.9" cy="1976.1" r="2.75"/><circle cx="1890.9" cy="1952.0" r="2.75"/><circle cx="1891.0" cy="1946.8" r="2.75"/><circle cx="1891.4" cy="1949.6" r="2.75"/><circle cx="1891.5" cy="1947.2" r="2.75"/><circle cx="1891.6" cy="1959.0" r="2.75"/><circle cx="1891.8" cy="1962.7" r="2.75"/><circle cx="1892.0" cy="1982.8" r="2.75"/><circle cx="1892.3" cy="1953.7" r="2.75"/><circle cx="1892.8" cy="1928.7" r="2.75"/><circle cx="1892.9" cy="1932.4" r="2.75"/><circle cx="1893.9" cy="1958.4" r="2.75"/><circle cx="1894.1" cy="1972.9" r="2.75"/><circle cx="1894.4" cy="1957.5" r="2.75"/><circle cx="1894.6" cy="1943.4" r="2.75"/><circle cx="1895.5" cy="1959.1" r="2.75"/><circle cx="1896.5" cy="1974.7" r="2.75"/><circle cx="1897.4" cy="1956.8" r="2.75"/><circle cx="1897.5" cy="1963.2" r="2.75"/><circle cx="1897.6" cy="1955.5" r="2.75"/><circle cx="1898.2" cy="1973.1" r="2.75"/><circle cx="1898.7" cy="1955.5" r="2.75"/><circle cx="1899.1" cy="1969.3" r="2.75"/><circle cx="1899.5" cy="1965.0" r="2.75"/><circle cx="1900.8" cy="1962.8" r="2.75"/><circle cx="1900.9" cy="1961.6" r="2.75"/><circle cx="1901.0" cy="1961.6" r="2.75"/><circle cx="1901.2" cy="1961.8" r="2.75"/><circle cx="1901.2" cy="1962.3" r="2.75"/><circle cx="1901.6" cy="1963.2" r="2.75"/><circle cx="1901.9" cy="1961.8" r="2.75"/><circle cx="1902.8" cy="1959.2" r="2.75"/><circle cx="1903.8" cy="1934.2" r="2.75"/><circle cx="1904.3" cy="1944.8" r="2.75"/><circle cx="1904.6" cy="1961.7" r="2.75"/><circle cx="1905.7" cy="1970.1" r="2.75"/><circle cx="1906.3" cy="1942.1" r="2.75"/><circle cx="1906.4" cy="1954.9" r="2.75"/><circle cx="1906.8" cy="1950.8" r="2.75"/><circle cx="1906.9" cy="1941.8" r="2.75"/><circle cx="1907.7" cy="1975.8" r="2.75"/><circle cx="1907.8" cy="1961.3" r="2.75"/><circle cx="1909.1" cy="1952.3" r="2.75"/><circle cx="1909.4" cy="1937.5" r="2.75"/><circle cx="1909.9" cy="1955.2" r="2.75"/><circle cx="1910.5" cy="1953.3" r="2.75"/><circle cx="1913.0" cy="1954.2" r="2.75"/><circle cx="1913.0" cy="1954.3" r="2.75"/><circle cx="1913.5" cy="1952.0" r="2.75"/><circle cx="1913.8" cy="1960.1" r="2.75"/><circle cx="1913.9" cy="1961.6" r="2.75"/><circle cx="1915.1" cy="1957.7" r="2.75"/><circle cx="1928.4" cy="1944.6" r="2.75"/><circle cx="1938.9" cy="1937.1" r="2.75"/></g>
<polygon points="1654.9,1985.1 1664.3,1984.0 1673.8,1982.9 1683.3,1981.8 1692.8,1980.7 1702.2,1979.7 1711.7,1978.6 1721.2,1977.5 1730.6,1976.4 1740.1,1975.3 1749.6,1974.2 1759.0,1973.1 1768.5,1971.9 1778.0,1970.8 1787.4,1969.7 1796.9,1968.6 1806.4,1967.4 1815.8,1966.3 1825.3,1965.1 1834.8,1963.8 1844.2,1962.6 1853.7,1961.2 1863.2,1959.8 1872.6,1958.4 1882.1,1956.9 1891.6,1955.4 1901.0,1953.8 1910.5,1952.2 1920.0,1950.6 1929.5,1949.1 1938.9,1947.5 1938.9,1952.9 1929.5,1954.0 1920.0,1955.1 1910.5,1956.3 1901.0,1957.4 1891.6,1958.6 1882.1,1959.8 1872.6,1961.0 1863.2,1962.3 1853.7,1963.6 1844.2,1965.0 1834.8,1966.4 1825.3,1967.9 1815.8,1969.4 1806.4,1971.0 1796.9,1972.6 1787.4,1974.2 1778.0,1975.8 1768.5,1977.4 1759.0,1979.0 1749.6,1980.6 1740.1,1982.2 1730.6,1983.8 1721.2,1985.4 1711.7,1987.1 1702.2,1988.7 1692.8,1990.3 1683.3,1992.0 1673.8,1993.6 1664.3,1995.2 1654.9,1996.8" fill="#929292"/>
<path d="M1654.9 1991.0L1938.9 1950.2" stroke="#F59C1C" stroke-width="2.4"/>
<polygon points="1654.9,2007.4 1664.3,2003.9 1673.8,2000.4 1683.3,1996.9 1692.8,1993.4 1702.2,1989.9 1711.7,1986.4 1721.2,1982.9 1730.6,1979.4 1740.1,1975.9 1749.6,1972.4 1759.0,1968.9 1768.5,1965.3 1778.0,1961.8 1787.4,1958.2 1796.9,1954.7 1806.4,1951.0 1815.8,1947.4 1825.3,1943.7 1834.8,1939.9 1844.2,1935.9 1853.7,1931.9 1863.2,1927.6 1872.6,1923.1 1882.1,1918.5 1891.6,1913.8 1901.0,1909.1 1910.5,1904.3 1920.0,1899.5 1929.5,1894.7 1938.9,1889.9 1938.9,1904.4 1929.5,1907.9 1920.0,1911.3 1910.5,1914.8 1901.0,1918.3 1891.6,1921.9 1882.1,1925.5 1872.6,1929.2 1863.2,1933.0 1853.7,1937.0 1844.2,1941.2 1834.8,1945.6 1825.3,1950.1 1815.8,1954.6 1806.4,1959.3 1796.9,1964.0 1787.4,1968.7 1778.0,1973.4 1768.5,1978.2 1759.0,1982.9 1749.6,1987.7 1740.1,1992.5 1730.6,1997.2 1721.2,2002.0 1711.7,2006.8 1702.2,2011.6 1692.8,2016.4 1683.3,2021.2 1673.8,2026.0 1664.3,2030.8 1654.9,2035.6" fill="#929292"/>
<path d="M1654.9 2021.5L1938.9 1897.1" stroke="#6F5FCF" stroke-width="1.5"/>
<circle cx="1665.9" cy="1851.0" r="2.75" fill="#FBD393" stroke="#F59C1C" stroke-width="2.2"/>
<circle cx="1665.9" cy="1871.1" r="2.75" fill="#C6BFF1" stroke="#6F5FCF" stroke-width="2.2"/>
<text x="1678.7" y="1854.7" font-size="16.3" text-anchor="start" fill="#000">Bias gene</text>
<text x="1678.7" y="1874.7" font-size="16.3" text-anchor="start" fill="#000">Favorable site</text>
<text x="-1.2" y="43.6" font-size="50.5" text-anchor="start" fill="#000">a</text>
<text x="0.0" y="758.3" font-size="50.5" text-anchor="start" fill="#000">b</text>
<text x="0.5" y="1472.8" font-size="50.5" text-anchor="start" fill="#000">c</text></svg>
</body></html>
